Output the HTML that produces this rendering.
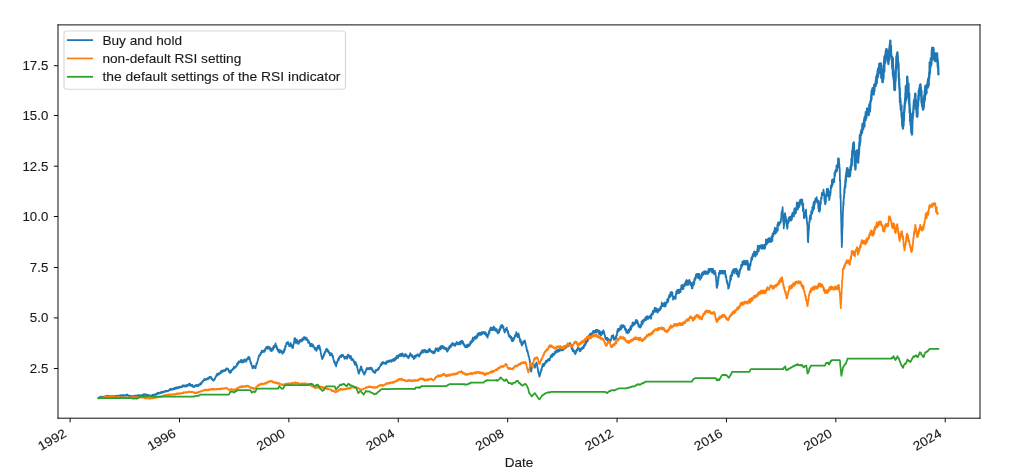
<!DOCTYPE html>
<html><head><meta charset="utf-8"><title>Chart</title>
<style>html,body{margin:0;padding:0;background:#fff;} body{width:1024px;height:471px;overflow:hidden;font-family:"Liberation Sans",sans-serif;}</style>
</head><body>
<svg width="1024" height="471" viewBox="0 0 1024 471" style="display:block;will-change:transform">
<path d="M98.4,397.7 L98.5,398.0 L98.7,398.2 L98.8,397.6 L98.9,397.5 L99.0,397.6 L99.2,397.8 L99.3,397.5 L99.4,397.4 L99.5,397.1 L99.7,397.5 L99.8,397.6 L99.9,397.2 L100.0,396.9 L100.2,397.0 L100.3,397.2 L100.4,396.7 L100.5,397.0 L100.7,397.0 L100.8,397.2 L100.9,397.1 L101.0,397.2 L101.2,397.5 L101.3,397.3 L101.4,397.5 L101.5,397.2 L101.7,397.1 L101.8,397.3 L101.9,396.7 L102.0,397.1 L102.2,397.2 L102.3,396.9 L102.4,397.3 L102.5,397.0 L102.7,396.7 L102.8,397.1 L102.9,397.0 L103.0,397.1 L103.2,397.0 L103.3,397.3 L103.4,397.0 L103.5,397.1 L103.7,397.1 L103.8,396.7 L103.9,397.3 L104.0,396.8 L104.2,397.0 L104.3,396.7 L104.4,396.7 L104.5,396.8 L104.7,397.2 L104.8,396.7 L104.9,396.8 L105.0,397.0 L105.2,396.7 L105.3,396.6 L105.4,396.6 L105.5,396.4 L105.7,396.5 L105.8,396.0 L105.9,396.4 L106.0,396.0 L106.2,396.0 L106.3,396.3 L106.4,396.4 L106.5,396.0 L106.7,396.7 L106.8,396.2 L106.9,396.4 L107.0,396.5 L107.2,396.1 L107.3,396.1 L107.4,396.6 L107.5,396.4 L107.7,396.2 L107.8,395.7 L107.9,395.9 L108.0,396.3 L108.2,396.0 L108.3,395.9 L108.4,396.0 L108.5,396.0 L108.7,396.2 L108.8,396.2 L108.9,396.4 L109.0,396.0 L109.2,396.5 L109.3,396.1 L109.4,396.0 L109.5,396.4 L109.7,396.1 L109.8,396.1 L109.9,396.1 L110.0,396.0 L110.2,396.5 L110.3,396.5 L110.4,396.5 L110.5,396.3 L110.7,396.5 L110.8,396.1 L110.9,396.1 L111.0,396.1 L111.2,396.0 L111.3,396.4 L111.4,396.5 L111.5,396.5 L111.7,395.8 L111.8,396.6 L111.9,396.2 L112.0,396.0 L112.2,396.3 L112.3,396.6 L112.4,396.5 L112.5,396.4 L112.7,396.3 L112.8,396.2 L112.9,396.4 L113.0,396.2 L113.2,396.1 L113.3,396.2 L113.4,396.3 L113.5,396.5 L113.7,396.9 L113.8,396.0 L113.9,396.6 L114.0,396.4 L114.2,396.6 L114.3,396.8 L114.4,396.7 L114.5,396.4 L114.7,396.3 L114.8,396.1 L114.9,396.3 L115.0,396.7 L115.2,396.2 L115.3,396.3 L115.4,396.3 L115.5,396.3 L115.7,396.3 L115.8,396.0 L115.9,395.7 L116.0,395.6 L116.2,396.1 L116.3,395.8 L116.4,395.9 L116.5,396.1 L116.7,395.8 L116.8,396.4 L116.9,396.2 L117.0,395.9 L117.2,395.9 L117.3,396.2 L117.4,395.9 L117.5,396.0 L117.7,396.1 L117.8,396.1 L117.9,396.2 L118.0,396.4 L118.2,396.2 L118.3,396.2 L118.4,396.5 L118.5,396.3 L118.7,395.9 L118.8,396.4 L118.9,395.5 L119.0,396.1 L119.2,396.1 L119.3,395.9 L119.4,395.7 L119.5,395.7 L119.7,395.5 L119.8,395.5 L119.9,395.6 L120.0,395.4 L120.2,395.5 L120.3,395.8 L120.4,395.3 L120.5,395.6 L120.7,395.4 L120.8,395.9 L120.9,396.1 L121.0,395.4 L121.2,395.6 L121.3,396.0 L121.4,395.8 L121.5,395.7 L121.7,395.3 L121.8,395.8 L121.9,395.9 L122.0,396.1 L122.2,395.8 L122.3,395.5 L122.4,395.4 L122.5,395.1 L122.7,395.3 L122.8,395.8 L122.9,395.4 L123.0,395.1 L123.2,395.8 L123.3,395.2 L123.4,395.9 L123.5,395.4 L123.7,395.5 L123.8,395.7 L123.9,395.5 L124.0,395.7 L124.2,395.4 L124.3,395.4 L124.4,395.3 L124.5,395.1 L124.7,395.2 L124.8,395.5 L124.9,395.5 L125.0,395.6 L125.2,395.9 L125.3,395.5 L125.4,395.5 L125.5,395.2 L125.7,395.3 L125.8,395.8 L125.9,395.5 L126.0,395.4 L126.2,395.5 L126.3,395.3 L126.4,395.4 L126.6,395.4 L126.7,395.3 L126.8,394.4 L126.9,394.8 L127.1,395.1 L127.2,394.5 L127.3,395.3 L127.4,395.3 L127.6,395.0 L127.7,395.2 L127.8,395.2 L127.9,395.6 L128.1,395.7 L128.2,395.7 L128.3,395.4 L128.4,395.7 L128.6,395.6 L128.7,396.0 L128.8,395.9 L128.9,395.6 L129.1,395.7 L129.2,396.1 L129.3,396.0 L129.5,396.2 L129.6,396.3 L129.7,396.0 L129.8,395.7 L130.0,395.8 L130.1,396.2 L130.2,396.0 L130.3,396.5 L130.5,396.3 L130.6,396.5 L130.7,396.3 L130.8,396.6 L131.0,395.8 L131.1,396.6 L131.2,396.8 L131.3,396.3 L131.5,396.4 L131.6,396.6 L131.7,396.5 L131.8,396.3 L132.0,396.7 L132.1,396.7 L132.2,396.5 L132.4,396.5 L132.5,396.7 L132.6,396.5 L132.7,396.6 L132.9,396.0 L133.0,396.4 L133.1,396.4 L133.2,396.2 L133.4,396.2 L133.5,396.0 L133.6,396.2 L133.7,396.2 L133.9,396.2 L134.0,396.1 L134.1,396.5 L134.2,396.4 L134.4,395.9 L134.5,396.1 L134.6,395.7 L134.7,396.0 L134.9,396.2 L135.0,396.3 L135.1,395.8 L135.2,395.5 L135.4,395.8 L135.5,396.2 L135.6,395.9 L135.7,396.1 L135.9,396.0 L136.0,395.7 L136.1,395.6 L136.3,396.2 L136.4,396.0 L136.5,396.1 L136.6,396.2 L136.8,396.1 L136.9,395.6 L137.0,396.0 L137.1,396.1 L137.3,396.1 L137.4,396.0 L137.5,395.5 L137.6,395.6 L137.8,395.7 L137.9,395.7 L138.0,395.5 L138.1,395.2 L138.3,395.4 L138.4,395.7 L138.5,395.8 L138.6,395.8 L138.8,395.2 L138.9,395.5 L139.0,395.7 L139.1,395.1 L139.3,395.3 L139.4,395.3 L139.5,395.8 L139.6,395.7 L139.8,395.5 L139.9,395.8 L140.0,395.7 L140.1,395.9 L140.3,396.0 L140.4,396.0 L140.5,395.8 L140.6,395.9 L140.8,395.9 L140.9,396.0 L141.0,395.1 L141.1,395.5 L141.3,395.5 L141.4,395.5 L141.5,395.3 L141.6,395.2 L141.8,395.4 L141.9,395.3 L142.0,395.0 L142.2,395.6 L142.3,395.3 L142.4,395.1 L142.5,395.0 L142.7,395.0 L142.8,395.0 L142.9,394.8 L143.0,395.0 L143.2,394.6 L143.3,394.5 L143.4,394.3 L143.5,395.0 L143.7,395.1 L143.8,394.9 L143.9,394.3 L144.0,394.6 L144.2,394.8 L144.3,394.6 L144.4,394.9 L144.5,394.4 L144.7,394.8 L144.8,394.8 L144.9,394.3 L145.1,394.7 L145.2,394.8 L145.3,394.7 L145.4,394.5 L145.6,395.0 L145.7,394.5 L145.8,394.7 L145.9,394.5 L146.1,394.4 L146.2,395.0 L146.3,395.3 L146.4,394.9 L146.6,395.2 L146.7,395.3 L146.8,395.1 L146.9,395.1 L147.1,394.8 L147.2,395.4 L147.3,395.7 L147.4,395.4 L147.6,395.2 L147.7,395.3 L147.8,395.0 L148.0,395.4 L148.1,395.6 L148.2,395.2 L148.3,395.5 L148.5,395.4 L148.6,395.2 L148.7,395.2 L148.8,395.7 L149.0,395.5 L149.1,395.3 L149.2,396.1 L149.3,396.1 L149.5,395.8 L149.6,395.7 L149.7,396.0 L149.8,396.1 L150.0,396.1 L150.1,395.7 L150.2,395.8 L150.3,396.0 L150.5,396.1 L150.6,396.3 L150.7,395.6 L150.8,396.0 L151.0,396.2 L151.1,395.9 L151.2,395.7 L151.3,395.8 L151.5,395.4 L151.6,395.7 L151.7,395.5 L151.9,395.3 L152.0,395.9 L152.1,395.7 L152.2,395.3 L152.4,395.8 L152.5,395.0 L152.6,395.3 L152.7,395.1 L152.9,394.8 L153.0,395.3 L153.1,394.7 L153.2,395.3 L153.4,394.8 L153.5,395.0 L153.6,395.0 L153.7,395.1 L153.9,394.8 L154.0,395.0 L154.1,394.9 L154.2,394.9 L154.4,394.7 L154.5,395.1 L154.6,394.5 L154.7,394.5 L154.9,394.7 L155.0,394.5 L155.1,394.2 L155.2,394.5 L155.4,394.4 L155.5,394.3 L155.6,394.6 L155.7,394.3 L155.9,394.4 L156.0,394.3 L156.1,394.9 L156.2,394.3 L156.4,394.4 L156.5,394.2 L156.6,394.3 L156.7,394.1 L156.9,394.1 L157.0,393.8 L157.1,393.2 L157.2,393.8 L157.4,393.5 L157.5,393.9 L157.6,393.7 L157.7,393.3 L157.9,392.6 L158.0,392.8 L158.1,393.1 L158.2,393.4 L158.4,393.1 L158.5,393.3 L158.6,393.0 L158.7,393.3 L158.9,393.7 L159.0,393.2 L159.1,393.4 L159.2,393.3 L159.4,393.3 L159.5,393.3 L159.6,393.3 L159.7,392.8 L159.9,392.6 L160.0,392.9 L160.1,392.6 L160.2,392.9 L160.4,393.0 L160.5,392.7 L160.6,392.4 L160.7,392.6 L160.9,392.6 L161.0,392.5 L161.1,392.9 L161.2,392.7 L161.4,392.6 L161.5,392.0 L161.6,391.7 L161.7,392.2 L161.9,392.8 L162.0,392.2 L162.1,392.3 L162.2,392.3 L162.4,392.5 L162.5,392.1 L162.6,392.5 L162.7,391.9 L162.9,391.9 L163.0,392.3 L163.1,392.0 L163.2,391.9 L163.3,391.8 L163.5,391.8 L163.6,391.8 L163.7,392.1 L163.8,391.8 L164.0,391.3 L164.1,392.2 L164.2,391.5 L164.3,391.5 L164.5,391.6 L164.6,391.4 L164.7,391.3 L164.8,391.6 L165.0,391.8 L165.1,391.5 L165.2,391.7 L165.3,391.3 L165.5,391.6 L165.6,391.0 L165.7,391.3 L165.8,390.9 L166.0,390.9 L166.1,390.8 L166.2,390.7 L166.3,391.1 L166.5,390.9 L166.6,391.1 L166.7,391.3 L166.8,390.9 L167.0,390.9 L167.1,391.1 L167.2,391.0 L167.3,391.3 L167.5,391.3 L167.6,391.3 L167.7,390.9 L167.8,391.0 L168.0,391.0 L168.1,391.2 L168.2,390.9 L168.3,390.6 L168.5,390.9 L168.6,390.9 L168.7,390.5 L168.8,390.5 L169.0,390.1 L169.1,390.1 L169.2,390.1 L169.3,389.7 L169.5,389.3 L169.6,390.0 L169.7,390.1 L169.8,389.4 L170.0,389.6 L170.1,389.4 L170.2,388.7 L170.3,390.1 L170.5,389.5 L170.6,389.0 L170.7,389.6 L170.8,389.3 L171.0,389.6 L171.1,389.4 L171.2,389.5 L171.3,389.6 L171.5,389.2 L171.6,389.4 L171.7,389.0 L171.8,388.9 L172.0,389.4 L172.1,389.4 L172.2,388.7 L172.3,389.5 L172.5,389.6 L172.6,389.0 L172.7,389.2 L172.8,389.6 L173.0,388.9 L173.1,389.4 L173.2,389.3 L173.4,389.1 L173.5,388.9 L173.6,388.7 L173.7,388.7 L173.9,388.5 L174.0,388.1 L174.1,388.6 L174.2,388.3 L174.4,389.0 L174.5,389.2 L174.6,388.9 L174.7,387.9 L174.9,388.8 L175.0,388.5 L175.1,388.0 L175.2,387.9 L175.4,388.5 L175.5,388.3 L175.6,388.5 L175.7,388.4 L175.9,388.6 L176.0,387.4 L176.1,388.4 L176.2,388.0 L176.4,388.1 L176.5,388.4 L176.6,388.3 L176.7,387.5 L176.9,388.3 L177.0,387.8 L177.1,387.4 L177.2,387.7 L177.4,387.3 L177.5,388.0 L177.6,388.3 L177.7,387.7 L177.9,387.8 L178.0,387.9 L178.1,387.8 L178.3,387.7 L178.4,387.2 L178.5,387.5 L178.6,387.3 L178.8,387.6 L178.9,387.8 L179.0,387.6 L179.1,387.7 L179.3,387.9 L179.4,387.0 L179.5,387.2 L179.6,386.6 L179.8,387.7 L179.9,387.0 L180.0,387.1 L180.1,387.2 L180.3,387.3 L180.4,387.1 L180.5,387.2 L180.6,387.3 L180.8,387.0 L180.9,387.2 L181.0,386.7 L181.1,386.9 L181.3,386.5 L181.4,387.2 L181.5,387.0 L181.6,387.0 L181.8,386.9 L181.9,386.8 L182.0,387.0 L182.1,386.4 L182.3,385.8 L182.4,386.1 L182.5,386.9 L182.6,386.3 L182.8,386.6 L182.9,386.0 L183.0,386.4 L183.1,385.2 L183.3,385.9 L183.4,386.2 L183.5,386.0 L183.6,386.1 L183.8,386.0 L183.9,385.9 L184.0,386.2 L184.1,386.3 L184.3,385.7 L184.4,385.8 L184.5,386.2 L184.6,385.6 L184.8,385.7 L184.9,385.4 L185.0,386.5 L185.1,386.4 L185.3,385.9 L185.4,386.7 L185.5,386.2 L185.6,385.3 L185.8,386.0 L185.9,386.0 L186.0,386.2 L186.1,386.4 L186.3,385.9 L186.4,386.2 L186.5,385.6 L186.6,386.3 L186.8,385.7 L186.9,385.0 L187.0,386.4 L187.1,385.9 L187.3,385.1 L187.4,385.5 L187.5,385.4 L187.6,385.8 L187.8,385.1 L187.9,385.6 L188.0,385.0 L188.1,385.6 L188.3,384.9 L188.4,384.4 L188.5,384.7 L188.6,384.4 L188.8,384.7 L188.9,383.9 L189.0,384.0 L189.1,384.2 L189.3,385.1 L189.4,384.7 L189.5,384.0 L189.6,383.6 L189.8,385.2 L189.9,384.6 L190.0,384.5 L190.1,385.3 L190.3,384.2 L190.4,384.7 L190.5,385.0 L190.6,385.1 L190.8,385.6 L190.9,386.1 L191.0,385.3 L191.1,385.5 L191.3,385.2 L191.4,385.8 L191.5,385.2 L191.6,385.3 L191.8,385.0 L191.9,385.5 L192.0,385.2 L192.2,385.0 L192.3,386.0 L192.4,384.9 L192.5,385.8 L192.7,385.9 L192.8,385.8 L192.9,386.9 L193.0,386.4 L193.2,386.3 L193.3,386.4 L193.4,386.5 L193.5,386.6 L193.7,386.5 L193.8,386.4 L193.9,387.2 L194.0,386.7 L194.2,386.5 L194.3,386.6 L194.4,386.6 L194.5,386.0 L194.7,385.7 L194.8,386.2 L194.9,386.5 L195.0,385.7 L195.2,385.7 L195.3,385.6 L195.4,385.3 L195.5,385.8 L195.7,385.1 L195.8,386.0 L195.9,386.3 L196.0,385.8 L196.2,385.5 L196.3,385.4 L196.4,386.0 L196.5,385.5 L196.7,384.9 L196.8,385.0 L196.9,385.4 L197.0,385.0 L197.2,385.3 L197.3,385.3 L197.4,385.8 L197.5,385.2 L197.7,385.7 L197.8,385.8 L197.9,385.9 L198.0,385.3 L198.2,385.5 L198.3,386.3 L198.4,385.1 L198.5,384.9 L198.7,385.0 L198.8,384.5 L198.9,384.6 L199.0,384.7 L199.2,384.7 L199.3,384.9 L199.4,384.3 L199.5,384.4 L199.6,384.5 L199.8,384.2 L199.9,384.5 L200.0,385.0 L200.1,383.6 L200.3,383.5 L200.4,383.7 L200.5,383.5 L200.6,383.4 L200.8,383.6 L200.9,384.1 L201.0,384.3 L201.1,383.3 L201.3,382.3 L201.4,383.7 L201.5,383.0 L201.6,382.6 L201.8,383.0 L201.9,382.3 L202.0,382.2 L202.1,381.9 L202.3,382.2 L202.4,382.2 L202.5,381.4 L202.6,381.2 L202.8,381.8 L202.9,381.0 L203.0,380.9 L203.1,380.5 L203.3,380.5 L203.4,380.7 L203.5,380.3 L203.6,380.4 L203.8,380.4 L203.9,379.5 L204.0,380.2 L204.1,380.0 L204.3,380.4 L204.4,379.4 L204.5,379.5 L204.6,379.8 L204.8,378.9 L204.9,379.7 L205.0,379.7 L205.1,379.6 L205.3,379.2 L205.4,380.0 L205.5,379.4 L205.6,379.4 L205.8,379.6 L205.9,379.2 L206.0,379.7 L206.1,379.3 L206.3,379.4 L206.4,379.2 L206.5,379.5 L206.6,378.9 L206.8,379.4 L206.9,379.4 L207.0,378.7 L207.1,378.4 L207.3,378.4 L207.4,378.7 L207.5,379.1 L207.6,378.7 L207.8,379.3 L207.9,379.2 L208.0,378.0 L208.1,378.3 L208.3,378.1 L208.4,378.7 L208.5,378.3 L208.6,378.4 L208.8,377.7 L208.9,378.7 L209.0,377.3 L209.1,377.5 L209.3,377.0 L209.4,377.0 L209.5,377.5 L209.6,376.9 L209.8,377.5 L209.9,377.1 L210.0,377.0 L210.1,377.3 L210.3,377.5 L210.4,377.0 L210.5,377.7 L210.6,377.1 L210.8,377.9 L210.9,377.0 L211.0,377.7 L211.1,377.1 L211.3,377.7 L211.4,377.8 L211.5,378.9 L211.6,379.2 L211.8,379.0 L211.9,379.1 L212.0,378.4 L212.1,378.7 L212.2,379.2 L212.4,379.4 L212.5,379.7 L212.6,379.1 L212.7,379.2 L212.9,379.7 L213.0,380.6 L213.1,380.2 L213.2,380.3 L213.4,380.3 L213.5,380.7 L213.6,380.7 L213.7,380.6 L213.9,379.6 L214.0,379.7 L214.1,380.0 L214.2,379.6 L214.4,379.3 L214.5,379.2 L214.6,379.1 L214.7,379.4 L214.9,379.2 L215.0,378.1 L215.1,378.2 L215.2,378.0 L215.4,377.4 L215.5,377.7 L215.6,377.1 L215.8,376.7 L215.9,376.1 L216.0,376.6 L216.1,376.2 L216.3,376.2 L216.4,375.6 L216.5,376.3 L216.6,374.4 L216.8,374.9 L216.9,375.4 L217.0,375.1 L217.2,375.5 L217.3,375.0 L217.4,374.5 L217.5,373.6 L217.7,373.9 L217.8,375.0 L217.9,373.9 L218.0,373.8 L218.2,373.9 L218.3,374.7 L218.4,374.2 L218.5,373.3 L218.7,373.9 L218.8,374.4 L218.9,374.6 L219.0,374.3 L219.2,373.8 L219.3,373.6 L219.4,373.2 L219.6,373.4 L219.7,373.0 L219.8,373.6 L219.9,373.7 L220.1,373.3 L220.2,373.0 L220.3,373.4 L220.4,373.3 L220.6,373.2 L220.7,371.5 L220.8,371.2 L220.9,371.9 L221.1,372.3 L221.2,372.6 L221.3,372.1 L221.4,371.5 L221.6,371.4 L221.7,371.2 L221.8,371.2 L221.9,370.6 L222.1,372.3 L222.2,371.1 L222.3,371.0 L222.4,370.7 L222.6,370.8 L222.7,371.0 L222.8,371.2 L222.9,370.6 L223.1,371.5 L223.2,371.1 L223.3,371.4 L223.4,370.7 L223.6,371.1 L223.7,370.1 L223.8,370.6 L223.9,370.4 L224.1,371.2 L224.2,371.0 L224.3,371.2 L224.4,370.4 L224.6,370.2 L224.7,370.4 L224.8,369.9 L224.9,370.3 L225.1,370.9 L225.2,369.6 L225.3,369.9 L225.4,370.1 L225.6,370.5 L225.7,370.4 L225.8,369.2 L225.9,368.9 L226.1,369.3 L226.2,369.0 L226.3,368.4 L226.4,369.7 L226.6,369.7 L226.7,369.4 L226.8,369.5 L226.9,369.0 L227.1,368.6 L227.2,369.3 L227.3,368.9 L227.4,369.2 L227.6,368.5 L227.7,368.7 L227.8,368.8 L227.9,369.1 L228.1,368.9 L228.2,369.1 L228.3,369.5 L228.4,369.7 L228.6,370.4 L228.7,370.2 L228.8,370.8 L228.9,371.0 L229.1,371.7 L229.2,371.3 L229.3,371.7 L229.4,372.6 L229.6,371.4 L229.7,372.5 L229.8,372.7 L229.9,372.8 L230.1,373.0 L230.2,372.2 L230.3,370.7 L230.4,372.1 L230.6,371.7 L230.7,371.1 L230.8,371.9 L230.9,370.8 L231.1,370.5 L231.2,372.2 L231.3,370.6 L231.4,370.9 L231.6,370.9 L231.7,370.7 L231.8,370.0 L231.9,370.5 L232.1,370.3 L232.2,370.0 L232.3,370.0 L232.4,370.0 L232.6,369.9 L232.7,369.8 L232.8,368.6 L232.9,369.0 L233.1,369.2 L233.2,368.6 L233.3,368.6 L233.4,368.4 L233.6,368.9 L233.7,368.4 L233.8,367.0 L234.0,368.3 L234.1,367.7 L234.2,367.2 L234.3,368.5 L234.5,367.1 L234.6,367.4 L234.7,367.4 L234.8,366.8 L235.0,367.6 L235.1,366.8 L235.2,367.4 L235.3,366.4 L235.5,367.6 L235.6,366.7 L235.7,367.2 L235.8,366.1 L236.0,366.4 L236.1,366.5 L236.2,366.1 L236.3,365.9 L236.5,366.4 L236.6,366.0 L236.7,365.4 L236.8,365.7 L237.0,363.7 L237.1,364.4 L237.2,365.2 L237.4,364.5 L237.5,363.9 L237.6,362.9 L237.7,363.3 L237.9,364.1 L238.0,362.9 L238.1,362.5 L238.2,362.9 L238.4,363.5 L238.5,362.3 L238.6,361.5 L238.7,362.6 L238.9,362.2 L239.0,362.5 L239.1,361.4 L239.2,361.7 L239.4,361.9 L239.5,362.0 L239.6,362.4 L239.7,362.0 L239.9,362.1 L240.0,362.0 L240.1,362.0 L240.2,361.7 L240.4,361.3 L240.5,361.0 L240.6,361.5 L240.8,360.1 L240.9,360.7 L241.0,360.9 L241.1,362.4 L241.3,362.1 L241.4,362.1 L241.5,360.9 L241.6,360.0 L241.8,361.0 L241.9,361.2 L242.0,360.1 L242.1,362.3 L242.3,362.1 L242.4,360.6 L242.5,361.1 L242.6,361.3 L242.8,361.3 L242.9,361.5 L243.0,361.6 L243.1,361.3 L243.3,362.5 L243.4,361.0 L243.5,360.3 L243.6,361.7 L243.8,361.6 L243.9,360.2 L244.0,360.1 L244.1,360.3 L244.3,359.5 L244.4,359.8 L244.5,360.7 L244.6,359.6 L244.8,360.3 L244.9,360.4 L245.0,360.7 L245.1,361.3 L245.3,361.2 L245.4,361.0 L245.5,360.6 L245.7,360.1 L245.8,361.5 L245.9,361.7 L246.0,360.5 L246.2,360.6 L246.3,361.6 L246.4,359.2 L246.5,360.4 L246.7,359.4 L246.8,359.5 L246.9,358.8 L247.0,359.7 L247.2,359.5 L247.3,358.5 L247.4,359.5 L247.5,359.1 L247.7,359.6 L247.8,358.3 L247.9,359.2 L248.0,358.4 L248.2,358.6 L248.3,357.0 L248.4,359.0 L248.5,357.7 L248.7,358.1 L248.8,357.1 L248.9,357.6 L249.0,357.7 L249.2,357.3 L249.3,357.1 L249.4,358.1 L249.5,357.7 L249.7,358.1 L249.8,358.9 L249.9,360.0 L250.0,359.9 L250.2,361.3 L250.3,361.3 L250.4,361.8 L250.5,362.3 L250.7,363.1 L250.8,363.0 L250.9,361.9 L251.0,363.6 L251.1,364.2 L251.3,363.7 L251.4,363.6 L251.5,365.0 L251.6,364.9 L251.8,365.7 L251.9,365.9 L252.0,366.7 L252.1,366.1 L252.3,367.3 L252.4,367.8 L252.5,368.2 L252.6,367.7 L252.7,367.6 L252.9,368.1 L253.0,367.4 L253.1,367.3 L253.2,366.9 L253.3,366.5 L253.5,367.3 L253.6,366.0 L253.7,365.8 L253.8,366.8 L254.0,366.4 L254.1,365.9 L254.2,366.5 L254.3,366.7 L254.5,367.0 L254.6,366.9 L254.7,367.8 L254.8,366.7 L255.0,367.6 L255.1,367.7 L255.2,368.0 L255.4,368.3 L255.5,368.0 L255.6,368.2 L255.7,367.1 L255.9,366.1 L256.0,365.8 L256.1,365.7 L256.2,365.4 L256.4,363.5 L256.5,363.7 L256.6,363.9 L256.7,364.1 L256.9,363.2 L257.0,363.3 L257.1,363.7 L257.2,362.2 L257.3,361.9 L257.5,361.6 L257.6,361.4 L257.7,360.7 L257.8,359.8 L258.0,359.9 L258.1,359.5 L258.2,358.6 L258.3,358.5 L258.5,358.8 L258.6,356.6 L258.7,356.8 L258.8,357.1 L258.9,356.7 L259.1,355.3 L259.2,355.2 L259.3,355.4 L259.4,355.7 L259.6,356.0 L259.7,354.5 L259.8,355.6 L259.9,354.8 L260.1,354.7 L260.2,355.0 L260.3,354.5 L260.4,354.3 L260.6,354.5 L260.7,354.3 L260.8,352.6 L260.9,352.3 L261.1,352.5 L261.2,352.9 L261.3,353.1 L261.5,351.8 L261.6,352.9 L261.7,350.7 L261.8,352.6 L262.0,351.5 L262.1,351.6 L262.2,351.2 L262.3,350.9 L262.5,352.1 L262.6,351.2 L262.7,351.5 L262.8,352.0 L263.0,350.8 L263.1,351.9 L263.2,351.0 L263.4,351.9 L263.5,350.9 L263.6,352.0 L263.7,351.1 L263.9,350.8 L264.0,352.0 L264.1,352.0 L264.2,351.7 L264.4,350.1 L264.5,349.7 L264.6,351.2 L264.7,350.8 L264.9,349.9 L265.0,350.0 L265.1,349.3 L265.3,350.7 L265.4,349.5 L265.5,348.4 L265.6,349.1 L265.8,348.3 L265.9,348.3 L266.0,347.3 L266.1,347.5 L266.3,347.9 L266.4,348.2 L266.5,347.6 L266.6,347.6 L266.8,347.5 L266.9,347.0 L267.0,348.3 L267.1,347.1 L267.3,347.1 L267.4,348.7 L267.5,347.2 L267.6,347.2 L267.8,349.0 L267.9,346.4 L268.0,348.2 L268.1,347.2 L268.3,347.4 L268.4,347.0 L268.5,347.5 L268.6,347.9 L268.8,347.3 L268.9,347.2 L269.0,348.4 L269.1,348.1 L269.3,348.0 L269.4,347.7 L269.5,347.0 L269.6,348.8 L269.8,347.7 L269.9,348.5 L270.0,348.6 L270.1,349.0 L270.3,350.6 L270.4,349.5 L270.5,349.8 L270.6,350.4 L270.8,349.5 L270.9,348.5 L271.0,349.2 L271.1,349.7 L271.3,349.2 L271.4,350.4 L271.5,351.1 L271.7,350.3 L271.8,351.2 L271.9,350.5 L272.0,349.1 L272.2,349.6 L272.3,348.1 L272.4,349.4 L272.5,348.5 L272.7,348.1 L272.8,348.6 L272.9,348.8 L273.0,349.9 L273.2,348.7 L273.3,348.1 L273.4,347.7 L273.5,346.2 L273.7,346.6 L273.8,345.9 L273.9,346.1 L274.0,347.3 L274.2,347.3 L274.3,346.3 L274.4,345.9 L274.5,346.6 L274.7,347.5 L274.8,345.6 L274.9,346.1 L275.0,345.8 L275.2,344.5 L275.3,344.6 L275.4,345.1 L275.6,343.3 L275.7,344.4 L275.8,344.9 L275.9,345.2 L276.1,345.6 L276.2,346.3 L276.3,345.9 L276.4,346.1 L276.6,345.9 L276.7,346.6 L276.8,347.6 L276.9,349.2 L277.1,347.7 L277.2,347.7 L277.3,348.8 L277.4,349.4 L277.6,349.2 L277.7,349.4 L277.8,349.7 L277.9,350.6 L278.0,350.9 L278.2,350.4 L278.3,350.2 L278.4,351.7 L278.5,351.1 L278.7,350.7 L278.8,350.3 L278.9,349.7 L279.0,352.3 L279.2,350.9 L279.3,351.2 L279.4,351.5 L279.5,351.9 L279.7,352.7 L279.8,351.5 L279.9,352.2 L280.0,350.9 L280.2,350.2 L280.3,351.6 L280.4,350.6 L280.5,350.6 L280.7,351.4 L280.8,352.2 L280.9,351.5 L281.0,350.6 L281.2,351.3 L281.3,351.1 L281.4,351.3 L281.5,351.7 L281.7,351.9 L281.8,352.2 L281.9,351.9 L282.0,351.6 L282.2,351.3 L282.3,351.5 L282.4,353.8 L282.5,353.8 L282.7,351.6 L282.8,352.7 L282.9,352.3 L283.0,353.0 L283.2,351.9 L283.3,351.8 L283.4,351.4 L283.5,351.4 L283.7,350.9 L283.8,350.9 L283.9,351.4 L284.0,352.1 L284.2,349.5 L284.3,350.4 L284.4,348.7 L284.5,350.8 L284.7,350.4 L284.8,349.1 L284.9,349.5 L285.1,347.9 L285.2,346.4 L285.3,348.3 L285.4,345.6 L285.6,345.8 L285.7,346.8 L285.8,345.8 L285.9,345.3 L286.1,344.2 L286.2,343.5 L286.3,343.3 L286.4,344.2 L286.6,343.4 L286.7,342.7 L286.8,343.7 L286.9,343.4 L287.1,343.4 L287.2,342.8 L287.3,343.7 L287.4,343.0 L287.5,343.0 L287.7,343.0 L287.8,342.5 L287.9,342.5 L288.0,341.8 L288.2,344.4 L288.3,342.9 L288.4,343.0 L288.5,344.2 L288.7,344.3 L288.8,344.0 L288.9,344.0 L289.0,344.4 L289.2,346.3 L289.3,344.7 L289.4,345.2 L289.5,345.8 L289.7,345.9 L289.8,345.1 L289.9,344.5 L290.0,344.0 L290.2,344.0 L290.3,344.9 L290.4,344.7 L290.5,344.9 L290.7,343.0 L290.8,343.7 L290.9,345.4 L291.0,346.5 L291.2,345.4 L291.3,344.4 L291.4,345.7 L291.5,345.4 L291.7,346.0 L291.8,346.2 L291.9,346.6 L292.0,346.8 L292.2,347.1 L292.3,346.4 L292.4,348.1 L292.5,347.0 L292.7,346.1 L292.8,347.3 L292.9,347.5 L293.1,346.3 L293.2,347.6 L293.3,344.6 L293.4,344.3 L293.6,343.9 L293.7,344.3 L293.8,343.6 L293.9,342.2 L294.1,342.7 L294.2,342.1 L294.3,340.0 L294.4,338.5 L294.6,340.1 L294.7,338.5 L294.8,338.6 L294.9,339.2 L295.1,338.2 L295.2,341.3 L295.3,339.8 L295.4,339.6 L295.6,340.1 L295.7,341.1 L295.8,343.0 L295.9,339.1 L296.1,340.3 L296.2,341.4 L296.3,339.9 L296.4,340.5 L296.6,340.3 L296.7,340.7 L296.8,341.3 L296.9,340.1 L297.1,340.4 L297.2,340.1 L297.3,341.4 L297.4,343.5 L297.6,342.6 L297.7,342.1 L297.8,343.7 L297.9,343.3 L298.1,342.1 L298.2,341.9 L298.3,342.4 L298.4,341.9 L298.6,342.3 L298.7,342.5 L298.8,343.9 L299.0,341.8 L299.1,343.2 L299.2,342.0 L299.3,340.6 L299.5,341.5 L299.6,341.2 L299.7,341.3 L299.8,340.2 L300.0,341.3 L300.1,341.7 L300.2,340.0 L300.3,341.2 L300.5,341.7 L300.6,340.9 L300.7,339.9 L300.8,340.3 L301.0,341.1 L301.1,341.2 L301.2,341.1 L301.3,340.8 L301.5,340.5 L301.6,340.4 L301.7,339.2 L301.8,340.1 L302.0,341.3 L302.1,339.8 L302.2,339.9 L302.3,339.9 L302.5,339.8 L302.6,339.5 L302.7,339.5 L302.9,339.3 L303.0,338.5 L303.1,339.5 L303.2,337.7 L303.4,339.9 L303.5,338.7 L303.6,338.2 L303.7,339.8 L303.9,338.0 L304.0,338.5 L304.1,337.1 L304.2,338.0 L304.4,338.5 L304.5,337.6 L304.6,338.0 L304.7,337.1 L304.9,338.7 L305.0,337.3 L305.1,338.3 L305.2,337.9 L305.4,338.5 L305.5,338.1 L305.6,337.9 L305.7,338.2 L305.9,338.7 L306.0,339.8 L306.1,337.6 L306.2,339.4 L306.4,338.6 L306.5,338.6 L306.6,337.8 L306.8,339.8 L306.9,339.5 L307.0,340.1 L307.1,339.0 L307.3,339.3 L307.4,339.7 L307.5,339.5 L307.6,340.5 L307.8,340.8 L307.9,341.0 L308.0,340.1 L308.1,342.6 L308.3,340.4 L308.4,341.1 L308.5,340.5 L308.6,341.5 L308.8,342.2 L308.9,341.6 L309.0,342.1 L309.1,342.0 L309.3,342.9 L309.4,342.9 L309.5,343.5 L309.6,342.3 L309.8,343.5 L309.9,343.9 L310.0,344.5 L310.1,346.2 L310.3,344.5 L310.4,345.4 L310.5,344.7 L310.7,345.4 L310.8,345.8 L310.9,346.5 L311.0,345.0 L311.2,343.9 L311.3,345.2 L311.4,345.6 L311.5,346.1 L311.7,345.4 L311.8,343.9 L311.9,345.5 L312.0,345.1 L312.2,344.5 L312.3,345.5 L312.4,344.9 L312.5,345.3 L312.7,346.4 L312.8,345.3 L312.9,344.5 L313.0,346.8 L313.2,346.5 L313.3,346.8 L313.4,345.7 L313.5,345.6 L313.7,346.7 L313.8,346.8 L313.9,347.1 L314.0,347.0 L314.2,347.5 L314.3,347.3 L314.4,347.3 L314.6,348.3 L314.7,349.5 L314.8,347.5 L314.9,349.3 L315.1,349.3 L315.2,347.8 L315.3,348.8 L315.4,347.8 L315.6,349.5 L315.7,348.9 L315.8,349.9 L315.9,349.5 L316.1,350.2 L316.2,350.8 L316.3,350.3 L316.4,350.5 L316.6,349.4 L316.7,350.8 L316.8,349.2 L316.9,348.8 L317.1,349.0 L317.2,347.1 L317.3,347.7 L317.4,348.2 L317.6,347.6 L317.7,346.0 L317.8,347.0 L317.9,347.6 L318.1,346.3 L318.2,348.7 L318.3,346.9 L318.4,346.7 L318.6,346.7 L318.7,346.4 L318.8,345.9 L318.9,345.6 L319.1,345.7 L319.2,345.4 L319.3,346.0 L319.5,346.5 L319.6,348.0 L319.7,346.7 L319.8,346.8 L320.0,349.6 L320.1,350.0 L320.2,349.5 L320.3,348.9 L320.5,350.1 L320.6,351.8 L320.7,352.2 L320.8,353.1 L321.0,353.7 L321.1,354.1 L321.2,354.2 L321.3,356.0 L321.5,356.5 L321.6,356.3 L321.7,356.5 L321.8,357.8 L322.0,358.0 L322.1,358.1 L322.2,359.1 L322.4,357.3 L322.5,357.4 L322.6,357.8 L322.7,358.0 L322.9,358.1 L323.0,357.0 L323.1,356.5 L323.2,356.7 L323.4,356.6 L323.5,355.1 L323.6,356.0 L323.7,356.4 L323.9,354.0 L324.0,354.0 L324.1,353.9 L324.2,353.4 L324.4,353.0 L324.5,354.7 L324.6,353.4 L324.7,353.3 L324.9,353.3 L325.0,351.7 L325.1,353.0 L325.2,351.6 L325.4,352.3 L325.5,351.2 L325.6,351.4 L325.7,350.6 L325.9,349.5 L326.0,349.3 L326.1,349.5 L326.3,349.2 L326.4,349.5 L326.5,350.0 L326.6,348.7 L326.8,350.0 L326.9,350.1 L327.0,350.2 L327.1,350.8 L327.3,351.2 L327.4,349.3 L327.5,350.8 L327.6,350.4 L327.8,350.1 L327.9,351.7 L328.0,351.6 L328.1,351.0 L328.3,351.3 L328.4,350.7 L328.5,352.4 L328.6,352.9 L328.8,353.0 L328.9,351.7 L329.0,353.0 L329.1,353.1 L329.3,353.4 L329.4,353.2 L329.5,352.9 L329.6,352.7 L329.8,352.7 L329.9,353.0 L330.0,355.4 L330.1,354.4 L330.3,354.0 L330.4,354.0 L330.5,354.8 L330.6,355.2 L330.8,355.1 L330.9,353.4 L331.0,353.6 L331.1,354.1 L331.3,354.7 L331.4,354.3 L331.5,354.2 L331.6,355.5 L331.8,353.3 L331.9,354.2 L332.0,355.3 L332.2,354.9 L332.3,355.0 L332.4,355.8 L332.5,355.6 L332.7,355.4 L332.8,357.5 L332.9,357.9 L333.0,356.1 L333.2,357.6 L333.3,358.2 L333.4,358.9 L333.5,359.7 L333.7,360.2 L333.8,360.2 L333.9,360.9 L334.0,362.1 L334.2,361.6 L334.3,362.2 L334.4,362.0 L334.5,361.2 L334.7,362.6 L334.8,362.3 L334.9,363.3 L335.0,363.8 L335.2,362.7 L335.3,364.2 L335.4,363.9 L335.5,364.7 L335.7,365.0 L335.8,365.9 L335.9,365.6 L336.1,366.4 L336.2,365.1 L336.3,364.0 L336.4,364.1 L336.6,363.8 L336.7,364.5 L336.8,363.8 L336.9,361.9 L337.1,362.6 L337.2,362.5 L337.3,362.4 L337.4,361.7 L337.6,361.1 L337.7,361.3 L337.8,360.2 L337.9,359.4 L338.1,359.9 L338.2,358.9 L338.3,359.0 L338.4,359.2 L338.6,358.6 L338.7,360.1 L338.8,357.8 L338.9,357.6 L339.1,358.9 L339.2,358.0 L339.3,357.5 L339.4,357.9 L339.6,357.2 L339.7,356.7 L339.8,357.6 L339.9,356.8 L340.1,356.6 L340.2,356.6 L340.3,356.2 L340.4,355.7 L340.6,355.5 L340.7,356.1 L340.8,356.0 L341.0,355.7 L341.1,355.5 L341.2,357.1 L341.3,355.6 L341.5,355.7 L341.6,355.4 L341.7,355.0 L341.8,355.3 L342.0,355.4 L342.1,354.6 L342.2,355.1 L342.3,355.1 L342.5,356.2 L342.6,356.2 L342.7,355.2 L342.8,355.4 L343.0,355.9 L343.1,355.6 L343.2,355.1 L343.4,356.7 L343.5,356.5 L343.6,356.5 L343.7,356.6 L343.9,356.7 L344.0,356.3 L344.1,357.0 L344.2,357.8 L344.4,358.3 L344.5,358.9 L344.6,357.5 L344.7,357.7 L344.9,357.1 L345.0,357.2 L345.1,356.8 L345.2,357.7 L345.4,357.5 L345.5,358.1 L345.6,357.6 L345.8,358.0 L345.9,357.2 L346.0,357.5 L346.1,357.1 L346.2,357.6 L346.4,357.3 L346.5,357.5 L346.6,357.1 L346.8,357.5 L346.9,356.6 L347.0,358.9 L347.1,357.4 L347.2,355.6 L347.4,356.8 L347.5,356.3 L347.6,356.3 L347.8,357.2 L347.9,354.6 L348.0,355.2 L348.1,355.9 L348.2,354.7 L348.4,355.8 L348.5,355.2 L348.6,355.2 L348.8,356.1 L348.9,356.6 L349.0,355.4 L349.1,355.7 L349.3,356.4 L349.4,356.0 L349.5,355.7 L349.6,356.3 L349.8,358.0 L349.9,358.1 L350.0,358.1 L350.1,358.3 L350.3,357.5 L350.4,357.6 L350.5,358.1 L350.6,357.9 L350.8,356.5 L350.9,358.1 L351.0,356.1 L351.1,357.5 L351.3,359.2 L351.4,359.4 L351.5,360.2 L351.6,358.5 L351.8,358.7 L351.9,359.1 L352.0,359.3 L352.1,359.0 L352.3,359.4 L352.4,359.1 L352.5,358.6 L352.7,359.0 L352.8,359.4 L352.9,360.1 L353.0,360.3 L353.2,359.9 L353.3,360.8 L353.4,359.9 L353.5,360.7 L353.7,360.2 L353.8,362.1 L353.9,361.0 L354.0,361.3 L354.2,362.9 L354.3,362.4 L354.4,361.6 L354.5,363.1 L354.7,364.3 L354.8,362.8 L354.9,362.2 L355.0,362.5 L355.2,364.2 L355.3,362.7 L355.4,362.7 L355.5,364.8 L355.7,362.3 L355.8,363.1 L355.9,362.4 L356.0,363.2 L356.2,363.7 L356.3,363.9 L356.4,365.6 L356.6,365.4 L356.7,364.6 L356.8,365.6 L356.9,366.9 L357.1,366.7 L357.2,367.4 L357.3,367.1 L357.4,367.5 L357.6,369.7 L357.7,369.7 L357.8,369.8 L357.9,370.6 L358.1,370.5 L358.2,371.5 L358.3,372.0 L358.4,373.0 L358.6,372.9 L358.7,373.4 L358.8,373.7 L358.9,373.3 L359.1,373.1 L359.2,372.8 L359.3,371.9 L359.4,371.6 L359.6,371.7 L359.7,370.5 L359.8,370.7 L359.9,370.5 L360.1,369.4 L360.2,370.4 L360.3,368.4 L360.4,369.0 L360.6,368.4 L360.7,368.2 L360.8,367.3 L360.9,366.5 L361.1,367.0 L361.2,366.9 L361.3,366.5 L361.5,367.3 L361.6,368.3 L361.7,368.6 L361.8,368.8 L362.0,369.7 L362.1,370.2 L362.2,371.0 L362.3,369.5 L362.5,369.9 L362.6,370.4 L362.7,370.9 L362.8,372.1 L363.0,371.8 L363.1,371.9 L363.2,372.4 L363.3,372.1 L363.5,373.3 L363.6,373.2 L363.7,373.4 L363.8,373.3 L364.0,374.0 L364.1,374.7 L364.2,374.7 L364.4,373.1 L364.5,373.8 L364.6,374.1 L364.7,372.9 L364.9,372.2 L365.0,373.0 L365.1,372.5 L365.2,371.7 L365.4,372.2 L365.5,371.8 L365.6,372.1 L365.7,371.3 L365.9,370.1 L366.0,370.7 L366.1,370.2 L366.2,369.6 L366.4,369.0 L366.5,369.4 L366.6,369.0 L366.7,368.3 L366.9,368.2 L367.0,367.9 L367.1,368.6 L367.3,368.3 L367.4,369.1 L367.5,369.3 L367.6,369.1 L367.8,368.7 L367.9,368.8 L368.0,368.6 L368.1,368.4 L368.3,368.8 L368.4,368.1 L368.5,368.2 L368.6,368.8 L368.8,369.1 L368.9,368.6 L369.0,368.3 L369.1,368.8 L369.3,369.4 L369.4,368.7 L369.5,369.0 L369.6,367.9 L369.8,368.6 L369.9,368.5 L370.0,368.2 L370.1,368.1 L370.3,368.2 L370.4,368.8 L370.5,368.4 L370.6,367.5 L370.8,368.5 L370.9,367.9 L371.0,369.1 L371.2,369.2 L371.3,368.0 L371.4,368.8 L371.5,368.4 L371.7,368.1 L371.8,369.0 L371.9,369.7 L372.0,368.7 L372.2,368.9 L372.3,370.4 L372.4,370.6 L372.5,370.9 L372.7,371.0 L372.8,370.3 L372.9,370.2 L373.0,370.7 L373.2,371.6 L373.3,372.0 L373.4,371.1 L373.5,371.2 L373.7,372.2 L373.8,371.7 L373.9,372.3 L374.0,371.7 L374.2,371.9 L374.3,371.9 L374.4,372.5 L374.5,372.6 L374.7,372.3 L374.8,372.7 L374.9,371.8 L375.0,373.0 L375.2,372.7 L375.3,371.4 L375.4,371.8 L375.5,370.1 L375.7,371.7 L375.8,371.4 L375.9,370.5 L376.0,371.1 L376.2,370.3 L376.3,370.0 L376.4,370.4 L376.5,370.5 L376.7,370.5 L376.8,370.1 L376.9,369.6 L377.0,370.0 L377.2,369.7 L377.3,369.7 L377.4,369.6 L377.5,369.7 L377.7,369.1 L377.8,369.5 L377.9,368.9 L378.0,368.8 L378.2,368.3 L378.3,368.2 L378.4,370.0 L378.5,367.8 L378.6,368.6 L378.8,368.5 L378.9,368.3 L379.0,368.1 L379.1,368.5 L379.3,367.4 L379.4,367.7 L379.5,367.2 L379.6,366.8 L379.8,367.0 L379.9,366.8 L380.0,366.8 L380.1,366.6 L380.3,366.1 L380.4,366.0 L380.5,364.5 L380.6,365.3 L380.8,364.3 L380.9,364.7 L381.0,364.1 L381.1,365.3 L381.3,363.9 L381.4,365.1 L381.5,363.0 L381.6,363.5 L381.8,364.1 L381.9,364.2 L382.0,363.0 L382.1,362.8 L382.3,362.3 L382.4,364.1 L382.5,362.3 L382.6,362.7 L382.8,362.4 L382.9,362.5 L383.0,363.0 L383.1,361.9 L383.3,362.7 L383.4,363.4 L383.5,362.4 L383.6,363.3 L383.8,363.3 L383.9,363.2 L384.0,362.9 L384.1,363.0 L384.3,362.9 L384.4,362.9 L384.5,363.5 L384.6,363.1 L384.8,363.5 L384.9,363.8 L385.0,363.5 L385.1,363.5 L385.3,363.1 L385.4,363.5 L385.5,362.4 L385.6,362.9 L385.8,363.4 L385.9,363.5 L386.0,363.6 L386.2,363.6 L386.3,363.9 L386.4,361.4 L386.5,361.8 L386.7,362.5 L386.8,362.5 L386.9,362.5 L387.0,362.5 L387.2,361.7 L387.3,361.4 L387.4,361.6 L387.5,361.5 L387.7,362.1 L387.8,362.3 L387.9,362.1 L388.0,362.2 L388.2,361.9 L388.3,361.4 L388.4,360.5 L388.5,361.0 L388.7,361.0 L388.8,361.6 L388.9,361.4 L389.0,361.4 L389.2,361.8 L389.3,360.8 L389.4,361.0 L389.5,361.1 L389.7,360.9 L389.8,361.0 L389.9,360.7 L390.1,361.4 L390.2,360.4 L390.3,360.4 L390.4,360.4 L390.6,360.2 L390.7,360.9 L390.8,360.3 L390.9,360.0 L391.1,360.7 L391.2,360.6 L391.3,360.9 L391.4,360.8 L391.6,361.8 L391.7,360.1 L391.8,360.2 L391.9,360.2 L392.1,361.2 L392.2,359.8 L392.3,360.2 L392.5,359.7 L392.6,360.6 L392.7,360.0 L392.8,359.4 L393.0,360.6 L393.1,360.1 L393.2,359.8 L393.3,360.4 L393.5,360.1 L393.6,359.9 L393.7,360.1 L393.8,359.0 L394.0,361.0 L394.1,361.0 L394.2,359.8 L394.3,358.4 L394.5,360.1 L394.6,359.6 L394.7,358.8 L394.9,358.8 L395.0,360.3 L395.1,359.9 L395.2,359.1 L395.4,357.9 L395.5,358.3 L395.6,357.6 L395.7,357.6 L395.9,359.2 L396.0,358.1 L396.1,357.6 L396.2,358.3 L396.4,358.9 L396.5,357.8 L396.6,357.3 L396.7,355.8 L396.9,357.4 L397.0,357.5 L397.1,356.9 L397.2,356.3 L397.4,357.0 L397.5,357.9 L397.6,356.5 L397.7,355.7 L397.9,356.4 L398.0,357.3 L398.1,358.0 L398.2,356.0 L398.4,356.5 L398.5,355.6 L398.6,355.8 L398.7,355.4 L398.9,355.1 L399.0,355.5 L399.1,356.4 L399.2,355.2 L399.4,355.2 L399.5,354.7 L399.6,354.3 L399.8,354.5 L399.9,354.9 L400.0,355.2 L400.1,354.8 L400.2,355.9 L400.4,356.0 L400.5,353.8 L400.6,354.5 L400.8,354.6 L400.9,354.8 L401.0,354.1 L401.1,356.2 L401.2,354.9 L401.4,354.9 L401.5,355.8 L401.6,354.7 L401.8,355.0 L401.9,355.8 L402.0,353.7 L402.1,353.4 L402.2,354.3 L402.4,353.5 L402.5,354.2 L402.6,354.4 L402.8,354.5 L402.9,353.9 L403.0,354.3 L403.1,355.5 L403.3,355.4 L403.4,355.9 L403.5,356.1 L403.6,356.5 L403.8,356.0 L403.9,356.6 L404.0,356.2 L404.1,356.5 L404.3,356.3 L404.4,355.6 L404.5,356.3 L404.6,355.2 L404.8,355.9 L404.9,355.2 L405.0,354.5 L405.1,355.5 L405.3,354.7 L405.4,354.7 L405.5,354.7 L405.7,354.0 L405.8,356.0 L405.9,355.3 L406.0,355.9 L406.2,355.2 L406.3,355.0 L406.4,356.4 L406.5,355.0 L406.7,355.0 L406.8,355.7 L406.9,356.5 L407.0,356.7 L407.2,356.2 L407.3,356.1 L407.4,356.9 L407.5,357.0 L407.7,356.5 L407.8,357.1 L407.9,356.4 L408.1,358.1 L408.2,356.5 L408.3,356.6 L408.4,358.4 L408.6,356.8 L408.7,358.0 L408.8,356.0 L408.9,356.5 L409.1,356.6 L409.2,356.8 L409.3,355.6 L409.4,355.8 L409.6,355.7 L409.7,356.3 L409.8,354.6 L409.9,355.0 L410.1,354.6 L410.2,353.1 L410.3,353.9 L410.4,354.4 L410.6,354.6 L410.7,354.7 L410.8,354.2 L410.9,354.2 L411.1,355.1 L411.2,354.9 L411.3,354.7 L411.4,355.8 L411.6,355.4 L411.7,356.1 L411.8,355.6 L411.9,356.1 L412.1,355.0 L412.2,357.1 L412.3,357.0 L412.4,356.0 L412.6,356.2 L412.7,356.1 L412.8,356.2 L412.9,357.0 L413.1,356.8 L413.2,356.4 L413.3,357.1 L413.4,357.9 L413.6,357.1 L413.7,358.7 L413.8,359.2 L413.9,358.5 L414.1,358.4 L414.2,358.1 L414.3,357.9 L414.5,356.0 L414.6,357.2 L414.7,356.2 L414.8,357.9 L415.0,356.1 L415.1,356.2 L415.2,356.5 L415.3,357.5 L415.5,356.7 L415.6,357.6 L415.7,355.4 L415.8,356.9 L416.0,355.8 L416.1,356.1 L416.2,355.4 L416.3,356.1 L416.5,355.1 L416.6,355.3 L416.7,355.3 L416.8,355.3 L417.0,355.6 L417.1,355.2 L417.2,355.0 L417.4,355.3 L417.5,355.2 L417.6,354.6 L417.7,354.2 L417.9,355.0 L418.0,354.3 L418.1,354.9 L418.2,354.5 L418.4,355.1 L418.5,355.5 L418.6,356.4 L418.7,355.7 L418.9,356.3 L419.0,354.9 L419.1,355.9 L419.2,356.6 L419.4,355.4 L419.5,356.1 L419.6,355.6 L419.7,354.9 L419.9,355.0 L420.0,353.9 L420.1,354.0 L420.2,354.5 L420.4,352.9 L420.5,354.2 L420.6,352.5 L420.7,353.1 L420.9,353.1 L421.0,352.3 L421.1,353.3 L421.2,353.5 L421.4,352.6 L421.5,351.7 L421.6,352.0 L421.8,351.8 L421.9,352.6 L422.0,350.5 L422.1,350.6 L422.3,352.0 L422.4,351.4 L422.5,350.0 L422.6,351.3 L422.8,351.3 L422.9,350.9 L423.0,352.6 L423.1,350.8 L423.3,351.4 L423.4,351.0 L423.5,350.6 L423.6,351.1 L423.8,350.6 L423.9,350.1 L424.0,350.5 L424.1,350.9 L424.3,351.7 L424.4,350.2 L424.5,351.8 L424.6,351.1 L424.8,350.7 L424.9,350.3 L425.0,349.9 L425.1,350.1 L425.3,350.4 L425.4,351.4 L425.5,350.9 L425.6,350.9 L425.8,352.5 L425.9,351.8 L426.0,350.6 L426.1,351.6 L426.3,351.1 L426.4,350.8 L426.5,351.9 L426.6,351.5 L426.8,351.8 L426.9,351.7 L427.0,352.2 L427.2,351.5 L427.3,352.5 L427.4,352.0 L427.5,352.1 L427.7,350.6 L427.8,350.5 L427.9,350.8 L428.0,350.6 L428.2,350.6 L428.3,350.7 L428.4,350.3 L428.5,349.9 L428.7,351.9 L428.8,350.5 L428.9,351.1 L429.0,350.7 L429.2,350.5 L429.3,348.9 L429.4,350.6 L429.5,350.9 L429.7,350.2 L429.8,349.3 L429.9,349.0 L430.1,350.5 L430.2,350.6 L430.3,350.0 L430.4,350.4 L430.6,351.1 L430.7,350.7 L430.8,350.6 L430.9,350.7 L431.1,350.9 L431.2,351.9 L431.3,352.0 L431.4,351.0 L431.6,351.6 L431.7,351.9 L431.8,351.7 L431.9,352.0 L432.1,351.4 L432.2,351.9 L432.3,352.1 L432.4,351.6 L432.6,352.8 L432.7,351.8 L432.8,352.2 L432.9,351.5 L433.1,351.6 L433.2,352.3 L433.3,352.3 L433.4,352.9 L433.6,353.4 L433.7,353.2 L433.8,351.6 L434.0,352.0 L434.1,352.1 L434.2,352.8 L434.3,353.2 L434.5,351.1 L434.6,352.4 L434.7,352.3 L434.8,351.7 L435.0,352.3 L435.1,350.9 L435.2,351.4 L435.3,350.7 L435.5,349.1 L435.6,348.3 L435.7,349.9 L435.8,348.4 L436.0,349.7 L436.1,349.0 L436.2,349.9 L436.3,349.4 L436.5,349.7 L436.6,349.8 L436.7,348.9 L436.9,350.2 L437.0,349.9 L437.1,348.7 L437.2,349.5 L437.4,351.0 L437.5,350.1 L437.6,349.2 L437.7,348.8 L437.9,348.5 L438.0,349.5 L438.1,349.6 L438.2,349.8 L438.4,349.6 L438.5,349.9 L438.6,349.8 L438.7,351.1 L438.9,349.0 L439.0,348.5 L439.1,348.0 L439.2,348.6 L439.4,348.3 L439.5,348.7 L439.6,348.8 L439.7,347.5 L439.9,348.7 L440.0,347.7 L440.1,347.7 L440.2,348.1 L440.4,348.4 L440.5,349.5 L440.6,348.9 L440.7,346.1 L440.9,349.0 L441.0,347.3 L441.1,348.1 L441.2,348.2 L441.4,347.6 L441.5,348.3 L441.6,347.4 L441.8,346.8 L441.9,347.6 L442.0,346.9 L442.1,345.8 L442.2,346.1 L442.4,345.8 L442.5,347.3 L442.6,345.8 L442.8,347.7 L442.9,347.0 L443.0,347.6 L443.1,347.6 L443.2,346.7 L443.4,348.3 L443.5,346.9 L443.6,348.5 L443.8,347.3 L443.9,346.7 L444.0,348.3 L444.1,348.7 L444.3,348.9 L444.4,348.8 L444.5,348.8 L444.6,348.0 L444.8,347.8 L444.9,348.3 L445.0,349.1 L445.1,348.5 L445.3,348.5 L445.4,348.3 L445.5,347.9 L445.6,349.3 L445.8,348.4 L445.9,349.2 L446.0,348.8 L446.1,350.0 L446.3,349.4 L446.4,348.1 L446.5,349.4 L446.6,349.8 L446.8,349.9 L446.9,350.3 L447.0,350.3 L447.1,351.6 L447.3,351.0 L447.4,350.8 L447.5,351.4 L447.7,350.0 L447.8,349.7 L447.9,350.8 L448.0,350.6 L448.2,349.7 L448.3,349.2 L448.4,347.9 L448.5,347.6 L448.7,348.8 L448.8,348.0 L448.9,348.4 L449.0,347.4 L449.2,347.9 L449.3,348.8 L449.4,346.2 L449.5,346.1 L449.7,346.5 L449.8,345.9 L449.9,346.6 L450.1,346.5 L450.2,347.4 L450.3,347.4 L450.4,347.0 L450.6,346.3 L450.7,347.3 L450.8,346.7 L450.9,346.8 L451.1,344.5 L451.2,345.4 L451.3,344.8 L451.4,345.7 L451.6,345.2 L451.7,344.9 L451.8,345.2 L451.9,344.0 L452.1,343.7 L452.2,343.8 L452.3,344.5 L452.4,342.9 L452.6,344.8 L452.7,343.2 L452.8,344.2 L452.9,345.3 L453.1,344.7 L453.2,344.4 L453.3,344.4 L453.4,344.8 L453.6,344.1 L453.7,344.8 L453.8,344.3 L453.9,343.7 L454.1,345.4 L454.2,344.3 L454.3,344.0 L454.4,345.0 L454.6,344.3 L454.7,345.8 L454.8,344.7 L454.9,345.1 L455.1,345.8 L455.2,344.9 L455.3,345.3 L455.5,345.4 L455.6,343.7 L455.7,343.9 L455.8,344.2 L456.0,344.2 L456.1,343.9 L456.2,343.8 L456.3,343.8 L456.5,342.4 L456.6,343.6 L456.7,342.0 L456.8,343.1 L457.0,342.7 L457.1,342.4 L457.2,343.2 L457.3,343.9 L457.5,343.8 L457.6,344.0 L457.7,344.4 L457.8,343.0 L458.0,344.2 L458.1,343.0 L458.2,343.6 L458.4,343.7 L458.5,343.4 L458.6,344.5 L458.7,343.0 L458.9,344.3 L459.0,343.0 L459.1,343.2 L459.2,343.6 L459.4,343.3 L459.5,341.8 L459.6,344.0 L459.7,343.3 L459.9,342.2 L460.0,343.2 L460.1,343.5 L460.2,344.0 L460.4,344.4 L460.5,342.7 L460.6,342.5 L460.7,342.2 L460.9,342.3 L461.0,342.7 L461.1,341.0 L461.2,342.5 L461.4,341.0 L461.5,341.7 L461.6,342.4 L461.7,341.1 L461.9,341.5 L462.0,342.0 L462.1,340.7 L462.2,341.1 L462.4,343.3 L462.5,342.5 L462.6,341.8 L462.8,341.5 L462.9,342.7 L463.0,341.6 L463.1,342.8 L463.2,344.2 L463.4,343.7 L463.5,343.1 L463.6,343.2 L463.8,344.5 L463.9,344.7 L464.0,345.2 L464.1,345.5 L464.2,345.2 L464.4,344.8 L464.5,344.5 L464.6,345.5 L464.8,346.4 L464.9,346.9 L465.0,346.4 L465.1,346.1 L465.3,346.2 L465.4,345.5 L465.5,347.3 L465.6,347.1 L465.8,346.6 L465.9,346.5 L466.0,346.1 L466.1,347.4 L466.3,346.8 L466.4,346.1 L466.5,346.1 L466.6,346.5 L466.8,345.2 L466.9,346.2 L467.0,346.8 L467.1,345.4 L467.3,345.1 L467.4,346.6 L467.5,347.2 L467.6,346.0 L467.8,345.1 L467.9,345.4 L468.0,344.3 L468.2,345.7 L468.3,344.9 L468.4,344.5 L468.5,345.4 L468.7,345.6 L468.8,346.0 L468.9,346.2 L469.0,344.7 L469.2,345.8 L469.3,345.6 L469.4,344.4 L469.5,344.7 L469.7,344.0 L469.8,344.2 L469.9,344.5 L470.0,345.0 L470.2,343.8 L470.3,341.7 L470.4,342.3 L470.5,341.8 L470.7,341.9 L470.8,343.6 L470.9,342.6 L471.0,342.1 L471.2,343.1 L471.3,341.6 L471.4,341.2 L471.5,340.9 L471.7,341.4 L471.8,341.5 L471.9,342.0 L472.1,342.1 L472.2,340.4 L472.3,340.2 L472.4,339.3 L472.6,339.0 L472.7,338.1 L472.8,337.7 L472.9,337.9 L473.1,337.9 L473.2,338.1 L473.3,338.5 L473.4,339.0 L473.6,340.8 L473.7,338.6 L473.8,338.8 L473.9,338.0 L474.1,338.7 L474.2,338.9 L474.3,337.2 L474.4,337.5 L474.6,338.5 L474.7,338.1 L474.8,337.0 L475.0,338.2 L475.1,336.8 L475.2,338.0 L475.3,337.7 L475.5,336.5 L475.6,338.2 L475.7,337.9 L475.8,339.0 L476.0,338.3 L476.1,337.0 L476.2,336.3 L476.3,336.2 L476.5,337.2 L476.6,337.6 L476.7,336.2 L476.8,336.5 L477.0,337.3 L477.1,337.7 L477.2,334.8 L477.3,334.9 L477.5,335.0 L477.6,334.2 L477.7,333.7 L477.8,335.8 L478.0,335.6 L478.1,335.4 L478.2,334.7 L478.3,335.3 L478.5,334.3 L478.6,335.1 L478.7,335.6 L478.9,335.0 L479.0,332.8 L479.1,334.8 L479.2,333.3 L479.4,334.0 L479.5,334.1 L479.6,334.2 L479.7,332.8 L479.9,332.8 L480.0,334.4 L480.1,334.0 L480.2,333.2 L480.4,333.8 L480.5,332.8 L480.6,334.8 L480.7,334.2 L480.9,335.0 L481.0,334.3 L481.1,334.4 L481.3,334.7 L481.4,334.6 L481.5,333.3 L481.6,333.8 L481.8,332.1 L481.9,333.1 L482.0,332.1 L482.1,332.7 L482.3,334.2 L482.4,333.6 L482.5,333.4 L482.6,332.7 L482.8,332.4 L482.9,333.0 L483.0,332.9 L483.2,332.3 L483.3,332.1 L483.4,333.0 L483.5,332.1 L483.7,332.8 L483.8,332.1 L483.9,333.2 L484.0,333.2 L484.2,333.5 L484.3,332.1 L484.4,332.1 L484.5,332.5 L484.7,334.1 L484.8,333.6 L484.9,333.2 L485.1,334.1 L485.2,334.1 L485.3,332.1 L485.4,332.7 L485.6,334.1 L485.7,334.8 L485.8,334.6 L485.9,332.9 L486.1,335.0 L486.2,334.2 L486.3,335.3 L486.4,334.4 L486.6,336.5 L486.7,336.5 L486.8,335.8 L487.0,335.3 L487.1,335.0 L487.2,335.8 L487.3,336.7 L487.5,335.5 L487.6,336.3 L487.7,337.6 L487.8,334.4 L488.0,335.4 L488.1,335.0 L488.2,334.6 L488.3,334.3 L488.5,333.1 L488.6,334.8 L488.7,334.3 L488.8,334.3 L489.0,331.5 L489.1,332.9 L489.2,330.6 L489.3,330.6 L489.5,333.0 L489.6,330.7 L489.7,330.7 L489.8,330.1 L490.0,330.0 L490.1,329.2 L490.2,328.4 L490.3,328.9 L490.5,328.5 L490.6,328.7 L490.7,327.3 L490.9,329.9 L491.0,329.1 L491.1,330.2 L491.2,328.4 L491.4,328.4 L491.5,328.5 L491.6,328.4 L491.7,329.5 L491.9,330.2 L492.0,329.9 L492.1,329.5 L492.2,329.9 L492.4,329.2 L492.5,327.9 L492.6,329.4 L492.7,330.2 L492.9,329.9 L493.0,328.2 L493.1,330.2 L493.2,329.4 L493.4,329.5 L493.5,327.4 L493.6,326.5 L493.7,328.0 L493.9,326.8 L494.0,328.9 L494.1,327.4 L494.2,327.3 L494.4,327.7 L494.5,327.7 L494.6,327.7 L494.8,327.9 L494.9,330.1 L495.0,329.2 L495.1,329.9 L495.2,329.2 L495.4,329.4 L495.5,329.4 L495.6,331.0 L495.8,330.0 L495.9,329.8 L496.0,330.1 L496.1,329.2 L496.2,330.4 L496.4,329.5 L496.5,329.8 L496.6,329.0 L496.8,329.3 L496.9,330.3 L497.0,330.3 L497.1,332.0 L497.2,330.5 L497.4,332.8 L497.5,332.6 L497.6,331.0 L497.8,332.8 L497.9,333.5 L498.0,332.8 L498.1,332.3 L498.3,331.1 L498.4,331.7 L498.5,330.8 L498.6,331.5 L498.8,332.0 L498.9,332.4 L499.0,331.1 L499.1,332.6 L499.3,329.2 L499.4,331.2 L499.5,330.1 L499.6,330.4 L499.8,329.9 L499.9,330.6 L500.0,327.9 L500.1,330.0 L500.3,327.2 L500.4,327.5 L500.5,329.1 L500.6,325.9 L500.8,326.7 L500.9,328.2 L501.0,327.4 L501.1,325.6 L501.3,326.5 L501.4,325.7 L501.5,325.1 L501.7,325.6 L501.8,326.1 L501.9,325.7 L502.0,326.2 L502.2,324.8 L502.3,327.4 L502.4,325.4 L502.5,326.7 L502.7,326.5 L502.8,327.1 L502.9,326.9 L503.0,326.2 L503.2,328.1 L503.3,326.6 L503.4,326.4 L503.5,327.8 L503.7,329.5 L503.8,329.5 L503.9,329.7 L504.0,330.2 L504.2,331.6 L504.3,331.6 L504.4,331.1 L504.6,331.6 L504.7,331.6 L504.8,332.6 L504.9,330.2 L505.1,330.2 L505.2,330.0 L505.3,329.7 L505.4,331.1 L505.6,330.7 L505.7,330.3 L505.8,328.7 L505.9,329.3 L506.1,329.5 L506.2,328.7 L506.3,328.7 L506.4,328.4 L506.6,329.4 L506.7,328.7 L506.8,327.6 L506.9,328.7 L507.1,330.0 L507.2,330.3 L507.3,329.9 L507.4,331.0 L507.6,330.8 L507.7,332.4 L507.8,331.7 L507.9,332.0 L508.1,331.0 L508.2,334.2 L508.3,333.6 L508.4,334.9 L508.6,333.2 L508.7,334.8 L508.8,336.2 L508.9,335.2 L509.1,335.2 L509.2,336.5 L509.3,336.2 L509.5,336.2 L509.6,336.3 L509.7,336.6 L509.8,337.0 L510.0,337.3 L510.1,335.7 L510.2,335.9 L510.3,336.9 L510.5,338.0 L510.6,337.5 L510.7,338.1 L510.8,337.0 L511.0,338.4 L511.1,337.1 L511.2,337.3 L511.3,336.9 L511.5,338.9 L511.6,339.6 L511.7,341.0 L511.8,339.5 L512.0,339.3 L512.1,340.4 L512.2,340.8 L512.4,341.3 L512.5,339.8 L512.6,340.2 L512.7,339.6 L512.9,338.2 L513.0,339.2 L513.1,339.8 L513.2,340.9 L513.4,338.7 L513.5,339.6 L513.6,338.5 L513.7,338.6 L513.9,339.8 L514.0,337.9 L514.1,337.8 L514.2,337.5 L514.4,337.1 L514.5,338.1 L514.6,337.3 L514.7,337.7 L514.9,335.8 L515.0,335.2 L515.1,336.6 L515.2,336.5 L515.4,336.2 L515.5,335.3 L515.6,334.9 L515.7,334.1 L515.9,333.7 L516.0,333.6 L516.1,333.2 L516.3,332.1 L516.4,333.6 L516.5,335.3 L516.6,334.1 L516.8,335.9 L516.9,334.4 L517.0,335.5 L517.1,333.5 L517.3,335.1 L517.4,335.6 L517.5,336.6 L517.6,337.0 L517.8,336.1 L517.9,337.0 L518.0,336.1 L518.1,335.7 L518.3,337.0 L518.4,335.5 L518.5,333.4 L518.6,337.0 L518.8,334.2 L518.9,335.5 L519.0,335.4 L519.1,336.8 L519.3,336.8 L519.4,337.6 L519.5,338.3 L519.6,338.4 L519.8,338.2 L519.9,340.6 L520.0,340.6 L520.1,340.1 L520.3,342.1 L520.4,341.0 L520.5,340.2 L520.6,339.8 L520.8,340.1 L520.9,340.5 L521.0,342.2 L521.1,342.2 L521.3,344.2 L521.4,342.8 L521.5,344.1 L521.6,343.8 L521.8,345.7 L521.9,344.3 L522.0,344.2 L522.2,343.6 L522.3,344.8 L522.4,343.7 L522.5,343.8 L522.7,343.5 L522.8,342.4 L522.9,343.3 L523.0,342.9 L523.2,341.7 L523.3,341.3 L523.4,343.5 L523.5,343.6 L523.7,342.3 L523.8,341.8 L523.9,341.6 L524.0,341.1 L524.2,341.4 L524.3,341.6 L524.4,341.4 L524.5,342.0 L524.7,342.1 L524.8,340.4 L524.9,340.8 L525.1,341.2 L525.2,341.8 L525.3,342.5 L525.4,342.4 L525.6,343.6 L525.7,344.1 L525.8,345.2 L525.9,345.5 L526.1,346.6 L526.2,346.6 L526.3,347.9 L526.4,347.5 L526.6,347.3 L526.7,349.9 L526.8,349.7 L526.9,349.9 L527.1,351.3 L527.2,350.7 L527.3,352.0 L527.4,350.2 L527.6,351.8 L527.7,352.1 L527.8,352.4 L527.9,353.0 L528.1,353.4 L528.2,353.9 L528.3,355.0 L528.4,355.5 L528.6,356.2 L528.7,355.9 L528.8,355.9 L528.9,356.6 L529.1,357.5 L529.2,357.9 L529.3,358.3 L529.5,360.0 L529.6,359.5 L529.7,359.7 L529.8,362.2 L530.0,361.3 L530.1,363.2 L530.2,364.7 L530.3,366.1 L530.5,366.1 L530.6,367.3 L530.7,367.7 L530.8,368.7 L531.0,371.2 L531.1,370.5 L531.2,371.7 L531.3,371.0 L531.5,370.0 L531.6,368.9 L531.7,368.1 L531.8,368.6 L532.0,367.7 L532.1,366.6 L532.2,365.6 L532.3,365.6 L532.5,363.8 L532.6,363.5 L532.7,363.8 L532.8,364.0 L533.0,364.3 L533.1,363.7 L533.2,364.6 L533.3,364.7 L533.5,365.2 L533.6,365.1 L533.7,364.9 L533.8,364.8 L534.0,365.9 L534.1,365.4 L534.2,365.4 L534.3,366.6 L534.5,367.3 L534.6,367.4 L534.7,367.6 L534.8,367.0 L535.0,367.7 L535.1,366.4 L535.2,366.1 L535.3,365.1 L535.5,365.2 L535.6,363.8 L535.7,364.6 L535.8,365.0 L536.0,364.0 L536.1,364.1 L536.2,363.4 L536.3,363.5 L536.5,363.9 L536.6,362.5 L536.7,362.8 L536.8,363.5 L537.0,363.8 L537.1,365.5 L537.2,366.2 L537.3,367.2 L537.5,367.7 L537.6,367.2 L537.7,368.8 L537.8,369.3 L538.0,369.8 L538.1,371.9 L538.2,372.0 L538.4,371.7 L538.5,373.5 L538.6,372.5 L538.7,373.9 L538.9,372.9 L539.0,373.6 L539.1,375.3 L539.2,375.8 L539.4,376.6 L539.5,376.6 L539.6,375.9 L539.8,375.4 L539.9,374.5 L540.0,374.8 L540.1,374.7 L540.3,373.8 L540.4,373.1 L540.5,373.4 L540.6,371.1 L540.8,371.7 L540.9,371.1 L541.0,371.3 L541.2,371.0 L541.3,368.9 L541.4,369.6 L541.5,370.4 L541.7,369.7 L541.8,368.7 L541.9,367.7 L542.0,366.9 L542.2,367.3 L542.3,366.9 L542.4,366.4 L542.5,364.7 L542.7,365.4 L542.8,365.0 L542.9,365.1 L543.0,366.5 L543.2,363.6 L543.3,365.2 L543.4,365.8 L543.5,365.9 L543.7,365.2 L543.8,366.2 L543.9,365.0 L544.0,363.9 L544.2,364.9 L544.3,365.2 L544.4,364.3 L544.5,365.2 L544.7,364.2 L544.8,364.5 L544.9,363.1 L545.0,363.2 L545.2,362.5 L545.3,363.0 L545.4,362.5 L545.5,362.8 L545.7,361.9 L545.8,360.9 L545.9,362.6 L546.0,361.9 L546.2,362.7 L546.3,361.3 L546.4,362.1 L546.5,362.1 L546.6,362.1 L546.8,362.2 L546.9,360.6 L547.0,361.1 L547.1,360.6 L547.3,360.1 L547.4,360.7 L547.5,360.7 L547.6,360.9 L547.8,359.6 L547.9,360.2 L548.0,359.7 L548.1,359.5 L548.3,360.4 L548.4,359.9 L548.5,359.0 L548.6,360.1 L548.8,359.7 L548.9,359.7 L549.0,360.3 L549.1,360.6 L549.3,360.0 L549.4,359.9 L549.5,360.2 L549.6,358.9 L549.8,360.1 L549.9,358.7 L550.0,358.4 L550.1,358.5 L550.3,356.9 L550.4,357.3 L550.5,357.3 L550.6,357.4 L550.7,356.0 L550.9,356.9 L551.0,357.2 L551.1,356.9 L551.2,357.1 L551.4,356.6 L551.5,357.0 L551.6,354.9 L551.7,356.2 L551.9,355.4 L552.0,356.3 L552.1,356.9 L552.2,355.4 L552.4,356.5 L552.5,355.2 L552.6,353.6 L552.7,354.7 L552.8,355.1 L553.0,354.3 L553.1,354.3 L553.2,354.0 L553.3,355.3 L553.5,353.9 L553.6,354.2 L553.7,353.7 L553.8,354.7 L554.0,354.2 L554.1,354.8 L554.2,354.1 L554.3,353.5 L554.5,353.4 L554.6,352.8 L554.7,353.1 L554.8,352.6 L555.0,351.7 L555.1,352.6 L555.2,352.6 L555.3,351.4 L555.5,353.5 L555.6,352.5 L555.7,351.1 L555.8,351.3 L556.0,351.2 L556.1,352.3 L556.2,351.4 L556.3,350.3 L556.5,351.0 L556.6,351.9 L556.7,352.2 L556.8,352.1 L557.0,351.7 L557.1,350.1 L557.2,351.3 L557.3,351.4 L557.5,351.5 L557.6,350.0 L557.7,351.1 L557.8,351.2 L558.0,349.4 L558.1,350.4 L558.2,350.7 L558.3,350.8 L558.5,350.8 L558.6,351.5 L558.7,351.7 L558.8,350.8 L559.0,350.0 L559.1,350.4 L559.2,350.6 L559.3,350.9 L559.5,350.4 L559.6,350.4 L559.7,350.8 L559.8,349.7 L560.0,350.3 L560.1,348.5 L560.2,349.7 L560.3,350.2 L560.5,348.8 L560.6,349.8 L560.7,349.8 L560.8,349.5 L561.0,349.0 L561.1,349.1 L561.2,349.0 L561.3,349.2 L561.5,349.7 L561.6,348.3 L561.7,349.5 L561.8,350.6 L562.0,349.8 L562.1,349.5 L562.2,349.8 L562.3,349.7 L562.5,349.8 L562.6,348.8 L562.7,349.8 L562.8,349.5 L563.0,347.9 L563.1,350.0 L563.2,348.5 L563.3,350.0 L563.5,349.2 L563.6,348.7 L563.7,348.4 L563.8,349.2 L564.0,349.1 L564.1,349.2 L564.2,348.6 L564.3,348.9 L564.5,347.6 L564.6,348.1 L564.7,348.3 L564.8,348.6 L565.0,346.2 L565.1,346.9 L565.2,347.8 L565.3,347.4 L565.5,346.9 L565.6,347.3 L565.7,346.9 L565.8,346.6 L565.9,347.3 L566.1,346.6 L566.2,347.8 L566.3,345.3 L566.4,346.5 L566.6,347.0 L566.7,347.0 L566.8,345.9 L566.9,346.4 L567.1,345.5 L567.2,346.2 L567.3,346.2 L567.4,346.0 L567.6,346.4 L567.7,344.5 L567.8,343.4 L567.9,343.6 L568.0,344.5 L568.2,346.3 L568.3,344.5 L568.4,344.1 L568.5,345.5 L568.7,345.0 L568.8,345.2 L568.9,344.2 L569.0,345.4 L569.2,344.5 L569.3,344.2 L569.4,344.6 L569.5,344.0 L569.7,343.6 L569.8,343.5 L569.9,343.5 L570.0,342.9 L570.1,344.2 L570.3,343.8 L570.4,345.3 L570.5,344.3 L570.6,346.0 L570.8,344.5 L570.9,345.1 L571.0,345.2 L571.1,346.1 L571.2,344.8 L571.4,346.6 L571.5,347.1 L571.6,346.2 L571.7,349.0 L571.9,348.7 L572.0,347.8 L572.1,348.5 L572.2,349.4 L572.4,348.2 L572.5,348.7 L572.6,349.7 L572.7,351.2 L572.9,350.4 L573.0,350.8 L573.1,350.4 L573.2,349.4 L573.4,351.3 L573.5,350.6 L573.6,350.5 L573.7,351.0 L573.9,350.9 L574.0,351.6 L574.1,350.6 L574.3,352.7 L574.4,352.0 L574.5,352.9 L574.6,351.9 L574.8,352.4 L574.9,352.1 L575.0,353.5 L575.1,353.6 L575.3,354.1 L575.4,353.1 L575.5,352.9 L575.7,353.0 L575.8,351.1 L575.9,352.3 L576.0,351.9 L576.2,350.3 L576.3,351.3 L576.4,351.4 L576.5,351.8 L576.7,349.6 L576.8,350.7 L576.9,350.0 L577.1,350.5 L577.2,350.2 L577.3,349.7 L577.4,349.8 L577.6,349.5 L577.7,347.6 L577.8,349.2 L577.9,348.1 L578.1,348.3 L578.2,348.3 L578.3,348.2 L578.5,348.2 L578.6,349.3 L578.7,348.8 L578.8,349.3 L579.0,348.3 L579.1,349.3 L579.2,348.8 L579.3,349.6 L579.5,350.0 L579.6,350.6 L579.7,351.3 L579.8,350.2 L580.0,350.7 L580.1,350.6 L580.2,351.0 L580.3,350.8 L580.4,350.4 L580.6,348.7 L580.7,350.9 L580.8,350.1 L580.9,349.7 L581.1,349.9 L581.2,349.6 L581.3,348.3 L581.4,348.1 L581.6,348.4 L581.7,349.3 L581.8,348.7 L581.9,348.9 L582.1,347.7 L582.2,347.5 L582.3,348.5 L582.4,347.2 L582.5,348.1 L582.7,348.1 L582.8,347.5 L582.9,348.5 L583.0,346.9 L583.2,347.3 L583.3,347.8 L583.4,348.3 L583.5,346.5 L583.7,346.7 L583.8,347.9 L583.9,345.1 L584.0,346.4 L584.2,345.5 L584.3,345.0 L584.4,345.5 L584.5,346.0 L584.7,344.1 L584.8,344.6 L584.9,345.3 L585.0,345.5 L585.2,343.6 L585.3,345.3 L585.4,345.1 L585.5,341.4 L585.7,343.9 L585.8,343.5 L585.9,343.4 L586.0,342.9 L586.2,343.1 L586.3,341.5 L586.4,342.1 L586.5,341.2 L586.7,341.0 L586.8,340.5 L586.9,340.4 L587.0,341.3 L587.2,340.0 L587.3,341.6 L587.4,340.3 L587.5,340.5 L587.7,341.4 L587.8,340.0 L587.9,339.3 L588.0,337.2 L588.2,339.5 L588.3,337.7 L588.4,339.4 L588.5,338.5 L588.7,338.9 L588.8,335.8 L588.9,338.1 L589.0,336.2 L589.1,335.4 L589.3,335.3 L589.4,335.9 L589.5,336.4 L589.6,335.8 L589.8,335.0 L589.9,333.9 L590.0,334.3 L590.1,334.2 L590.2,335.8 L590.4,335.0 L590.5,334.2 L590.6,333.7 L590.8,335.8 L590.9,333.5 L591.0,335.8 L591.1,333.8 L591.2,335.2 L591.4,335.1 L591.5,335.3 L591.6,334.6 L591.8,334.7 L591.9,333.9 L592.0,333.0 L592.1,333.4 L592.2,334.1 L592.4,334.1 L592.5,333.5 L592.6,333.8 L592.8,333.4 L592.9,332.7 L593.0,332.1 L593.1,330.8 L593.2,332.7 L593.4,331.4 L593.5,331.6 L593.6,331.6 L593.8,332.0 L593.9,331.1 L594.0,332.3 L594.1,332.6 L594.2,332.1 L594.4,331.4 L594.5,330.8 L594.6,331.0 L594.7,332.8 L594.9,332.0 L595.0,331.7 L595.1,330.9 L595.2,331.8 L595.4,331.3 L595.5,332.0 L595.6,332.2 L595.7,331.3 L595.9,329.8 L596.0,331.4 L596.1,331.7 L596.2,332.5 L596.4,329.8 L596.5,331.4 L596.6,330.9 L596.7,330.8 L596.9,330.9 L597.0,330.5 L597.1,329.8 L597.2,331.5 L597.4,331.6 L597.5,330.1 L597.6,329.8 L597.7,331.3 L597.9,331.3 L598.0,330.8 L598.1,331.3 L598.2,332.0 L598.4,331.2 L598.5,332.1 L598.6,333.7 L598.7,332.3 L598.9,332.5 L599.0,332.5 L599.1,332.4 L599.2,330.7 L599.4,332.6 L599.5,334.4 L599.6,332.8 L599.7,332.8 L599.9,334.5 L600.0,332.7 L600.1,333.6 L600.2,332.3 L600.4,332.4 L600.5,331.6 L600.6,334.0 L600.7,333.1 L600.9,335.6 L601.0,333.5 L601.1,334.3 L601.2,333.3 L601.3,335.1 L601.5,333.7 L601.6,333.7 L601.7,333.8 L601.8,333.6 L602.0,331.8 L602.1,334.1 L602.2,332.9 L602.3,333.1 L602.5,333.5 L602.6,332.7 L602.7,332.8 L602.8,331.7 L603.0,331.0 L603.1,333.1 L603.2,330.5 L603.3,332.0 L603.5,330.3 L603.6,331.3 L603.7,331.3 L603.8,332.4 L604.0,332.6 L604.1,332.6 L604.2,331.9 L604.3,332.4 L604.5,335.1 L604.6,334.5 L604.7,335.1 L604.8,335.0 L605.0,335.6 L605.1,337.3 L605.2,337.7 L605.3,336.9 L605.5,338.5 L605.6,338.6 L605.7,337.7 L605.8,338.6 L606.0,338.5 L606.1,339.3 L606.2,339.4 L606.3,338.7 L606.5,338.8 L606.6,338.8 L606.7,337.9 L606.8,339.4 L607.0,339.4 L607.1,338.0 L607.2,339.2 L607.3,340.9 L607.5,337.8 L607.6,338.5 L607.7,339.2 L607.8,339.7 L608.0,338.6 L608.1,338.6 L608.2,339.4 L608.3,339.0 L608.5,339.5 L608.6,340.5 L608.7,339.6 L608.8,339.6 L609.0,340.8 L609.1,340.1 L609.2,339.6 L609.3,341.6 L609.5,340.6 L609.6,340.6 L609.7,341.7 L609.8,341.9 L610.0,341.9 L610.1,340.7 L610.2,341.4 L610.3,340.7 L610.5,340.9 L610.6,341.0 L610.7,339.6 L610.8,340.2 L611.0,339.9 L611.1,339.0 L611.2,338.9 L611.3,338.3 L611.5,338.4 L611.6,335.9 L611.7,337.3 L611.8,336.4 L612.0,337.2 L612.1,336.5 L612.2,336.3 L612.3,337.5 L612.5,336.3 L612.6,336.1 L612.7,336.4 L612.8,335.4 L613.0,335.5 L613.1,337.2 L613.2,337.9 L613.3,335.1 L613.5,337.7 L613.6,338.9 L613.7,338.1 L613.8,339.8 L614.0,339.7 L614.1,337.5 L614.2,338.3 L614.3,338.0 L614.5,338.1 L614.6,339.3 L614.7,338.5 L614.8,339.7 L615.0,338.2 L615.1,338.9 L615.2,338.3 L615.3,338.6 L615.4,337.3 L615.6,337.9 L615.7,337.7 L615.8,336.4 L615.9,337.2 L616.1,338.8 L616.2,337.0 L616.3,337.0 L616.4,335.1 L616.6,335.5 L616.7,334.9 L616.8,334.5 L616.9,335.8 L617.1,332.0 L617.2,333.4 L617.3,331.4 L617.4,330.2 L617.6,329.9 L617.7,332.0 L617.8,330.6 L617.9,328.9 L618.1,331.4 L618.2,329.8 L618.3,330.3 L618.4,331.5 L618.5,331.1 L618.7,329.2 L618.8,329.8 L618.9,328.6 L619.0,329.5 L619.2,330.5 L619.3,328.6 L619.4,330.1 L619.5,330.2 L619.7,328.4 L619.8,330.4 L619.9,329.6 L620.0,328.2 L620.2,327.9 L620.3,328.2 L620.4,325.9 L620.5,326.0 L620.7,329.2 L620.8,327.1 L620.9,328.5 L621.0,327.6 L621.2,329.1 L621.3,326.6 L621.4,326.2 L621.5,326.8 L621.7,328.2 L621.8,325.0 L621.9,326.5 L622.0,326.5 L622.2,326.9 L622.3,325.7 L622.4,326.0 L622.5,326.2 L622.7,326.5 L622.8,325.6 L622.9,327.0 L623.0,326.3 L623.2,325.2 L623.3,325.2 L623.4,326.0 L623.5,325.9 L623.7,327.2 L623.8,326.9 L623.9,326.2 L624.0,325.8 L624.2,325.8 L624.3,326.8 L624.4,326.1 L624.5,326.3 L624.7,326.1 L624.8,328.9 L624.9,329.1 L625.0,327.6 L625.2,330.1 L625.3,329.9 L625.4,328.9 L625.5,328.8 L625.7,330.0 L625.8,330.0 L625.9,330.4 L626.0,330.0 L626.2,329.2 L626.3,332.8 L626.4,330.5 L626.5,330.6 L626.7,331.7 L626.8,330.9 L626.9,330.7 L627.0,330.9 L627.2,331.6 L627.3,332.3 L627.4,333.0 L627.5,333.0 L627.7,332.8 L627.8,333.1 L627.9,333.3 L628.0,332.8 L628.2,331.7 L628.3,331.0 L628.4,331.9 L628.5,329.9 L628.7,330.4 L628.8,331.6 L628.9,329.4 L629.0,331.5 L629.2,330.5 L629.3,332.1 L629.4,330.3 L629.5,330.0 L629.7,328.7 L629.8,328.1 L629.9,329.1 L630.0,328.2 L630.2,330.3 L630.3,328.7 L630.4,328.3 L630.5,328.2 L630.6,326.1 L630.8,328.0 L630.9,329.7 L631.0,329.3 L631.1,329.0 L631.3,327.7 L631.4,327.1 L631.5,327.5 L631.6,326.9 L631.8,327.0 L631.9,325.2 L632.0,326.8 L632.1,325.7 L632.3,325.8 L632.4,323.2 L632.5,322.6 L632.6,325.3 L632.8,323.6 L632.9,324.4 L633.0,324.4 L633.1,322.4 L633.3,325.7 L633.4,323.6 L633.5,323.1 L633.6,323.2 L633.8,324.2 L633.9,322.8 L634.0,323.9 L634.1,324.9 L634.3,324.3 L634.4,322.8 L634.5,323.8 L634.6,324.0 L634.8,323.4 L634.9,324.2 L635.0,324.2 L635.1,323.7 L635.3,322.4 L635.4,323.0 L635.5,321.0 L635.6,322.7 L635.8,321.6 L635.9,323.3 L636.0,319.8 L636.1,321.3 L636.3,321.3 L636.4,321.2 L636.5,320.8 L636.6,320.6 L636.8,321.8 L636.9,320.2 L637.0,320.4 L637.1,321.3 L637.3,322.8 L637.4,321.2 L637.5,322.1 L637.6,321.2 L637.8,322.8 L637.9,322.5 L638.0,324.1 L638.1,324.4 L638.3,324.0 L638.4,323.8 L638.5,326.7 L638.6,325.4 L638.8,325.7 L638.9,325.6 L639.0,326.4 L639.1,326.3 L639.3,326.7 L639.4,325.5 L639.5,325.4 L639.6,326.5 L639.8,327.4 L639.9,325.5 L640.0,327.7 L640.1,325.7 L640.3,327.2 L640.4,327.4 L640.5,327.2 L640.6,327.0 L640.8,326.2 L640.9,325.3 L641.0,326.9 L641.1,324.3 L641.2,324.3 L641.4,324.0 L641.5,321.6 L641.6,324.9 L641.8,323.4 L641.9,322.6 L642.0,324.3 L642.1,323.8 L642.2,324.7 L642.4,322.8 L642.5,322.8 L642.6,320.4 L642.8,323.8 L642.9,320.3 L643.0,321.4 L643.1,321.2 L643.2,320.5 L643.4,321.2 L643.5,321.6 L643.6,320.9 L643.8,321.2 L643.9,321.6 L644.0,320.6 L644.1,319.4 L644.2,319.5 L644.4,320.6 L644.5,320.2 L644.6,319.1 L644.8,319.8 L644.9,320.1 L645.0,319.4 L645.1,318.7 L645.2,318.6 L645.4,317.4 L645.5,317.8 L645.6,317.4 L645.8,318.4 L645.9,318.9 L646.0,318.7 L646.1,320.2 L646.2,318.7 L646.4,318.5 L646.5,316.7 L646.6,318.7 L646.8,317.2 L646.9,317.1 L647.0,319.1 L647.1,317.1 L647.2,318.4 L647.4,316.1 L647.5,318.0 L647.6,318.5 L647.8,318.3 L647.9,317.3 L648.0,316.7 L648.1,317.0 L648.2,316.7 L648.4,318.9 L648.5,317.2 L648.6,318.3 L648.7,317.9 L648.9,318.2 L649.0,317.2 L649.1,318.0 L649.2,316.8 L649.4,317.7 L649.5,317.5 L649.6,316.8 L649.7,316.6 L649.9,315.9 L650.0,317.1 L650.1,316.9 L650.2,316.2 L650.4,315.3 L650.5,316.5 L650.6,316.9 L650.7,317.8 L650.9,318.7 L651.0,316.3 L651.1,316.5 L651.2,318.6 L651.4,314.0 L651.5,313.9 L651.6,315.1 L651.7,314.2 L651.9,314.8 L652.0,314.0 L652.1,314.8 L652.2,314.1 L652.4,313.5 L652.5,313.5 L652.6,312.3 L652.7,314.7 L652.9,311.0 L653.0,312.9 L653.1,313.5 L653.2,311.7 L653.4,311.5 L653.5,312.3 L653.6,310.8 L653.7,312.3 L653.9,310.5 L654.0,310.4 L654.1,311.6 L654.2,310.3 L654.4,309.9 L654.5,308.3 L654.6,309.1 L654.7,309.5 L654.9,310.6 L655.0,307.6 L655.1,311.9 L655.2,310.8 L655.4,309.7 L655.5,311.0 L655.6,311.2 L655.7,310.2 L655.9,310.3 L656.0,308.8 L656.1,309.3 L656.2,308.5 L656.4,308.3 L656.5,310.5 L656.6,308.3 L656.7,308.8 L656.9,312.0 L657.0,310.5 L657.1,312.1 L657.2,312.0 L657.4,309.8 L657.5,312.6 L657.6,311.6 L657.7,312.6 L657.9,312.3 L658.0,310.3 L658.1,310.1 L658.2,310.3 L658.4,309.2 L658.5,310.2 L658.6,311.1 L658.7,309.7 L658.8,309.5 L659.0,309.0 L659.1,310.8 L659.2,308.9 L659.3,309.8 L659.5,309.2 L659.6,308.5 L659.7,309.7 L659.8,308.2 L660.0,308.3 L660.1,310.0 L660.2,310.0 L660.3,308.4 L660.5,308.7 L660.6,308.5 L660.7,306.8 L660.8,306.4 L661.0,308.7 L661.1,306.7 L661.2,307.1 L661.3,306.3 L661.5,305.3 L661.6,307.0 L661.7,305.3 L661.8,302.5 L662.0,304.9 L662.1,303.5 L662.2,305.7 L662.3,304.4 L662.5,304.4 L662.6,303.8 L662.7,304.0 L662.8,303.9 L663.0,304.7 L663.1,304.1 L663.2,306.2 L663.3,304.2 L663.5,304.9 L663.6,305.1 L663.7,306.2 L663.8,303.3 L664.0,303.9 L664.1,304.8 L664.2,304.4 L664.3,305.7 L664.5,304.7 L664.6,306.5 L664.7,302.7 L664.8,302.5 L665.0,305.1 L665.1,305.6 L665.2,304.7 L665.3,303.4 L665.5,305.3 L665.6,306.5 L665.7,305.0 L665.8,304.0 L666.0,304.1 L666.1,302.6 L666.2,302.8 L666.3,304.1 L666.5,302.1 L666.6,302.6 L666.7,302.8 L666.8,303.0 L667.0,302.5 L667.1,301.3 L667.2,299.2 L667.3,301.1 L667.5,300.3 L667.6,299.9 L667.7,299.1 L667.8,302.2 L668.0,300.8 L668.1,301.1 L668.2,300.8 L668.3,301.4 L668.5,297.9 L668.6,299.1 L668.7,298.3 L668.8,296.5 L669.0,296.1 L669.1,295.5 L669.2,295.2 L669.4,296.2 L669.5,296.7 L669.6,296.1 L669.7,296.9 L669.9,294.4 L670.0,294.7 L670.1,294.3 L670.2,297.0 L670.4,294.3 L670.5,292.3 L670.6,295.1 L670.7,295.5 L670.9,294.6 L671.0,295.8 L671.1,292.3 L671.2,295.2 L671.4,292.2 L671.5,293.7 L671.6,292.7 L671.7,293.7 L671.9,292.5 L672.0,292.0 L672.1,293.5 L672.2,294.4 L672.4,292.7 L672.5,294.9 L672.6,296.7 L672.7,295.7 L672.9,296.4 L673.0,296.9 L673.1,299.7 L673.2,298.3 L673.4,296.8 L673.5,297.5 L673.6,298.6 L673.7,297.4 L673.9,298.5 L674.0,298.1 L674.1,298.5 L674.2,298.0 L674.3,297.4 L674.5,296.5 L674.6,298.7 L674.7,297.8 L674.8,296.7 L675.0,298.4 L675.1,297.5 L675.2,298.1 L675.3,296.5 L675.5,296.9 L675.6,297.4 L675.7,298.9 L675.8,295.0 L676.0,294.0 L676.1,294.3 L676.2,294.7 L676.3,291.3 L676.5,292.7 L676.6,293.7 L676.7,294.1 L676.8,291.6 L677.0,291.7 L677.1,292.8 L677.2,291.5 L677.3,289.9 L677.5,293.0 L677.6,292.3 L677.7,293.0 L677.8,291.8 L678.0,291.8 L678.1,290.4 L678.2,291.3 L678.3,290.9 L678.5,293.0 L678.6,289.6 L678.7,292.6 L678.8,291.4 L679.0,290.1 L679.1,293.0 L679.2,293.0 L679.3,292.6 L679.5,291.8 L679.6,289.6 L679.7,290.6 L679.8,291.1 L680.0,290.0 L680.1,289.6 L680.2,290.5 L680.3,290.4 L680.5,289.6 L680.6,289.4 L680.7,292.0 L680.8,288.3 L681.0,288.5 L681.1,288.5 L681.2,289.0 L681.3,285.3 L681.5,287.4 L681.6,288.1 L681.7,285.3 L681.8,287.2 L682.0,288.8 L682.1,286.9 L682.2,288.3 L682.3,289.1 L682.5,288.6 L682.6,288.9 L682.7,285.0 L682.8,287.0 L683.0,287.7 L683.1,285.8 L683.2,287.3 L683.3,288.4 L683.5,289.0 L683.6,285.1 L683.7,286.0 L683.8,286.0 L684.0,286.1 L684.1,285.0 L684.2,285.5 L684.3,284.0 L684.5,284.2 L684.6,285.3 L684.7,286.2 L684.8,284.6 L685.0,285.3 L685.1,283.5 L685.2,283.4 L685.3,284.1 L685.4,284.9 L685.6,281.3 L685.7,283.3 L685.8,282.0 L685.9,282.7 L686.1,282.2 L686.2,282.7 L686.3,284.9 L686.4,284.4 L686.6,279.9 L686.7,280.6 L686.8,282.5 L686.9,282.5 L687.1,284.9 L687.2,284.9 L687.3,283.2 L687.4,280.7 L687.6,284.7 L687.7,284.4 L687.8,283.3 L687.9,284.6 L688.1,284.8 L688.2,284.9 L688.3,283.8 L688.4,283.0 L688.6,283.1 L688.7,280.5 L688.8,281.1 L688.9,282.7 L689.1,280.5 L689.2,280.6 L689.3,281.4 L689.4,279.9 L689.5,282.6 L689.7,283.3 L689.8,281.1 L689.9,282.9 L690.0,283.7 L690.2,281.6 L690.3,282.7 L690.4,283.3 L690.5,285.3 L690.7,285.2 L690.8,283.4 L690.9,282.6 L691.0,284.4 L691.2,283.8 L691.3,282.9 L691.4,285.0 L691.5,286.1 L691.7,286.4 L691.8,288.1 L691.9,288.4 L692.0,286.6 L692.2,284.9 L692.3,288.4 L692.4,286.8 L692.5,288.3 L692.7,286.7 L692.8,286.2 L692.9,284.1 L693.0,285.3 L693.2,282.0 L693.3,284.6 L693.4,282.3 L693.5,284.6 L693.7,284.8 L693.8,284.3 L693.9,281.8 L694.0,284.6 L694.2,279.9 L694.3,280.6 L694.4,283.0 L694.5,278.7 L694.7,280.1 L694.8,280.6 L694.9,279.5 L695.0,278.2 L695.2,277.9 L695.3,277.3 L695.4,277.0 L695.5,277.5 L695.7,278.8 L695.8,278.0 L695.9,274.6 L696.0,275.3 L696.2,276.6 L696.3,275.5 L696.4,274.9 L696.5,274.2 L696.7,276.3 L696.8,276.7 L696.9,275.7 L697.0,276.3 L697.2,273.8 L697.3,273.8 L697.4,273.8 L697.5,275.9 L697.7,273.8 L697.8,273.8 L697.9,277.2 L698.0,277.6 L698.2,278.2 L698.3,276.2 L698.4,273.9 L698.5,273.8 L698.7,276.5 L698.8,278.3 L698.9,275.6 L699.0,275.2 L699.2,274.0 L699.3,276.8 L699.4,275.3 L699.5,274.2 L699.6,274.4 L699.8,276.2 L699.9,277.8 L700.0,277.1 L700.1,279.9 L700.3,277.8 L700.4,279.4 L700.5,278.9 L700.6,277.7 L700.8,278.2 L700.9,278.0 L701.0,278.1 L701.1,277.6 L701.3,277.1 L701.4,278.0 L701.5,276.4 L701.6,277.6 L701.8,273.5 L701.9,276.3 L702.0,275.0 L702.1,272.9 L702.3,273.3 L702.4,274.6 L702.5,273.5 L702.6,275.2 L702.8,272.7 L702.9,272.1 L703.0,275.2 L703.1,272.3 L703.3,272.8 L703.4,272.3 L703.5,273.8 L703.6,273.1 L703.8,273.0 L703.9,271.9 L704.0,272.3 L704.1,271.3 L704.3,271.4 L704.4,271.2 L704.5,273.1 L704.6,273.8 L704.8,273.8 L704.9,272.1 L705.0,273.2 L705.1,273.8 L705.3,273.8 L705.4,272.0 L705.5,271.6 L705.6,271.1 L705.8,273.8 L705.9,273.8 L706.0,273.8 L706.1,273.8 L706.3,273.5 L706.4,273.8 L706.5,273.4 L706.6,272.4 L706.8,273.8 L706.9,273.8 L707.0,273.8 L707.1,273.8 L707.3,271.6 L707.4,273.8 L707.5,273.8 L707.6,273.8 L707.8,272.2 L707.9,273.8 L708.0,273.8 L708.1,271.5 L708.3,271.1 L708.4,271.3 L708.5,269.0 L708.6,269.8 L708.8,271.2 L708.9,269.3 L709.0,271.0 L709.1,270.2 L709.3,269.8 L709.4,269.0 L709.5,272.3 L709.6,269.4 L709.8,270.1 L709.9,269.7 L710.0,270.6 L710.1,270.5 L710.3,268.8 L710.4,269.5 L710.5,270.5 L710.6,268.8 L710.8,268.8 L710.9,268.8 L711.0,269.1 L711.1,270.9 L711.3,270.7 L711.4,270.9 L711.5,268.8 L711.6,269.2 L711.8,269.7 L711.9,268.8 L712.0,270.6 L712.1,272.8 L712.3,269.6 L712.4,268.8 L712.5,268.8 L712.6,271.1 L712.8,272.2 L712.9,268.8 L713.0,268.8 L713.1,272.8 L713.3,270.5 L713.4,271.1 L713.5,270.3 L713.6,271.4 L713.8,273.9 L713.9,272.8 L714.0,272.7 L714.1,271.7 L714.2,272.3 L714.4,272.0 L714.5,271.5 L714.6,272.3 L714.8,274.2 L714.9,270.8 L715.0,274.4 L715.1,272.5 L715.2,274.0 L715.4,272.4 L715.5,274.3 L715.6,275.7 L715.8,275.5 L715.9,275.4 L716.0,277.2 L716.1,280.5 L716.3,280.7 L716.4,282.2 L716.5,286.0 L716.6,287.0 L716.8,284.6 L716.9,287.4 L717.0,286.2 L717.1,288.0 L717.3,284.0 L717.4,284.8 L717.5,283.3 L717.6,281.3 L717.8,285.2 L717.9,280.5 L718.0,280.9 L718.1,277.0 L718.3,281.1 L718.4,279.5 L718.5,277.9 L718.6,277.3 L718.8,277.0 L718.9,274.0 L719.0,272.6 L719.1,273.8 L719.3,274.0 L719.4,274.2 L719.5,272.3 L719.6,271.9 L719.7,270.8 L719.9,273.3 L720.0,270.8 L720.1,270.8 L720.2,273.5 L720.4,273.8 L720.5,271.4 L720.6,270.8 L720.7,270.8 L720.9,270.8 L721.0,270.8 L721.1,270.8 L721.2,270.8 L721.4,270.8 L721.5,271.3 L721.6,271.9 L721.7,270.8 L721.9,273.1 L722.0,271.6 L722.1,270.8 L722.2,270.8 L722.4,270.8 L722.5,273.5 L722.6,272.9 L722.7,273.5 L722.9,271.1 L723.0,271.7 L723.1,270.8 L723.2,270.8 L723.4,272.1 L723.5,270.8 L723.6,270.8 L723.7,270.8 L723.9,273.8 L724.0,270.8 L724.1,270.8 L724.2,270.8 L724.4,270.8 L724.5,272.0 L724.6,272.3 L724.7,273.5 L724.9,271.8 L725.0,273.0 L725.1,270.9 L725.2,273.1 L725.4,274.2 L725.5,274.2 L725.6,277.2 L725.7,275.5 L725.9,276.4 L726.0,275.3 L726.1,277.1 L726.2,277.2 L726.4,278.7 L726.5,280.2 L726.6,279.4 L726.7,281.6 L726.9,282.1 L727.0,280.5 L727.1,281.0 L727.2,282.8 L727.4,284.2 L727.5,283.6 L727.6,284.4 L727.7,284.1 L727.9,285.4 L728.0,284.7 L728.1,286.1 L728.2,288.7 L728.4,288.4 L728.5,287.6 L728.6,288.4 L728.7,286.8 L728.9,287.5 L729.0,286.8 L729.1,285.0 L729.2,286.1 L729.4,285.6 L729.5,281.7 L729.6,284.1 L729.7,283.3 L729.9,282.2 L730.0,281.9 L730.1,279.9 L730.2,279.6 L730.4,275.7 L730.5,277.9 L730.6,279.8 L730.7,278.5 L730.9,278.7 L731.0,279.9 L731.1,277.2 L731.2,274.7 L731.4,275.9 L731.5,274.9 L731.6,274.3 L731.7,273.6 L731.8,275.1 L732.0,271.9 L732.1,273.9 L732.2,274.7 L732.3,275.8 L732.5,271.7 L732.6,273.6 L732.7,270.8 L732.8,272.8 L733.0,272.1 L733.1,269.7 L733.2,270.1 L733.3,272.2 L733.5,272.1 L733.6,270.3 L733.7,271.3 L733.8,269.2 L734.0,269.9 L734.1,270.2 L734.2,270.9 L734.3,271.8 L734.5,272.2 L734.6,272.3 L734.7,273.5 L734.8,271.2 L735.0,268.8 L735.1,269.9 L735.2,269.0 L735.3,269.2 L735.5,269.6 L735.6,270.2 L735.7,270.3 L735.8,268.8 L736.0,268.8 L736.1,269.7 L736.2,271.5 L736.3,270.4 L736.5,271.3 L736.6,268.8 L736.7,269.3 L736.8,274.2 L737.0,270.4 L737.1,272.7 L737.2,274.2 L737.3,271.3 L737.5,273.5 L737.6,274.1 L737.7,272.8 L737.8,275.2 L738.0,274.9 L738.1,276.8 L738.2,275.8 L738.3,276.8 L738.5,275.8 L738.6,274.4 L738.7,275.3 L738.8,276.8 L739.0,274.2 L739.1,273.7 L739.2,270.3 L739.3,272.8 L739.5,273.9 L739.6,273.7 L739.7,271.0 L739.8,270.4 L740.0,270.7 L740.1,270.8 L740.2,268.6 L740.3,268.9 L740.5,268.7 L740.6,268.8 L740.7,267.9 L740.8,268.3 L741.0,269.0 L741.1,265.0 L741.2,265.8 L741.3,266.9 L741.5,264.7 L741.6,267.3 L741.7,265.2 L741.8,266.8 L742.0,265.5 L742.1,266.0 L742.2,266.2 L742.3,261.7 L742.5,264.5 L742.6,262.7 L742.7,263.2 L742.8,264.7 L742.9,263.8 L743.1,263.0 L743.2,261.9 L743.3,264.0 L743.4,264.7 L743.6,261.5 L743.7,260.8 L743.8,264.0 L743.9,260.7 L744.1,260.8 L744.2,261.8 L744.3,262.9 L744.4,260.7 L744.6,263.9 L744.7,263.1 L744.8,262.8 L744.9,261.4 L745.1,264.7 L745.2,264.7 L745.3,262.4 L745.4,264.7 L745.6,261.1 L745.7,262.4 L745.8,264.7 L745.9,263.9 L746.1,261.1 L746.2,263.9 L746.3,262.3 L746.4,264.7 L746.6,264.7 L746.7,264.7 L746.8,262.2 L746.9,260.7 L747.0,260.7 L747.2,260.7 L747.3,261.0 L747.4,263.7 L747.5,263.3 L747.7,261.2 L747.8,263.9 L747.9,264.8 L748.0,269.8 L748.2,263.6 L748.3,267.1 L748.4,264.4 L748.5,269.4 L748.7,268.4 L748.8,268.3 L748.9,268.3 L749.0,269.8 L749.2,269.8 L749.3,269.8 L749.4,269.8 L749.5,269.8 L749.7,268.1 L749.8,266.0 L749.9,264.3 L750.0,265.6 L750.2,263.4 L750.3,264.5 L750.4,264.1 L750.5,265.8 L750.7,262.1 L750.8,263.3 L750.9,262.0 L751.0,261.7 L751.2,259.2 L751.3,258.9 L751.4,257.7 L751.5,260.4 L751.7,258.9 L751.8,258.4 L751.9,256.9 L752.0,258.1 L752.2,259.7 L752.3,257.6 L752.4,257.4 L752.5,255.4 L752.7,254.6 L752.8,255.1 L752.9,253.9 L753.0,255.9 L753.2,255.2 L753.3,256.6 L753.4,256.0 L753.5,255.9 L753.7,255.4 L753.8,254.1 L753.9,255.9 L754.0,251.6 L754.2,254.1 L754.3,251.6 L754.4,252.5 L754.5,255.5 L754.7,251.6 L754.8,255.0 L754.9,255.1 L755.0,254.7 L755.2,252.2 L755.3,255.1 L755.4,254.8 L755.5,256.6 L755.7,255.1 L755.8,253.3 L755.9,254.4 L756.0,253.0 L756.2,253.4 L756.3,253.8 L756.4,251.6 L756.5,251.6 L756.7,252.5 L756.8,252.4 L756.9,253.1 L757.0,254.6 L757.1,253.5 L757.3,251.0 L757.4,249.3 L757.5,248.5 L757.6,252.7 L757.8,245.6 L757.9,250.1 L758.0,249.1 L758.1,249.3 L758.3,249.0 L758.4,248.6 L758.5,249.1 L758.6,247.5 L758.8,251.2 L758.9,249.4 L759.0,247.6 L759.1,246.5 L759.3,246.7 L759.4,248.7 L759.5,246.0 L759.6,247.2 L759.8,245.6 L759.9,245.6 L760.0,247.0 L760.1,245.6 L760.3,245.6 L760.4,245.6 L760.5,245.8 L760.6,245.7 L760.8,246.3 L760.9,247.1 L761.0,245.7 L761.1,247.2 L761.3,248.6 L761.4,247.7 L761.5,248.6 L761.6,247.2 L761.8,248.6 L761.9,248.6 L762.0,247.3 L762.1,244.8 L762.3,248.6 L762.4,248.3 L762.5,248.5 L762.6,248.6 L762.8,246.3 L762.9,248.6 L763.0,247.3 L763.1,245.1 L763.3,246.3 L763.4,246.9 L763.5,247.5 L763.6,246.6 L763.8,247.7 L763.9,248.6 L764.0,245.1 L764.1,244.8 L764.3,246.7 L764.4,246.2 L764.5,248.4 L764.6,246.2 L764.8,244.6 L764.9,248.6 L765.0,246.1 L765.1,247.6 L765.2,246.5 L765.4,244.7 L765.5,245.9 L765.6,243.5 L765.8,243.7 L765.9,239.5 L766.0,245.1 L766.1,243.8 L766.2,240.1 L766.4,244.4 L766.5,239.8 L766.6,242.3 L766.8,240.2 L766.9,243.9 L767.0,239.6 L767.1,239.5 L767.2,242.7 L767.4,243.3 L767.5,241.4 L767.6,242.8 L767.8,240.9 L767.9,241.8 L768.0,241.0 L768.1,238.8 L768.3,239.8 L768.4,241.1 L768.5,242.5 L768.6,239.0 L768.8,240.1 L768.9,240.6 L769.0,240.0 L769.2,237.8 L769.3,239.2 L769.4,238.6 L769.5,240.7 L769.7,241.8 L769.8,241.8 L769.9,241.0 L770.0,240.1 L770.1,241.8 L770.3,240.5 L770.4,241.7 L770.5,241.8 L770.6,240.6 L770.8,240.7 L770.9,238.4 L771.0,240.3 L771.1,241.2 L771.3,241.8 L771.4,236.7 L771.5,238.4 L771.6,236.5 L771.8,239.4 L771.9,241.1 L772.0,237.5 L772.1,239.5 L772.3,239.9 L772.4,240.9 L772.5,235.4 L772.6,233.4 L772.8,236.7 L772.9,236.5 L773.0,235.7 L773.1,235.1 L773.3,234.6 L773.4,234.4 L773.5,235.8 L773.6,233.4 L773.8,232.1 L773.9,231.2 L774.0,232.7 L774.1,231.1 L774.3,233.4 L774.4,232.6 L774.5,232.8 L774.6,230.5 L774.8,227.7 L774.9,232.1 L775.0,228.5 L775.1,231.2 L775.3,233.6 L775.4,233.7 L775.5,229.6 L775.6,229.0 L775.8,229.5 L775.9,229.9 L776.0,231.2 L776.1,229.4 L776.3,228.5 L776.4,230.1 L776.5,232.5 L776.6,229.8 L776.8,228.9 L776.9,229.6 L777.0,229.2 L777.1,230.0 L777.2,228.8 L777.4,224.7 L777.5,229.9 L777.6,226.6 L777.8,230.7 L777.9,222.7 L778.0,226.4 L778.1,222.7 L778.2,222.7 L778.4,225.7 L778.5,225.2 L778.6,225.4 L778.8,224.1 L778.9,222.7 L779.0,225.3 L779.1,224.9 L779.2,223.9 L779.4,224.9 L779.5,224.2 L779.6,224.5 L779.7,222.2 L779.9,222.3 L780.0,222.6 L780.1,222.7 L780.2,222.7 L780.4,222.8 L780.5,221.5 L780.6,222.3 L780.7,219.6 L780.8,222.1 L781.0,219.0 L781.1,219.3 L781.2,218.2 L781.3,218.0 L781.5,212.5 L781.6,216.4 L781.7,214.5 L781.8,216.9 L782.0,210.8 L782.1,210.6 L782.2,209.8 L782.3,210.0 L782.5,210.4 L782.6,207.2 L782.7,208.9 L782.8,212.0 L783.0,214.7 L783.1,221.6 L783.2,219.5 L783.3,219.5 L783.4,221.9 L783.6,225.0 L783.7,224.4 L783.8,228.4 L783.9,226.3 L784.1,225.3 L784.2,224.0 L784.3,224.0 L784.5,223.5 L784.6,218.1 L784.7,219.8 L784.8,213.5 L785.0,214.3 L785.1,213.1 L785.2,216.8 L785.3,216.2 L785.5,220.4 L785.6,218.6 L785.7,215.9 L785.8,218.1 L786.0,220.4 L786.1,218.4 L786.2,222.1 L786.3,222.1 L786.5,220.9 L786.6,219.8 L786.7,226.4 L786.8,223.4 L787.0,226.6 L787.1,220.7 L787.2,227.5 L787.3,229.0 L787.4,227.6 L787.6,227.8 L787.7,222.9 L787.8,223.8 L787.9,223.8 L788.0,222.3 L788.2,221.6 L788.3,221.9 L788.4,223.2 L788.5,221.1 L788.7,217.6 L788.8,221.4 L788.9,219.1 L789.0,220.6 L789.1,217.8 L789.3,218.6 L789.4,220.6 L789.5,217.8 L789.6,219.8 L789.8,218.1 L789.9,216.7 L790.0,216.7 L790.1,216.7 L790.3,216.7 L790.4,217.6 L790.5,220.0 L790.6,219.4 L790.8,216.7 L790.9,217.4 L791.0,220.6 L791.1,218.3 L791.3,216.7 L791.4,218.2 L791.5,216.4 L791.6,219.7 L791.8,219.7 L791.9,214.7 L792.0,218.8 L792.1,216.9 L792.3,216.5 L792.4,213.3 L792.5,212.6 L792.6,214.5 L792.8,214.3 L792.9,214.3 L793.0,213.4 L793.1,216.2 L793.3,212.8 L793.4,213.4 L793.5,213.7 L793.6,212.7 L793.8,212.9 L793.9,216.4 L794.0,212.3 L794.1,213.8 L794.2,209.5 L794.4,213.8 L794.5,208.4 L794.6,211.4 L794.8,213.3 L794.9,213.8 L795.0,210.8 L795.1,213.8 L795.2,208.7 L795.4,211.9 L795.5,210.3 L795.6,211.2 L795.8,208.4 L795.9,213.0 L796.0,207.8 L796.1,212.0 L796.2,208.9 L796.4,208.9 L796.5,208.0 L796.6,207.1 L796.8,202.3 L796.9,207.4 L797.0,207.4 L797.1,204.5 L797.3,205.2 L797.4,208.4 L797.5,208.4 L797.6,205.8 L797.8,206.6 L797.9,209.5 L798.0,204.7 L798.1,208.1 L798.3,206.0 L798.4,206.9 L798.5,205.8 L798.6,202.5 L798.8,207.3 L798.9,206.4 L799.0,207.2 L799.1,207.1 L799.3,204.0 L799.4,206.6 L799.5,206.1 L799.6,205.4 L799.8,201.2 L799.9,202.1 L800.0,203.3 L800.1,199.9 L800.3,203.6 L800.4,203.6 L800.5,203.6 L800.6,203.6 L800.8,199.7 L800.9,202.7 L801.0,201.8 L801.1,203.6 L801.2,199.8 L801.4,200.5 L801.5,199.7 L801.6,201.2 L801.7,199.7 L801.8,199.7 L802.0,203.0 L802.1,202.9 L802.2,205.2 L802.3,199.7 L802.5,204.3 L802.6,206.2 L802.7,203.7 L802.8,204.8 L802.9,211.0 L803.1,209.8 L803.2,203.5 L803.3,209.7 L803.4,210.1 L803.6,208.4 L803.7,210.8 L803.8,215.7 L803.9,218.0 L804.1,215.9 L804.2,218.2 L804.3,218.1 L804.4,214.1 L804.6,216.6 L804.7,216.5 L804.8,216.8 L804.9,213.4 L805.1,212.3 L805.2,215.6 L805.3,214.3 L805.4,215.4 L805.6,216.5 L805.7,211.7 L805.8,210.6 L805.9,214.8 L806.1,209.6 L806.2,215.3 L806.3,215.6 L806.4,215.3 L806.6,219.8 L806.7,217.2 L806.8,220.7 L806.9,221.8 L807.1,223.5 L807.2,222.5 L807.3,225.5 L807.5,225.6 L807.6,233.1 L807.7,234.1 L807.8,241.2 L808.0,241.0 L808.1,242.0 L808.2,242.2 L808.3,235.6 L808.5,235.7 L808.6,231.7 L808.7,231.4 L808.8,228.5 L809.0,229.8 L809.1,224.3 L809.2,222.5 L809.3,221.5 L809.4,223.0 L809.6,221.2 L809.7,217.7 L809.8,220.7 L809.9,217.2 L810.1,215.5 L810.2,217.6 L810.3,216.8 L810.4,218.2 L810.6,214.6 L810.7,219.6 L810.8,215.9 L810.9,219.2 L811.1,212.8 L811.2,211.3 L811.3,211.9 L811.4,210.8 L811.6,210.8 L811.7,210.8 L811.8,212.3 L811.9,213.8 L812.0,213.8 L812.2,212.8 L812.3,207.1 L812.4,211.4 L812.5,212.1 L812.7,208.6 L812.8,208.4 L812.9,206.6 L813.0,206.3 L813.2,210.2 L813.3,207.3 L813.4,203.4 L813.5,207.1 L813.7,205.4 L813.8,202.0 L813.9,204.9 L814.0,201.8 L814.1,208.8 L814.3,201.4 L814.4,205.4 L814.5,204.3 L814.6,201.6 L814.8,204.3 L814.9,202.5 L815.0,203.0 L815.1,200.4 L815.3,200.9 L815.4,198.5 L815.5,200.0 L815.6,200.5 L815.8,200.5 L815.9,201.5 L816.0,198.7 L816.1,198.6 L816.2,199.0 L816.4,199.6 L816.5,198.5 L816.6,199.2 L816.7,197.2 L816.9,201.7 L817.0,201.2 L817.1,201.0 L817.2,199.3 L817.3,202.5 L817.5,202.2 L817.6,200.2 L817.7,201.2 L817.8,201.0 L817.9,203.8 L818.1,200.5 L818.2,200.9 L818.3,208.0 L818.4,208.6 L818.5,207.6 L818.7,202.9 L818.8,211.3 L818.9,205.8 L819.0,207.4 L819.2,210.7 L819.3,209.1 L819.4,210.6 L819.5,209.9 L819.6,211.8 L819.8,206.9 L819.9,204.3 L820.0,207.1 L820.1,210.0 L820.3,201.0 L820.4,205.2 L820.5,204.4 L820.6,200.7 L820.8,204.0 L820.9,200.0 L821.0,198.9 L821.1,197.6 L821.3,197.9 L821.4,198.3 L821.5,196.9 L821.6,198.6 L821.8,194.6 L821.9,193.0 L822.0,193.6 L822.1,195.1 L822.2,195.1 L822.4,195.1 L822.5,194.9 L822.6,193.0 L822.7,194.5 L822.9,193.5 L823.0,195.1 L823.1,194.5 L823.2,191.3 L823.3,194.0 L823.5,189.7 L823.6,190.7 L823.7,191.0 L823.8,192.5 L823.9,192.4 L824.1,193.8 L824.2,194.7 L824.3,195.9 L824.4,200.4 L824.5,201.1 L824.7,199.6 L824.8,201.8 L824.9,199.1 L825.0,203.5 L825.2,204.4 L825.3,204.1 L825.4,202.9 L825.5,202.5 L825.6,203.3 L825.8,202.1 L825.9,201.9 L826.0,196.9 L826.1,194.6 L826.3,193.9 L826.4,196.1 L826.5,193.9 L826.6,192.1 L826.8,189.0 L826.9,194.1 L827.0,191.1 L827.1,195.8 L827.3,192.2 L827.4,190.7 L827.5,189.6 L827.6,190.0 L827.8,190.7 L827.9,190.2 L828.0,188.7 L828.1,189.3 L828.3,192.0 L828.4,195.8 L828.5,196.8 L828.6,196.7 L828.8,196.3 L828.9,197.3 L829.0,195.4 L829.1,196.5 L829.2,200.2 L829.4,196.8 L829.5,193.1 L829.6,198.7 L829.7,195.7 L829.8,195.8 L830.0,195.9 L830.1,194.5 L830.2,190.3 L830.3,195.4 L830.5,191.4 L830.6,193.2 L830.7,191.9 L830.8,185.3 L830.9,186.6 L831.1,188.8 L831.2,186.4 L831.3,186.8 L831.4,185.2 L831.5,185.6 L831.7,185.4 L831.8,187.2 L831.9,180.1 L832.0,183.5 L832.2,185.6 L832.3,183.5 L832.4,184.1 L832.5,179.3 L832.7,179.3 L832.8,184.3 L832.9,179.5 L833.0,179.5 L833.2,179.3 L833.3,179.3 L833.4,179.7 L833.5,180.5 L833.7,179.6 L833.8,182.0 L833.9,180.8 L834.0,179.2 L834.2,182.3 L834.3,179.0 L834.4,178.8 L834.5,172.6 L834.7,174.8 L834.8,174.3 L834.9,173.8 L835.0,176.1 L835.2,172.8 L835.3,170.4 L835.4,173.1 L835.5,170.2 L835.7,171.7 L835.8,170.0 L835.9,171.5 L836.0,171.0 L836.2,171.5 L836.3,171.5 L836.4,169.4 L836.5,165.4 L836.7,168.0 L836.8,171.5 L836.9,171.5 L837.0,170.2 L837.2,167.7 L837.3,167.0 L837.4,169.7 L837.5,164.7 L837.7,165.1 L837.8,167.7 L837.9,164.7 L838.0,158.5 L838.2,160.2 L838.3,160.4 L838.4,161.2 L838.5,158.3 L838.7,158.3 L838.8,161.0 L838.9,159.8 L839.0,159.0 L839.2,167.2 L839.3,167.4 L839.4,164.1 L839.5,168.1 L839.7,168.0 L839.8,172.5 L839.9,181.1 L840.1,180.1 L840.2,180.9 L840.3,190.7 L840.4,198.3 L840.6,194.3 L840.7,200.4 L840.8,205.6 L840.9,212.1 L841.1,215.0 L841.2,220.8 L841.3,223.5 L841.4,231.8 L841.6,237.0 L841.7,242.4 L841.8,247.1 L841.9,245.7 L842.1,239.1 L842.2,233.5 L842.3,233.3 L842.4,228.9 L842.6,226.5 L842.7,217.8 L842.8,217.6 L842.9,212.4 L843.1,209.7 L843.2,205.5 L843.3,205.4 L843.4,201.1 L843.6,205.2 L843.7,198.8 L843.8,196.9 L843.9,198.8 L844.1,195.5 L844.2,191.0 L844.3,189.2 L844.4,191.7 L844.6,193.7 L844.7,186.4 L844.8,187.8 L844.9,188.6" fill="none" stroke="#1f77b4" stroke-width="1.75" stroke-linejoin="round" stroke-linecap="butt"/>
<path d="M844.9,188.6 L845.1,186.9 L845.2,184.5 L845.3,186.0 L845.4,182.0 L845.5,180.2 L845.7,182.3 L845.8,178.8 L845.9,177.4 L846.0,175.2 L846.1,177.2 L846.3,175.6 L846.4,174.2 L846.5,172.3 L846.6,174.1 L846.8,171.1 L846.9,169.2 L847.0,169.7 L847.1,171.8 L847.2,168.2 L847.4,168.2 L847.5,168.9 L847.6,172.2 L847.7,169.6 L847.9,174.7 L848.0,172.0 L848.1,176.3 L848.2,176.3 L848.4,173.6 L848.5,170.2 L848.6,173.5 L848.7,176.3 L848.9,176.3 L849.0,175.9 L849.1,171.5 L849.2,172.0 L849.4,174.4 L849.5,173.2 L849.6,174.8 L849.7,172.6 L849.8,176.3 L850.0,175.1 L850.1,173.9 L850.2,173.8 L850.3,171.2 L850.5,166.9 L850.6,168.0 L850.7,166.9 L850.8,170.2 L850.9,169.1 L851.1,164.6 L851.2,167.4 L851.3,164.6 L851.4,166.1 L851.5,158.9 L851.7,158.5 L851.8,165.0 L851.9,161.3 L852.0,161.0 L852.2,155.2 L852.3,151.1 L852.4,154.7 L852.5,154.3 L852.7,149.5 L852.8,151.1 L852.9,151.1 L853.0,146.8 L853.2,144.3 L853.3,143.5 L853.4,146.8 L853.5,145.0 L853.7,144.6 L853.8,142.5 L853.9,147.1 L854.0,149.1 L854.2,153.5 L854.3,153.7 L854.4,151.4 L854.5,151.1 L854.6,151.7 L854.8,156.5 L854.9,163.5 L855.0,166.6 L855.1,161.7 L855.3,160.0 L855.4,169.5 L855.5,168.0 L855.6,165.9 L855.7,162.2 L855.9,161.0 L856.0,160.3 L856.1,160.0 L856.2,158.6 L856.4,154.6 L856.5,155.6 L856.6,154.1 L856.7,157.8 L856.8,152.0 L857.0,150.3 L857.1,152.5 L857.2,151.0 L857.3,152.5 L857.5,152.5 L857.6,159.5 L857.7,157.1 L857.8,157.1 L858.0,161.5 L858.1,161.2 L858.2,162.7 L858.3,155.4 L858.5,151.7 L858.6,157.3 L858.7,151.8 L858.8,154.4 L859.0,151.8 L859.1,148.7 L859.2,146.8 L859.3,146.6 L859.4,142.5 L859.6,143.4 L859.7,145.5 L859.8,140.8 L859.9,135.1 L860.0,137.8 L860.2,142.3 L860.3,139.3 L860.4,136.6 L860.5,135.1 L860.6,135.6 L860.8,133.4 L860.9,135.2 L861.0,131.6 L861.1,133.3 L861.3,131.1 L861.4,130.8 L861.5,132.3 L861.6,129.6 L861.8,131.6 L861.9,133.1 L862.0,132.5 L862.1,131.6 L862.2,130.8 L862.4,126.4 L862.5,124.0 L862.6,127.4 L862.8,124.0 L862.9,126.7 L863.0,126.4 L863.1,127.2 L863.2,129.1 L863.4,125.8 L863.5,126.9 L863.6,124.0 L863.8,126.1 L863.9,124.7 L864.0,125.5 L864.1,120.1 L864.3,119.9 L864.4,126.6 L864.5,117.9 L864.6,121.5 L864.8,117.2 L864.9,118.7 L865.0,117.3 L865.1,119.7 L865.3,120.2 L865.4,115.8 L865.5,118.1 L865.6,120.2 L865.8,112.1 L865.9,112.1 L866.0,112.9 L866.1,112.1 L866.2,116.0 L866.4,117.7 L866.5,112.1 L866.6,113.6 L866.7,115.1 L866.9,115.1 L867.0,108.7 L867.1,109.4 L867.2,111.2 L867.4,108.7 L867.5,111.9 L867.6,111.0 L867.7,109.9 L867.9,110.8 L868.0,110.3 L868.1,108.7 L868.2,108.7 L868.4,109.8 L868.5,110.1 L868.6,108.9 L868.7,115.1 L868.9,110.2 L869.0,111.7 L869.1,110.2 L869.2,111.7 L869.3,104.5 L869.5,110.4 L869.6,110.9 L869.7,111.7 L869.8,111.7 L870.0,106.8 L870.1,109.0 L870.2,106.3 L870.3,102.5 L870.4,102.1 L870.6,100.8 L870.7,100.8 L870.8,101.7 L870.9,100.4 L871.1,99.8 L871.2,96.5 L871.3,95.0 L871.4,99.6 L871.6,92.2 L871.7,92.9 L871.8,90.5 L871.9,90.2 L872.1,92.0 L872.2,91.0 L872.3,90.7 L872.4,90.7 L872.6,88.1 L872.7,94.4 L872.8,90.4 L872.9,94.4 L873.0,94.4 L873.2,94.4 L873.3,94.4 L873.4,90.5 L873.5,93.0 L873.7,94.4 L873.8,91.1 L873.9,89.6 L874.0,88.9 L874.2,85.0 L874.3,91.1 L874.4,89.3 L874.5,85.8 L874.7,84.6 L874.8,86.3 L874.9,85.6 L875.0,84.0 L875.2,86.0 L875.3,84.1 L875.4,84.2 L875.5,84.4 L875.7,82.1 L875.8,85.9 L875.9,81.3 L876.0,79.7 L876.2,81.0 L876.3,76.6 L876.4,80.3 L876.5,80.4 L876.7,83.3 L876.8,78.5 L876.9,76.7 L877.0,74.7 L877.2,76.9 L877.3,76.2 L877.4,77.3 L877.6,73.7 L877.7,70.9 L877.8,72.4 L877.9,77.3 L878.1,68.9 L878.2,75.3 L878.3,75.1 L878.4,70.3 L878.6,69.1 L878.7,71.6 L878.8,67.6 L879.0,69.2 L879.1,73.0 L879.2,67.8 L879.3,64.0 L879.5,71.0 L879.6,63.6 L879.7,69.4 L879.8,68.9 L880.0,67.4 L880.1,63.6 L880.2,64.3 L880.3,67.4 L880.5,65.9 L880.6,65.1 L880.7,63.6 L880.8,67.2 L881.0,63.6 L881.1,69.2 L881.2,73.1 L881.3,78.1 L881.5,71.9 L881.6,70.4 L881.7,73.3 L881.8,69.7 L881.9,73.6 L882.1,75.4 L882.2,75.4 L882.3,74.4 L882.4,82.2 L882.6,81.2 L882.7,82.2 L882.8,80.7 L882.9,72.6 L883.1,77.4 L883.2,77.9 L883.3,74.5 L883.4,78.7 L883.6,71.0 L883.7,65.7 L883.8,65.4 L883.9,71.4 L884.1,66.1 L884.2,59.7 L884.3,71.7 L884.4,57.0 L884.6,62.6 L884.7,57.3 L884.8,59.5 L884.9,55.7 L885.1,63.4 L885.2,57.6 L885.3,62.0 L885.4,57.5 L885.6,53.5 L885.7,55.5 L885.8,51.2 L885.9,51.7 L886.1,51.8 L886.2,50.6 L886.3,49.1 L886.4,54.2 L886.6,49.1 L886.7,52.9 L886.8,55.6 L886.9,50.3 L887.1,57.7 L887.2,55.8 L887.3,55.4 L887.4,54.5 L887.5,54.5 L887.7,54.1 L887.8,60.1 L887.9,58.1 L888.0,61.7 L888.2,59.6 L888.3,61.1 L888.4,64.0 L888.5,59.9 L888.7,60.9 L888.8,54.6 L888.9,60.8 L889.0,54.6 L889.2,49.8 L889.3,54.4 L889.4,49.4 L889.6,47.2 L889.7,49.9 L889.8,44.6 L889.9,45.1 L890.1,45.3 L890.2,42.1 L890.3,40.6 L890.4,45.7 L890.6,45.4 L890.7,48.9 L890.8,53.7 L890.9,45.9 L891.1,55.8 L891.2,57.0 L891.3,54.9 L891.4,56.3 L891.6,58.2 L891.7,59.8 L891.8,58.4 L891.9,56.9 L892.1,56.9 L892.2,65.0 L892.3,68.3 L892.4,60.1 L892.6,57.9 L892.7,65.8 L892.8,58.3 L892.9,73.5 L893.1,75.8 L893.2,69.9 L893.3,73.5 L893.4,71.7 L893.6,79.0 L893.7,78.7 L893.8,79.7 L893.9,78.8 L894.1,83.5 L894.2,86.4 L894.3,87.2 L894.4,90.0 L894.6,90.0 L894.7,88.5 L894.8,88.6 L894.9,90.0 L895.1,84.9 L895.2,81.5 L895.3,79.6 L895.4,79.4 L895.6,80.8 L895.7,71.8 L895.8,70.7 L895.9,66.2 L896.1,65.9 L896.2,64.3 L896.3,63.7 L896.4,56.8 L896.6,65.4 L896.7,65.6 L896.8,60.0 L896.9,54.2 L897.1,57.5 L897.2,55.2 L897.3,53.9 L897.4,52.4 L897.6,56.9 L897.7,55.6 L897.8,65.5 L897.9,62.3 L898.1,61.4 L898.2,68.6 L898.3,63.3 L898.5,64.2 L898.6,71.0 L898.7,72.5 L898.8,77.9 L899.0,78.5 L899.1,78.2 L899.2,82.5 L899.3,85.1 L899.5,89.0 L899.6,88.5 L899.7,88.0 L899.9,96.8 L900.0,102.2 L900.1,100.3 L900.2,97.8 L900.4,104.1 L900.5,101.3 L900.6,106.5 L900.7,106.2 L900.9,110.0 L901.0,105.6 L901.1,109.0 L901.2,110.4 L901.4,105.5 L901.5,112.4 L901.6,116.3 L901.8,112.6 L901.9,118.1 L902.0,117.0 L902.1,116.2 L902.3,126.1 L902.4,124.5 L902.5,124.7 L902.6,124.0 L902.8,119.5 L902.9,128.6 L903.0,125.5 L903.1,122.5 L903.3,122.2 L903.4,124.7 L903.5,125.6 L903.6,120.1 L903.8,114.7 L903.9,120.7 L904.0,113.8 L904.1,112.7 L904.2,112.4 L904.4,109.0 L904.5,106.6 L904.6,108.5 L904.7,104.7 L904.9,102.2 L905.0,103.7 L905.1,101.8 L905.2,98.1 L905.3,102.6 L905.5,93.1 L905.6,95.8 L905.7,96.6 L905.8,86.2 L906.0,100.0 L906.1,97.1 L906.2,95.7 L906.3,90.2 L906.4,90.5 L906.6,92.0 L906.7,89.8 L906.8,88.0 L906.9,84.5 L907.1,85.9 L907.2,76.7 L907.3,77.3 L907.4,80.1 L907.6,80.8 L907.7,85.5 L907.8,85.5 L907.9,88.2 L908.1,96.2 L908.2,97.8 L908.3,93.3 L908.5,84.0 L908.6,95.7 L908.7,96.7 L908.8,93.1 L909.0,102.7 L909.1,102.1 L909.2,93.4 L909.3,105.2 L909.5,103.5 L909.6,108.5 L909.7,112.8 L909.8,108.7 L910.0,113.3 L910.1,112.5 L910.2,121.6 L910.3,120.5 L910.5,119.5 L910.6,113.8 L910.7,125.1 L910.8,116.4 L910.9,122.8 L911.1,116.8 L911.2,128.1 L911.3,132.4 L911.4,131.6 L911.6,132.3 L911.7,130.7 L911.8,133.0 L911.9,134.5 L912.1,132.0 L912.2,126.2 L912.3,125.2 L912.4,119.6 L912.6,118.3 L912.7,118.3 L912.8,113.5 L912.9,115.2 L913.1,114.1 L913.2,113.2 L913.3,110.7 L913.5,109.2 L913.6,106.0 L913.7,109.3 L913.8,103.8 L914.0,100.9 L914.1,104.9 L914.2,100.5 L914.3,102.3 L914.5,99.1 L914.6,100.3 L914.7,99.2 L914.8,100.5 L915.0,96.9 L915.1,95.1 L915.2,93.6 L915.4,93.7 L915.5,100.9 L915.6,99.2 L915.7,105.7 L915.9,99.9 L916.0,104.2 L916.1,105.2 L916.2,109.4 L916.4,103.6 L916.5,106.5 L916.6,112.4 L916.8,109.2 L916.9,116.7 L917.0,116.7 L917.1,114.5 L917.3,116.7 L917.4,115.2 L917.5,114.5 L917.6,107.3 L917.8,104.4 L917.9,104.6 L918.0,106.5 L918.1,101.7 L918.3,100.7 L918.4,97.0 L918.5,95.3 L918.6,100.0 L918.8,90.7 L918.9,92.9 L919.0,92.1 L919.1,91.1 L919.3,88.9 L919.4,90.0 L919.5,95.6 L919.6,87.5 L919.8,87.3 L919.9,88.2 L920.0,85.1 L920.1,84.9 L920.3,87.6 L920.4,86.1 L920.5,84.5 L920.6,89.1 L920.8,87.4 L920.9,94.2 L921.0,95.4 L921.1,92.6 L921.3,90.3 L921.4,93.9 L921.5,102.8 L921.6,95.6 L921.8,101.1 L921.9,97.9 L922.0,99.0 L922.1,105.9 L922.3,104.3 L922.4,107.0 L922.5,106.0 L922.6,105.9 L922.8,107.2 L922.9,108.5 L923.0,109.6 L923.1,105.6 L923.3,105.1 L923.4,108.8 L923.5,108.5 L923.6,105.6 L923.8,107.0 L923.9,100.9 L924.0,99.0 L924.1,100.1 L924.3,95.4 L924.4,101.7 L924.5,97.3 L924.6,98.0 L924.8,91.4 L924.9,99.6 L925.0,95.3 L925.1,87.6 L925.3,86.2 L925.4,88.7 L925.5,92.1 L925.6,92.7 L925.8,94.5 L925.9,90.9 L926.0,92.7 L926.1,93.8 L926.3,92.6 L926.4,92.2 L926.5,93.2 L926.6,86.2 L926.8,84.7 L926.9,88.2 L927.0,84.7 L927.1,87.9 L927.3,86.8 L927.4,86.2 L927.5,87.7 L927.7,81.9 L927.8,87.7 L927.9,85.9 L928.0,80.6 L928.2,79.0 L928.3,82.2 L928.4,84.0 L928.5,85.7 L928.7,84.6 L928.8,78.8 L928.9,78.0 L929.0,76.0 L929.2,78.3 L929.3,72.5 L929.4,75.3 L929.6,70.6 L929.7,62.5 L929.8,72.0 L929.9,73.5 L930.1,62.5 L930.2,65.2 L930.3,64.5 L930.4,67.0 L930.6,66.5 L930.7,64.0 L930.8,58.3 L931.0,63.2 L931.1,64.8 L931.2,60.1 L931.3,64.8 L931.5,60.5 L931.6,59.5 L931.7,57.5 L931.9,50.7 L932.0,55.7 L932.1,48.0 L932.2,59.3 L932.4,49.9 L932.5,50.1 L932.6,49.6 L932.7,48.0 L932.9,51.6 L933.0,49.5 L933.1,56.0 L933.3,53.4 L933.4,48.0 L933.5,54.8 L933.6,49.9 L933.8,53.7 L933.9,54.2 L934.0,54.2 L934.2,56.5 L934.3,57.5 L934.4,60.3 L934.5,53.3 L934.7,56.4 L934.8,59.5 L934.9,58.5 L935.0,61.0 L935.2,61.0 L935.3,60.2 L935.4,61.0 L935.5,54.5 L935.7,53.5 L935.8,61.0 L935.9,61.0 L936.0,61.0 L936.1,61.0 L936.3,61.0 L936.4,59.6 L936.5,57.3 L936.6,60.9 L936.8,59.8 L936.9,58.3 L937.0,55.0 L937.1,53.5 L937.2,56.2 L937.4,59.5 L937.5,58.7 L937.6,61.1 L937.8,66.7 L937.9,61.9 L938.0,62.7 L938.1,69.0 L938.2,66.2 L938.4,74.4 L938.5,72.9" fill="none" stroke="#1f77b4" stroke-width="2.3" stroke-linejoin="round" stroke-linecap="butt"/>
<path d="M98.4,398.2 L98.5,398.5 L98.7,398.2 L98.8,398.3 L99.0,398.4 L99.1,398.3 L99.3,398.4 L99.4,398.3 L99.5,398.0 L99.7,398.0 L99.8,398.2 L100.0,398.2 L100.1,398.2 L100.3,398.1 L100.4,398.1 L100.5,397.8 L100.7,398.1 L100.8,397.8 L101.0,398.0 L101.1,397.7 L101.2,397.7 L101.4,397.9 L101.5,397.8 L101.7,397.7 L101.8,398.0 L102.0,397.8 L102.1,397.9 L102.2,397.7 L102.4,397.6 L102.5,397.7 L102.7,397.7 L102.8,397.7 L103.0,397.9 L103.1,397.5 L103.2,397.4 L103.4,397.4 L103.5,397.7 L103.7,397.6 L103.8,397.6 L104.0,397.5 L104.1,397.5 L104.2,397.4 L104.4,397.5 L104.5,397.3 L104.7,396.9 L104.8,397.3 L105.0,397.8 L105.1,397.2 L105.2,397.3 L105.4,397.4 L105.5,397.2 L105.7,397.3 L105.8,396.9 L106.0,396.8 L106.1,397.0 L106.2,396.8 L106.4,396.9 L106.5,397.2 L106.7,397.1 L106.8,396.9 L106.9,396.8 L107.1,396.9 L107.2,396.8 L107.4,396.7 L107.5,396.9 L107.7,396.9 L107.8,396.8 L107.9,397.0 L108.1,396.7 L108.2,396.8 L108.4,396.8 L108.5,397.1 L108.7,397.0 L108.8,397.1 L108.9,397.1 L109.1,396.7 L109.2,396.6 L109.4,396.8 L109.5,396.7 L109.7,396.6 L109.8,396.4 L109.9,396.7 L110.1,396.6 L110.2,396.7 L110.4,396.6 L110.5,396.4 L110.7,396.2 L110.8,396.5 L110.9,396.4 L111.1,396.4 L111.2,396.6 L111.4,396.5 L111.5,396.8 L111.7,396.6 L111.8,396.8 L111.9,396.8 L112.1,396.8 L112.2,396.5 L112.4,396.9 L112.5,396.7 L112.6,396.6 L112.8,396.9 L112.9,396.8 L113.1,397.0 L113.2,397.0 L113.4,397.1 L113.5,396.8 L113.6,397.4 L113.8,397.4 L113.9,397.3 L114.1,397.3 L114.2,397.4 L114.4,397.0 L114.5,397.2 L114.6,397.5 L114.8,397.4 L114.9,397.2 L115.1,397.1 L115.2,397.3 L115.4,397.2 L115.5,397.5 L115.6,397.6 L115.8,397.4 L115.9,397.4 L116.1,397.2 L116.2,397.3 L116.4,397.0 L116.5,397.1 L116.6,397.2 L116.8,397.5 L116.9,397.2 L117.1,397.2 L117.2,396.8 L117.4,397.1 L117.5,396.9 L117.6,397.0 L117.8,396.9 L117.9,397.3 L118.1,397.2 L118.2,397.3 L118.4,397.2 L118.5,397.3 L118.6,397.5 L118.8,397.3 L118.9,397.4 L119.1,397.6 L119.2,397.3 L119.4,397.2 L119.5,397.2 L119.6,397.0 L119.8,397.4 L119.9,397.3 L120.1,397.5 L120.2,397.6 L120.4,397.4 L120.5,397.7 L120.6,397.7 L120.8,397.6 L120.9,397.7 L121.1,397.5 L121.2,397.4 L121.4,397.5 L121.5,397.2 L121.6,397.5 L121.8,397.4 L121.9,397.7 L122.1,397.4 L122.2,397.7 L122.3,397.7 L122.5,397.7 L122.6,397.8 L122.8,397.6 L122.9,397.6 L123.1,397.6 L123.2,397.7 L123.3,397.6 L123.5,397.8 L123.6,397.8 L123.8,397.7 L123.9,397.7 L124.1,397.5 L124.2,397.8 L124.3,397.9 L124.5,397.5 L124.6,397.7 L124.8,397.8 L124.9,397.7 L125.1,397.8 L125.2,397.7 L125.3,398.1 L125.5,397.9 L125.6,397.8 L125.8,397.5 L125.9,397.7 L126.1,397.6 L126.2,397.7 L126.3,397.5 L126.5,397.6 L126.6,397.4 L126.8,397.6 L126.9,397.9 L127.1,397.3 L127.2,397.4 L127.3,397.8 L127.5,397.8 L127.6,397.7 L127.8,397.9 L127.9,397.8 L128.1,397.8 L128.2,397.8 L128.3,397.5 L128.5,397.8 L128.6,397.7 L128.8,397.6 L128.9,397.7 L129.1,397.5 L129.2,397.7 L129.3,397.6 L129.5,397.5 L129.6,397.6 L129.8,397.6 L129.9,398.0 L130.1,397.5 L130.2,397.5 L130.3,397.1 L130.5,397.4 L130.6,397.7 L130.8,397.5 L130.9,397.3 L131.0,397.5 L131.2,397.2 L131.3,397.2 L131.5,397.7 L131.6,397.6 L131.8,397.5 L131.9,397.5 L132.0,397.1 L132.2,396.9 L132.3,397.4 L132.5,397.2 L132.6,397.1 L132.8,397.2 L132.9,397.4 L133.0,397.4 L133.2,397.4 L133.3,397.4 L133.5,397.3 L133.6,397.3 L133.7,397.6 L133.9,397.3 L134.0,397.6 L134.2,397.3 L134.3,397.2 L134.5,397.4 L134.6,397.1 L134.7,397.1 L134.9,397.2 L135.0,397.3 L135.2,397.4 L135.3,397.6 L135.4,397.4 L135.6,397.1 L135.7,397.2 L135.9,397.0 L136.0,397.5 L136.2,397.5 L136.3,397.5 L136.4,397.5 L136.6,397.5 L136.7,397.5 L136.9,397.5 L137.0,397.3 L137.2,397.2 L137.3,397.5 L137.4,397.6 L137.6,397.2 L137.7,397.3 L137.9,397.2 L138.0,397.4 L138.1,397.2 L138.3,397.4 L138.4,397.3 L138.6,397.2 L138.7,397.1 L138.9,397.1 L139.0,397.2 L139.1,397.1 L139.3,397.2 L139.4,397.4 L139.6,397.4 L139.7,397.4 L139.9,397.3 L140.0,397.1 L140.1,397.1 L140.3,397.5 L140.4,397.2 L140.6,397.2 L140.7,397.4 L140.9,397.4 L141.0,397.3 L141.1,397.6 L141.3,397.4 L141.4,397.5 L141.6,397.6 L141.7,397.5 L141.9,397.6 L142.0,397.5 L142.1,397.3 L142.3,397.3 L142.4,397.5 L142.6,397.4 L142.7,397.5 L142.9,397.5 L143.0,397.6 L143.1,397.7 L143.3,397.7 L143.4,397.5 L143.6,397.6 L143.7,397.4 L143.9,397.5 L144.0,397.5 L144.1,397.5 L144.3,397.9 L144.4,397.6 L144.6,398.0 L144.7,398.0 L144.8,398.3 L145.0,397.9 L145.1,398.2 L145.3,398.4 L145.4,398.3 L145.6,398.1 L145.7,398.1 L145.8,398.0 L146.0,398.2 L146.1,398.3 L146.3,398.4 L146.4,398.3 L146.6,398.4 L146.7,398.4 L146.8,398.1 L147.0,398.4 L147.1,398.4 L147.3,398.2 L147.4,398.2 L147.6,398.3 L147.7,398.4 L147.8,398.5 L148.0,398.2 L148.1,398.4 L148.3,398.7 L148.4,398.7 L148.6,398.4 L148.7,398.4 L148.8,398.4 L149.0,398.3 L149.1,398.4 L149.3,398.5 L149.4,398.4 L149.6,398.6 L149.7,398.7 L149.8,398.7 L150.0,398.8 L150.1,398.6 L150.3,398.5 L150.4,398.4 L150.5,398.2 L150.7,398.3 L150.8,398.2 L151.0,398.4 L151.1,398.4 L151.3,398.2 L151.4,398.4 L151.5,398.2 L151.7,398.3 L151.8,398.0 L152.0,398.0 L152.1,398.0 L152.2,398.2 L152.4,398.1 L152.5,398.1 L152.7,398.3 L152.8,398.2 L153.0,397.8 L153.1,398.0 L153.2,397.8 L153.4,397.8 L153.5,397.9 L153.7,397.9 L153.8,398.0 L153.9,398.1 L154.1,397.8 L154.2,397.8 L154.4,397.8 L154.5,397.7 L154.7,397.7 L154.8,397.5 L154.9,397.7 L155.1,397.4 L155.2,397.8 L155.4,397.8 L155.5,397.7 L155.6,397.5 L155.8,397.5 L155.9,397.2 L156.1,397.8 L156.2,397.7 L156.4,397.5 L156.5,397.3 L156.6,397.1 L156.8,397.3 L156.9,397.2 L157.1,397.2 L157.2,397.1 L157.4,397.4 L157.5,397.4 L157.7,397.1 L157.8,397.1 L157.9,396.8 L158.1,397.3 L158.2,397.3 L158.4,397.0 L158.5,397.3 L158.7,396.9 L158.8,396.8 L158.9,397.1 L159.1,397.0 L159.2,396.6 L159.4,396.9 L159.5,396.8 L159.7,396.9 L159.8,397.0 L160.0,396.8 L160.1,396.8 L160.2,397.0 L160.4,396.9 L160.5,396.7 L160.7,396.6 L160.8,396.8 L161.0,396.9 L161.1,396.7 L161.2,396.7 L161.4,396.5 L161.5,396.4 L161.7,396.7 L161.8,396.3 L162.0,396.4 L162.1,396.2 L162.3,396.4 L162.4,396.2 L162.5,396.1 L162.7,395.9 L162.8,395.8 L163.0,396.0 L163.1,396.1 L163.3,395.5 L163.4,395.7 L163.5,395.5 L163.7,395.4 L163.8,395.4 L164.0,395.3 L164.1,395.7 L164.3,395.8 L164.4,395.5 L164.5,395.5 L164.7,395.6 L164.8,395.5 L165.0,394.9 L165.1,395.2 L165.3,395.6 L165.4,395.0 L165.5,395.0 L165.7,395.1 L165.8,395.5 L166.0,395.1 L166.1,395.2 L166.3,395.4 L166.4,395.2 L166.5,395.2 L166.7,394.9 L166.8,394.8 L167.0,395.3 L167.1,394.8 L167.3,395.1 L167.4,395.1 L167.5,395.1 L167.7,394.8 L167.8,394.7 L168.0,394.8 L168.1,395.0 L168.3,395.0 L168.4,395.0 L168.5,394.9 L168.7,394.9 L168.8,394.4 L169.0,394.5 L169.1,395.0 L169.2,394.8 L169.4,394.8 L169.5,394.4 L169.7,394.6 L169.8,394.7 L170.0,394.7 L170.1,394.8 L170.2,394.6 L170.4,394.8 L170.5,394.6 L170.7,394.7 L170.8,394.8 L171.0,394.8 L171.1,394.9 L171.2,394.5 L171.4,394.8 L171.5,394.8 L171.7,394.4 L171.8,394.6 L172.0,394.3 L172.1,394.4 L172.2,394.5 L172.4,394.6 L172.5,394.3 L172.7,394.6 L172.8,394.3 L173.0,394.1 L173.1,394.3 L173.2,394.3 L173.4,394.2 L173.5,394.3 L173.7,394.5 L173.8,394.4 L174.0,394.3 L174.1,394.5 L174.2,394.1 L174.4,394.4 L174.5,394.6 L174.7,394.1 L174.8,394.1 L175.0,394.1 L175.1,394.3 L175.2,394.6 L175.4,394.0 L175.5,394.1 L175.7,394.1 L175.8,394.1 L176.0,393.9 L176.1,393.8 L176.2,394.0 L176.4,394.0 L176.5,394.0 L176.7,393.9 L176.8,393.5 L176.9,394.0 L177.1,393.7 L177.2,394.1 L177.4,393.7 L177.5,393.5 L177.7,393.9 L177.8,393.9 L177.9,393.9 L178.1,393.9 L178.2,393.8 L178.4,393.6 L178.5,393.8 L178.6,393.7 L178.8,393.6 L178.9,393.7 L179.1,393.6 L179.2,393.2 L179.4,393.5 L179.5,393.5 L179.6,393.5 L179.8,393.9 L179.9,393.6 L180.1,393.7 L180.2,393.2 L180.3,393.8 L180.5,393.4 L180.6,393.7 L180.8,393.4 L180.9,393.5 L181.1,393.5 L181.2,393.4 L181.3,393.5 L181.5,393.2 L181.6,393.2 L181.8,393.3 L181.9,393.2 L182.0,393.2 L182.2,392.9 L182.3,392.9 L182.5,393.0 L182.6,393.1 L182.8,392.8 L182.9,392.8 L183.0,392.6 L183.2,392.5 L183.3,392.6 L183.5,392.8 L183.6,393.1 L183.8,392.4 L183.9,392.6 L184.0,392.2 L184.2,392.6 L184.3,392.5 L184.5,392.4 L184.6,392.5 L184.7,392.3 L184.9,392.6 L185.0,392.3 L185.2,392.3 L185.3,392.3 L185.5,392.4 L185.6,392.6 L185.7,392.4 L185.9,392.2 L186.0,392.2 L186.2,392.3 L186.3,392.0 L186.4,392.4 L186.6,392.5 L186.7,392.5 L186.9,392.2 L187.0,392.5 L187.2,392.4 L187.3,392.4 L187.4,392.4 L187.6,392.1 L187.7,392.1 L187.9,392.1 L188.0,391.8 L188.2,391.9 L188.3,391.9 L188.4,392.2 L188.6,391.5 L188.7,392.0 L188.9,391.9 L189.0,391.9 L189.1,392.0 L189.3,391.7 L189.4,392.0 L189.6,391.9 L189.7,391.8 L189.9,392.2 L190.0,392.0 L190.1,392.1 L190.3,391.8 L190.4,391.9 L190.6,392.4 L190.7,392.0 L190.9,392.0 L191.0,391.9 L191.1,392.4 L191.3,391.9 L191.4,392.2 L191.6,392.1 L191.7,392.1 L191.8,391.9 L192.0,392.0 L192.1,392.2 L192.3,392.2 L192.4,391.9 L192.6,392.2 L192.7,392.1 L192.8,392.2 L193.0,392.2 L193.1,392.3 L193.3,392.4 L193.4,392.5 L193.6,392.4 L193.7,392.2 L193.8,392.1 L194.0,392.3 L194.1,392.7 L194.3,392.3 L194.4,392.5 L194.5,393.2 L194.7,392.7 L194.8,392.8 L195.0,393.0 L195.1,393.1 L195.3,392.9 L195.4,393.1 L195.5,392.7 L195.7,393.2 L195.8,392.9 L196.0,393.2 L196.1,392.5 L196.3,393.0 L196.4,393.2 L196.5,392.9 L196.7,392.5 L196.8,392.7 L197.0,393.1 L197.1,392.5 L197.3,392.8 L197.4,392.5 L197.5,392.3 L197.7,392.7 L197.8,392.6 L198.0,392.5 L198.1,392.3 L198.3,392.6 L198.4,391.9 L198.6,392.3 L198.7,392.6 L198.8,392.2 L199.0,392.3 L199.1,391.8 L199.3,392.0 L199.4,391.6 L199.6,391.8 L199.7,391.6 L199.8,391.6 L200.0,391.6 L200.1,391.6 L200.3,391.5 L200.4,391.7 L200.6,391.7 L200.7,391.5 L200.8,391.4 L201.0,391.3 L201.1,391.6 L201.3,391.2 L201.4,391.2 L201.6,391.2 L201.7,390.9 L201.8,390.9 L202.0,390.9 L202.1,390.8 L202.3,390.8 L202.4,390.6 L202.5,390.9 L202.7,390.7 L202.8,390.8 L203.0,390.7 L203.1,390.4 L203.3,390.5 L203.4,390.2 L203.5,390.2 L203.7,390.6 L203.8,390.5 L204.0,390.5 L204.1,390.6 L204.3,390.2 L204.4,390.3 L204.5,389.8 L204.7,390.0 L204.8,390.2 L205.0,389.8 L205.1,389.7 L205.2,389.9 L205.4,390.2 L205.5,390.0 L205.7,389.8 L205.8,390.0 L206.0,389.8 L206.1,389.9 L206.2,389.8 L206.4,390.4 L206.5,390.1 L206.7,389.7 L206.8,389.7 L207.0,389.9 L207.1,390.1 L207.2,389.9 L207.4,390.1 L207.5,390.2 L207.7,390.0 L207.8,389.9 L207.9,390.0 L208.1,389.6 L208.2,390.1 L208.4,389.8 L208.5,389.9 L208.7,390.3 L208.8,389.6 L208.9,389.7 L209.1,389.5 L209.2,389.2 L209.4,389.7 L209.5,389.5 L209.7,389.3 L209.8,389.6 L209.9,389.4 L210.1,389.6 L210.2,389.6 L210.4,389.2 L210.5,389.4 L210.6,389.4 L210.8,389.5 L210.9,389.8 L211.1,389.1 L211.2,389.6 L211.4,389.4 L211.5,389.4 L211.6,389.4 L211.8,389.3 L211.9,389.0 L212.1,389.2 L212.2,389.1 L212.4,389.5 L212.5,389.3 L212.6,389.1 L212.8,389.1 L212.9,389.4 L213.1,389.0 L213.2,389.3 L213.3,389.4 L213.5,389.2 L213.6,389.6 L213.8,389.2 L213.9,389.5 L214.1,389.4 L214.2,389.2 L214.3,389.3 L214.5,389.5 L214.6,389.1 L214.8,389.1 L214.9,389.4 L215.1,389.5 L215.2,389.5 L215.3,389.3 L215.5,389.3 L215.6,389.4 L215.8,389.3 L215.9,389.4 L216.0,388.9 L216.2,389.1 L216.3,388.9 L216.5,389.5 L216.6,388.8 L216.8,389.1 L216.9,389.3 L217.0,389.3 L217.2,389.2 L217.3,389.1 L217.5,389.2 L217.6,388.9 L217.8,388.8 L217.9,388.9 L218.0,389.2 L218.2,389.1 L218.3,388.9 L218.5,389.2 L218.6,389.2 L218.8,389.3 L218.9,389.2 L219.0,388.8 L219.2,389.3 L219.3,389.1 L219.5,389.3 L219.6,388.9 L219.8,389.0 L219.9,389.1 L220.1,389.3 L220.2,388.6 L220.3,388.8 L220.5,388.9 L220.6,388.8 L220.8,388.6 L220.9,388.7 L221.1,388.7 L221.2,389.1 L221.3,388.7 L221.5,388.9 L221.6,388.6 L221.8,388.8 L221.9,388.8 L222.1,388.8 L222.2,388.8 L222.3,388.6 L222.5,388.4 L222.6,388.9 L222.8,388.6 L222.9,388.6 L223.1,388.3 L223.2,388.7 L223.3,388.8 L223.5,388.8 L223.6,388.6 L223.8,388.6 L223.9,388.6 L224.1,388.3 L224.2,388.6 L224.3,388.4 L224.5,388.3 L224.6,388.2 L224.8,388.6 L224.9,388.5 L225.1,388.3 L225.2,388.5 L225.4,388.4 L225.5,388.2 L225.6,388.3 L225.8,388.2 L225.9,388.2 L226.1,388.0 L226.2,387.8 L226.4,387.9 L226.5,387.7 L226.6,387.6 L226.8,388.3 L226.9,388.3 L227.1,388.5 L227.2,388.6 L227.4,388.6 L227.5,388.7 L227.7,389.2 L227.8,388.8 L228.0,388.9 L228.1,389.4 L228.3,389.5 L228.4,389.5 L228.6,389.5 L228.7,389.9 L228.8,389.7 L229.0,389.9 L229.1,390.1 L229.3,390.3 L229.4,389.9 L229.5,389.7 L229.7,389.7 L229.8,389.9 L230.0,389.6 L230.1,389.7 L230.2,389.9 L230.4,389.2 L230.5,389.5 L230.7,389.1 L230.8,389.3 L230.9,389.8 L231.1,389.5 L231.2,389.6 L231.4,389.3 L231.5,389.5 L231.7,389.2 L231.8,389.0 L231.9,389.2 L232.1,389.7 L232.2,389.3 L232.4,389.5 L232.5,389.4 L232.7,389.5 L232.8,389.6 L232.9,389.7 L233.1,389.7 L233.2,389.9 L233.4,389.8 L233.5,389.7 L233.7,389.6 L233.8,389.9 L234.0,389.8 L234.1,389.6 L234.2,389.3 L234.4,389.6 L234.5,389.3 L234.7,390.0 L234.8,389.8 L235.0,390.2 L235.1,389.9 L235.2,389.4 L235.4,389.7 L235.5,389.9 L235.7,389.6 L235.8,389.7 L236.0,389.4 L236.1,388.9 L236.2,389.2 L236.4,389.2 L236.5,389.4 L236.7,388.5 L236.8,388.8 L237.0,388.6 L237.1,388.5 L237.2,388.4 L237.4,388.5 L237.5,388.4 L237.7,387.9 L237.8,387.8 L238.0,387.9 L238.1,387.5 L238.3,387.8 L238.4,388.0 L238.5,387.6 L238.7,387.5 L238.8,387.3 L239.0,387.5 L239.1,387.5 L239.3,387.1 L239.4,387.2 L239.5,387.0 L239.7,387.4 L239.8,387.1 L240.0,387.4 L240.1,387.0 L240.3,386.9 L240.4,386.7 L240.5,386.9 L240.7,386.7 L240.8,386.9 L241.0,386.6 L241.1,387.0 L241.3,386.7 L241.4,386.8 L241.6,386.7 L241.7,387.2 L241.8,386.2 L242.0,386.8 L242.1,386.9 L242.3,387.0 L242.4,387.1 L242.6,387.0 L242.7,386.2 L242.8,386.6 L243.0,386.3 L243.1,386.5 L243.3,386.6 L243.4,386.9 L243.6,386.7 L243.7,386.4 L243.8,386.3 L244.0,386.7 L244.1,386.6 L244.3,386.6 L244.4,386.9 L244.6,386.9 L244.7,386.4 L244.8,386.8 L245.0,386.2 L245.1,386.3 L245.3,385.9 L245.4,386.3 L245.6,386.6 L245.7,386.0 L245.8,386.1 L246.0,386.1 L246.1,386.3 L246.3,386.6 L246.4,385.9 L246.6,386.4 L246.7,386.5 L246.9,386.1 L247.0,386.2 L247.1,386.4 L247.3,385.7 L247.4,386.0 L247.6,386.3 L247.7,386.1 L247.9,386.3 L248.0,386.1 L248.1,386.4 L248.3,386.3 L248.4,386.0 L248.6,386.5 L248.7,386.2 L248.9,386.9 L249.0,386.7 L249.2,387.0 L249.3,386.7 L249.5,387.3 L249.6,386.7 L249.7,387.4 L249.9,387.0 L250.0,387.3 L250.2,387.5 L250.3,387.6 L250.5,387.5 L250.6,387.3 L250.8,388.0 L250.9,387.6 L251.1,387.2 L251.2,387.7 L251.3,388.1 L251.5,388.2 L251.6,387.7 L251.8,388.2 L251.9,388.2 L252.1,388.2 L252.2,388.6 L252.4,387.9 L252.5,388.7 L252.7,388.7 L252.8,388.2 L252.9,388.1 L253.1,388.0 L253.2,388.4 L253.4,388.3 L253.5,388.2 L253.7,388.1 L253.8,388.8 L254.0,389.0 L254.1,388.6 L254.3,389.1 L254.4,388.8 L254.5,388.7 L254.7,388.8 L254.8,388.3 L255.0,388.2 L255.1,388.0 L255.3,387.9 L255.4,387.9 L255.6,387.7 L255.7,387.6 L255.8,388.1 L256.0,387.2 L256.1,387.2 L256.3,387.2 L256.4,386.9 L256.6,386.8 L256.7,386.3 L256.9,386.6 L257.0,386.6 L257.1,386.2 L257.3,386.4 L257.4,386.3 L257.6,386.0 L257.7,385.8 L257.9,385.3 L258.0,385.8 L258.2,386.0 L258.3,385.8 L258.4,385.8 L258.6,384.6 L258.7,385.1 L258.9,385.1 L259.0,385.1 L259.2,384.9 L259.3,384.6 L259.5,384.8 L259.6,384.4 L259.7,384.5 L259.9,384.7 L260.0,384.9 L260.2,384.5 L260.3,384.4 L260.5,383.8 L260.6,383.9 L260.8,384.3 L260.9,384.0 L261.0,384.0 L261.2,384.2 L261.3,384.1 L261.5,383.9 L261.6,383.6 L261.8,384.3 L261.9,384.1 L262.0,383.4 L262.2,384.1 L262.3,384.2 L262.5,384.1 L262.6,383.9 L262.8,384.0 L262.9,383.8 L263.0,383.8 L263.2,384.3 L263.3,384.1 L263.5,383.7 L263.6,384.1 L263.8,384.2 L263.9,384.1 L264.0,383.8 L264.2,383.6 L264.3,383.5 L264.5,383.5 L264.6,383.3 L264.8,383.1 L264.9,383.6 L265.0,383.4 L265.2,383.1 L265.3,383.6 L265.5,382.9 L265.6,383.2 L265.8,383.5 L265.9,383.0 L266.0,383.6 L266.2,383.1 L266.3,383.5 L266.5,383.2 L266.6,382.7 L266.7,382.5 L266.9,382.3 L267.0,382.5 L267.2,382.5 L267.3,382.5 L267.5,381.8 L267.6,381.9 L267.7,382.2 L267.9,382.2 L268.0,382.4 L268.2,381.9 L268.3,381.7 L268.5,382.2 L268.6,381.5 L268.7,382.0 L268.9,382.2 L269.0,382.1 L269.2,381.4 L269.3,382.0 L269.5,381.7 L269.6,381.6 L269.7,381.6 L269.9,381.6 L270.0,381.0 L270.2,381.2 L270.3,381.3 L270.5,381.3 L270.6,381.2 L270.7,381.3 L270.9,381.1 L271.0,381.3 L271.2,381.4 L271.3,381.3 L271.5,380.9 L271.6,381.3 L271.7,381.3 L271.9,380.8 L272.0,381.4 L272.2,381.7 L272.3,381.2 L272.5,381.8 L272.6,382.0 L272.7,382.0 L272.9,382.4 L273.0,381.8 L273.2,382.1 L273.3,382.3 L273.5,382.5 L273.6,382.4 L273.8,382.5 L273.9,382.3 L274.0,382.5 L274.2,382.2 L274.3,382.4 L274.5,382.2 L274.6,382.4 L274.8,382.1 L274.9,382.4 L275.0,382.7 L275.2,382.6 L275.3,382.7 L275.5,383.1 L275.6,382.7 L275.8,382.6 L275.9,382.9 L276.0,382.8 L276.2,382.4 L276.3,382.8 L276.5,383.0 L276.6,382.9 L276.8,382.9 L276.9,382.9 L277.0,383.3 L277.2,383.2 L277.3,383.0 L277.5,383.1 L277.6,383.5 L277.8,382.9 L277.9,383.6 L278.1,383.2 L278.2,383.2 L278.3,383.5 L278.5,383.8 L278.6,383.2 L278.8,383.7 L278.9,383.9 L279.1,383.2 L279.2,383.4 L279.3,383.3 L279.5,383.8 L279.6,384.0 L279.8,384.1 L279.9,383.6 L280.1,384.4 L280.2,383.9 L280.4,383.9 L280.5,383.9 L280.7,384.6 L280.8,384.3 L280.9,384.0 L281.1,384.4 L281.2,384.5 L281.4,384.4 L281.5,384.5 L281.7,384.7 L281.8,384.5 L282.0,385.0 L282.1,384.9 L282.3,384.7 L282.4,385.0 L282.5,385.0 L282.7,385.1 L282.8,384.8 L283.0,384.7 L283.1,385.1 L283.3,384.3 L283.4,385.2 L283.5,385.0 L283.7,384.6 L283.8,384.7 L284.0,384.5 L284.1,384.8 L284.3,384.3 L284.4,384.7 L284.5,384.3 L284.7,384.1 L284.8,384.6 L285.0,384.5 L285.1,384.4 L285.3,384.5 L285.4,384.0 L285.6,383.8 L285.7,384.0 L285.8,384.1 L286.0,384.0 L286.1,383.7 L286.3,384.0 L286.4,383.6 L286.6,384.0 L286.7,384.0 L286.8,384.1 L287.0,384.1 L287.1,384.2 L287.3,383.6 L287.4,384.2 L287.6,383.5 L287.7,384.0 L287.8,383.9 L288.0,384.0 L288.1,383.5 L288.3,384.0 L288.4,383.3 L288.6,384.0 L288.7,383.8 L288.8,383.8 L289.0,383.8 L289.1,383.2 L289.3,384.1 L289.4,383.8 L289.6,384.0 L289.7,383.3 L289.8,384.2 L290.0,383.8 L290.1,383.6 L290.3,383.9 L290.4,383.8 L290.6,384.2 L290.7,384.1 L290.9,383.4 L291.0,383.7 L291.1,383.5 L291.3,383.6 L291.4,383.3 L291.6,383.4 L291.7,383.0 L291.9,383.2 L292.0,383.5 L292.1,383.8 L292.3,382.7 L292.4,382.8 L292.6,383.1 L292.7,383.4 L292.9,383.4 L293.0,383.8 L293.1,383.6 L293.3,383.2 L293.4,383.8 L293.6,383.0 L293.7,383.2 L293.9,383.4 L294.0,383.4 L294.1,383.1 L294.3,383.4 L294.4,383.0 L294.6,382.8 L294.7,383.1 L294.9,383.3 L295.0,382.9 L295.1,383.2 L295.3,383.2 L295.4,382.2 L295.6,383.2 L295.7,383.0 L295.9,382.8 L296.0,382.8 L296.1,383.4 L296.3,382.9 L296.4,383.6 L296.6,383.1 L296.7,383.1 L296.9,383.3 L297.0,383.1 L297.1,382.9 L297.3,383.0 L297.4,383.2 L297.6,382.8 L297.7,383.5 L297.9,383.2 L298.0,383.3 L298.2,382.9 L298.3,383.3 L298.4,383.6 L298.6,383.4 L298.7,383.5 L298.9,383.6 L299.0,383.6 L299.2,383.8 L299.3,384.0 L299.4,383.9 L299.6,384.4 L299.7,384.1 L299.9,384.2 L300.0,383.8 L300.2,383.6 L300.3,384.0 L300.4,383.8 L300.6,383.9 L300.7,383.5 L300.9,383.5 L301.0,384.1 L301.2,384.2 L301.3,383.9 L301.4,383.9 L301.6,383.5 L301.7,383.9 L301.9,383.5 L302.0,383.8 L302.2,384.1 L302.3,383.5 L302.5,383.5 L302.6,383.4 L302.7,383.5 L302.9,383.4 L303.0,383.8 L303.2,383.5 L303.3,383.8 L303.5,383.8 L303.6,383.6 L303.7,383.7 L303.9,383.7 L304.0,383.7 L304.2,384.2 L304.3,383.4 L304.5,383.8 L304.6,384.1 L304.7,383.4 L304.9,384.1 L305.0,383.5 L305.2,383.9 L305.3,384.1 L305.5,384.1 L305.6,383.8 L305.8,384.0 L305.9,383.5 L306.0,384.0 L306.2,383.5 L306.3,383.7 L306.5,383.7 L306.6,383.9 L306.8,384.0 L306.9,384.3 L307.0,384.3 L307.2,384.4 L307.3,384.2 L307.5,384.0 L307.6,384.5 L307.8,384.1 L307.9,384.0 L308.0,384.0 L308.2,383.8 L308.3,384.6 L308.5,383.9 L308.6,384.4 L308.8,384.0 L308.9,384.3 L309.1,384.0 L309.2,384.6 L309.3,384.5 L309.5,384.2 L309.6,384.8 L309.8,384.8 L309.9,384.5 L310.1,384.5 L310.2,384.8 L310.4,385.2 L310.5,385.0 L310.6,385.2 L310.8,385.6 L310.9,384.9 L311.1,385.9 L311.2,385.6 L311.4,385.2 L311.5,385.6 L311.6,385.0 L311.8,385.8 L311.9,386.3 L312.1,386.2 L312.2,386.1 L312.4,385.9 L312.5,386.7 L312.7,386.3 L312.8,386.3 L312.9,386.2 L313.1,386.5 L313.2,386.3 L313.4,386.6 L313.5,386.5 L313.7,386.7 L313.8,387.0 L314.0,387.4 L314.1,387.1 L314.2,387.1 L314.4,387.4 L314.5,387.7 L314.7,387.2 L314.8,387.7 L315.0,387.3 L315.1,387.6 L315.3,388.1 L315.4,387.7 L315.5,387.3 L315.7,388.0 L315.8,388.1 L316.0,387.6 L316.1,387.7 L316.3,387.4 L316.4,387.3 L316.5,387.1 L316.7,387.6 L316.8,387.7 L317.0,387.7 L317.1,387.1 L317.3,387.4 L317.4,387.6 L317.5,387.5 L317.7,387.5 L317.8,386.8 L318.0,387.5 L318.1,387.2 L318.3,387.6 L318.4,387.6 L318.6,387.6 L318.7,387.1 L318.8,387.3 L319.0,387.0 L319.1,386.5 L319.3,386.3 L319.4,386.6 L319.6,386.8 L319.7,386.6 L319.8,386.3 L320.0,386.5 L320.1,386.9 L320.3,386.6 L320.4,386.8 L320.6,386.9 L320.7,387.3 L320.9,387.0 L321.0,387.5 L321.1,387.0 L321.3,387.1 L321.4,387.3 L321.6,387.1 L321.7,386.6 L321.9,387.2 L322.0,387.2 L322.2,386.9 L322.3,387.2 L322.4,387.7 L322.6,387.0 L322.7,387.4 L322.9,387.3 L323.0,388.2 L323.2,388.1 L323.3,387.4 L323.4,387.5 L323.6,387.8 L323.7,387.3 L323.9,387.7 L324.0,387.6 L324.2,387.5 L324.3,387.9 L324.5,388.5 L324.6,388.0 L324.7,388.0 L324.9,387.7 L325.0,387.9 L325.2,388.2 L325.3,388.2 L325.5,388.3 L325.6,388.2 L325.8,388.3 L325.9,388.2 L326.0,388.6 L326.2,388.4 L326.3,388.1 L326.5,388.7 L326.6,388.7 L326.8,388.6 L326.9,388.6 L327.1,389.1 L327.2,388.8 L327.3,389.0 L327.5,388.8 L327.6,388.6 L327.8,389.1 L327.9,389.3 L328.1,389.2 L328.2,389.4 L328.3,389.1 L328.5,389.3 L328.6,389.1 L328.8,389.1 L328.9,388.9 L329.1,389.1 L329.2,389.4 L329.4,389.4 L329.5,389.5 L329.6,389.5 L329.8,389.6 L329.9,389.6 L330.1,389.6 L330.2,389.6 L330.4,389.8 L330.5,389.7 L330.6,389.6 L330.8,389.9 L330.9,389.7 L331.1,390.0 L331.2,389.7 L331.4,390.0 L331.5,390.4 L331.6,390.5 L331.8,390.9 L331.9,390.6 L332.1,391.2 L332.2,390.9 L332.3,390.8 L332.5,390.5 L332.6,390.6 L332.8,390.5 L332.9,390.9 L333.0,391.0 L333.2,391.1 L333.3,391.0 L333.5,391.0 L333.6,390.7 L333.8,391.2 L333.9,391.5 L334.0,391.3 L334.2,391.7 L334.3,391.5 L334.5,391.9 L334.6,392.0 L334.7,391.2 L334.9,391.7 L335.0,392.1 L335.2,392.2 L335.3,392.0 L335.4,391.6 L335.6,392.0 L335.7,392.0 L335.9,391.5 L336.0,391.8 L336.1,392.0 L336.3,391.7 L336.4,391.0 L336.6,391.5 L336.7,391.5 L336.9,391.4 L337.0,391.3 L337.1,391.5 L337.3,391.5 L337.4,391.8 L337.6,391.3 L337.7,391.3 L337.8,391.1 L338.0,390.8 L338.1,391.0 L338.3,390.7 L338.4,390.1 L338.5,390.9 L338.7,390.4 L338.8,390.3 L339.0,390.1 L339.1,389.8 L339.3,389.8 L339.4,389.9 L339.5,389.6 L339.7,389.3 L339.8,389.6 L340.0,389.5 L340.1,389.3 L340.2,388.9 L340.4,389.5 L340.5,389.8 L340.7,389.4 L340.8,389.3 L340.9,389.5 L341.1,389.4 L341.2,388.6 L341.4,389.2 L341.5,389.3 L341.7,389.4 L341.8,389.5 L341.9,389.3 L342.1,389.4 L342.2,389.2 L342.4,389.1 L342.5,389.2 L342.6,389.3 L342.8,389.7 L342.9,389.8 L343.1,389.5 L343.2,389.6 L343.4,389.3 L343.5,389.0 L343.6,389.2 L343.8,389.2 L343.9,389.5 L344.1,389.4 L344.2,389.4 L344.3,389.3 L344.5,389.5 L344.6,389.3 L344.8,389.2 L344.9,389.3 L345.0,388.9 L345.2,388.7 L345.3,389.1 L345.5,389.3 L345.6,388.8 L345.8,388.8 L345.9,389.2 L346.0,388.7 L346.2,389.1 L346.3,388.8 L346.5,388.8 L346.6,388.8 L346.7,389.0 L346.9,388.5 L347.0,388.7 L347.2,388.7 L347.3,388.4 L347.5,388.5 L347.6,388.2 L347.7,388.8 L347.9,388.5 L348.0,388.4 L348.2,388.5 L348.3,388.1 L348.4,388.1 L348.6,387.9 L348.7,388.6 L348.9,388.6 L349.0,388.4 L349.2,387.9 L349.3,387.9 L349.4,388.2 L349.6,388.7 L349.7,388.5 L349.9,388.3 L350.0,387.8 L350.2,387.9 L350.3,387.7 L350.4,387.9 L350.6,388.4 L350.7,388.2 L350.9,387.6 L351.0,387.8 L351.2,387.8 L351.3,387.5 L351.4,387.9 L351.6,387.4 L351.7,387.6 L351.9,387.6 L352.0,387.4 L352.1,386.9 L352.3,387.3 L352.4,387.5 L352.6,387.1 L352.7,386.8 L352.9,387.1 L353.0,387.2 L353.1,387.2 L353.3,387.2 L353.4,387.1 L353.6,387.6 L353.7,386.8 L353.9,387.3 L354.0,387.4 L354.1,387.2 L354.3,387.3 L354.4,387.7 L354.6,387.3 L354.7,387.5 L354.9,387.8 L355.0,387.0 L355.1,387.2 L355.3,387.4 L355.4,387.8 L355.6,387.7 L355.7,387.0 L355.9,387.7 L356.0,387.0 L356.2,387.5 L356.3,387.9 L356.4,387.6 L356.6,387.8 L356.7,387.6 L356.9,387.3 L357.0,387.7 L357.2,388.0 L357.3,387.7 L357.4,387.7 L357.6,387.8 L357.7,388.0 L357.9,387.9 L358.0,388.0 L358.2,388.0 L358.3,388.1 L358.4,388.5 L358.6,388.3 L358.7,388.4 L358.9,388.7 L359.0,388.4 L359.2,388.9 L359.3,388.9 L359.5,388.6 L359.6,389.3 L359.7,388.8 L359.9,389.5 L360.0,389.3 L360.2,389.5 L360.3,389.7 L360.5,389.5 L360.6,389.4 L360.7,389.2 L360.9,389.6 L361.0,389.6 L361.2,389.7 L361.3,389.7 L361.5,389.9 L361.6,389.9 L361.7,389.9 L361.9,389.6 L362.0,389.3 L362.2,389.6 L362.3,389.7 L362.5,389.4 L362.6,389.7 L362.8,389.5 L362.9,389.5 L363.1,389.3 L363.2,389.0 L363.3,388.9 L363.5,389.0 L363.6,388.7 L363.8,388.5 L363.9,388.7 L364.1,388.5 L364.2,388.3 L364.4,388.4 L364.5,388.4 L364.7,388.3 L364.8,388.3 L364.9,388.1 L365.1,388.3 L365.2,388.0 L365.4,388.4 L365.5,387.8 L365.7,388.0 L365.8,388.0 L365.9,387.9 L366.1,387.1 L366.2,387.9 L366.4,387.9 L366.5,387.3 L366.6,387.5 L366.8,387.3 L366.9,387.6 L367.1,387.4 L367.2,387.5 L367.4,387.1 L367.5,387.0 L367.6,387.1 L367.8,387.3 L367.9,386.9 L368.1,387.3 L368.2,387.2 L368.4,386.9 L368.5,386.9 L368.6,386.8 L368.8,386.7 L368.9,386.8 L369.1,386.9 L369.2,386.5 L369.3,386.9 L369.5,387.2 L369.6,386.9 L369.8,386.2 L369.9,387.1 L370.1,386.7 L370.2,386.6 L370.3,387.1 L370.5,387.2 L370.6,386.9 L370.8,386.9 L370.9,386.9 L371.1,387.0 L371.2,387.1 L371.3,387.3 L371.5,387.2 L371.6,387.2 L371.8,386.9 L371.9,387.3 L372.1,387.6 L372.2,387.3 L372.4,387.1 L372.5,387.6 L372.6,387.2 L372.8,387.4 L372.9,387.4 L373.1,387.6 L373.2,387.8 L373.4,387.6 L373.5,387.8 L373.6,387.2 L373.8,386.8 L373.9,387.3 L374.1,387.3 L374.2,387.5 L374.4,387.6 L374.5,387.7 L374.6,387.8 L374.8,387.4 L374.9,387.9 L375.1,387.3 L375.2,387.5 L375.4,387.6 L375.5,387.5 L375.6,387.2 L375.8,387.2 L375.9,387.4 L376.1,387.6 L376.2,387.3 L376.3,387.2 L376.5,387.2 L376.6,387.2 L376.8,387.3 L376.9,387.7 L377.1,387.5 L377.2,387.3 L377.3,386.9 L377.5,387.1 L377.6,386.4 L377.8,387.0 L377.9,386.7 L378.1,386.3 L378.2,386.5 L378.3,385.9 L378.5,386.0 L378.6,386.1 L378.8,385.9 L378.9,386.1 L379.1,386.0 L379.2,385.9 L379.3,385.3 L379.5,385.6 L379.6,385.9 L379.8,385.4 L379.9,385.1 L380.0,385.0 L380.2,385.1 L380.3,385.5 L380.5,385.1 L380.6,385.5 L380.8,385.1 L380.9,385.0 L381.0,384.9 L381.2,385.0 L381.3,385.0 L381.5,385.1 L381.6,385.5 L381.8,385.6 L381.9,385.5 L382.1,385.2 L382.2,385.4 L382.3,385.8 L382.5,385.2 L382.6,385.4 L382.8,386.0 L382.9,385.1 L383.1,385.2 L383.2,385.7 L383.4,385.6 L383.5,385.2 L383.6,385.6 L383.8,385.2 L383.9,385.1 L384.1,385.0 L384.2,385.2 L384.4,385.0 L384.5,384.5 L384.6,384.3 L384.8,384.6 L384.9,384.8 L385.1,384.8 L385.2,384.0 L385.4,384.0 L385.5,384.4 L385.7,384.4 L385.8,383.9 L385.9,383.9 L386.1,383.8 L386.2,383.5 L386.4,383.6 L386.5,383.5 L386.7,383.9 L386.8,383.1 L387.0,383.8 L387.1,383.7 L387.2,383.6 L387.4,383.4 L387.5,383.6 L387.7,383.8 L387.8,383.3 L388.0,382.9 L388.1,383.3 L388.3,383.3 L388.4,383.4 L388.5,383.4 L388.7,383.7 L388.8,383.3 L389.0,383.4 L389.1,382.9 L389.3,382.8 L389.4,383.3 L389.5,383.0 L389.7,383.4 L389.8,383.4 L390.0,383.0 L390.1,383.4 L390.3,383.0 L390.4,382.5 L390.6,383.0 L390.7,382.6 L390.8,383.1 L391.0,382.9 L391.1,382.6 L391.3,382.5 L391.4,382.4 L391.6,382.4 L391.7,382.3 L391.8,382.3 L392.0,382.5 L392.1,382.2 L392.3,382.1 L392.4,382.6 L392.6,382.0 L392.7,382.9 L392.8,382.8 L393.0,382.6 L393.1,381.9 L393.3,382.1 L393.4,382.0 L393.6,382.2 L393.7,382.5 L393.8,382.8 L394.0,382.2 L394.1,382.1 L394.3,382.1 L394.4,381.6 L394.6,381.3 L394.7,381.6 L394.9,381.6 L395.0,381.5 L395.1,381.7 L395.3,381.5 L395.4,381.7 L395.6,381.0 L395.7,381.0 L395.9,381.0 L396.0,381.3 L396.1,381.1 L396.3,381.1 L396.4,380.8 L396.6,380.3 L396.7,381.5 L396.9,380.4 L397.0,380.4 L397.1,380.7 L397.3,380.6 L397.4,380.5 L397.6,380.6 L397.7,380.5 L397.9,379.7 L398.0,380.0 L398.1,379.5 L398.3,380.2 L398.4,379.9 L398.6,380.1 L398.7,379.0 L398.8,379.5 L399.0,379.3 L399.1,379.5 L399.3,379.1 L399.4,379.1 L399.6,379.1 L399.7,379.1 L399.8,379.2 L400.0,378.8 L400.1,379.6 L400.3,379.1 L400.4,379.1 L400.6,379.6 L400.7,379.5 L400.8,379.9 L401.0,379.2 L401.1,379.6 L401.3,379.3 L401.4,379.4 L401.6,379.7 L401.7,378.7 L401.8,379.5 L402.0,379.2 L402.1,379.3 L402.3,379.6 L402.4,379.5 L402.6,380.3 L402.7,379.6 L402.9,379.6 L403.0,379.6 L403.1,379.8 L403.3,379.9 L403.4,379.7 L403.6,379.9 L403.7,380.1 L403.9,379.6 L404.0,380.1 L404.1,379.7 L404.3,379.8 L404.4,380.5 L404.6,380.6 L404.7,380.5 L404.9,380.5 L405.0,380.7 L405.1,380.7 L405.3,380.4 L405.4,380.9 L405.6,381.1 L405.7,381.3 L405.8,380.4 L406.0,381.1 L406.1,380.9 L406.3,380.6 L406.4,380.9 L406.5,380.9 L406.7,381.0 L406.8,380.7 L407.0,380.4 L407.1,380.8 L407.3,380.7 L407.4,380.4 L407.5,380.4 L407.7,381.3 L407.8,380.3 L408.0,380.2 L408.1,380.4 L408.3,380.2 L408.4,380.1 L408.6,380.7 L408.7,380.3 L408.8,380.9 L409.0,380.5 L409.1,380.5 L409.3,380.0 L409.4,379.7 L409.6,380.2 L409.7,380.3 L409.8,380.6 L410.0,380.5 L410.1,380.3 L410.3,380.8 L410.4,381.2 L410.6,381.0 L410.7,380.5 L410.8,380.7 L411.0,380.8 L411.1,381.2 L411.3,380.7 L411.4,380.4 L411.6,380.6 L411.7,381.0 L411.8,381.2 L412.0,381.3 L412.1,381.3 L412.3,380.9 L412.4,381.0 L412.6,380.4 L412.7,380.9 L412.9,380.8 L413.0,381.0 L413.1,380.5 L413.3,380.1 L413.4,379.8 L413.6,380.9 L413.7,380.8 L413.9,380.2 L414.0,380.4 L414.1,380.6 L414.3,380.5 L414.4,380.6 L414.6,380.5 L414.7,380.8 L414.9,380.8 L415.0,380.1 L415.2,381.0 L415.3,380.1 L415.4,380.2 L415.6,380.3 L415.7,380.8 L415.9,380.9 L416.0,380.2 L416.2,380.6 L416.3,380.5 L416.5,380.6 L416.6,380.6 L416.7,380.2 L416.9,380.5 L417.0,380.4 L417.2,380.7 L417.3,380.1 L417.5,380.0 L417.6,380.1 L417.8,380.3 L417.9,380.2 L418.0,381.0 L418.2,380.0 L418.3,379.8 L418.5,380.1 L418.6,379.7 L418.8,380.2 L418.9,379.6 L419.0,379.1 L419.2,379.6 L419.3,379.1 L419.5,379.5 L419.6,379.1 L419.8,379.4 L419.9,379.3 L420.1,379.4 L420.2,379.2 L420.3,378.4 L420.5,379.1 L420.6,379.0 L420.8,378.3 L420.9,378.9 L421.1,378.9 L421.2,378.7 L421.4,378.8 L421.5,378.8 L421.6,379.0 L421.8,378.6 L421.9,378.8 L422.1,378.8 L422.2,378.7 L422.4,378.4 L422.5,378.8 L422.6,379.4 L422.8,378.9 L422.9,378.7 L423.1,378.7 L423.2,378.6 L423.3,379.4 L423.5,379.8 L423.6,379.3 L423.8,379.0 L423.9,379.5 L424.1,379.4 L424.2,379.1 L424.3,379.2 L424.5,379.8 L424.6,380.1 L424.8,380.5 L424.9,380.1 L425.1,380.0 L425.2,380.6 L425.3,379.8 L425.5,379.8 L425.6,379.7 L425.8,379.7 L425.9,379.9 L426.0,379.8 L426.2,379.4 L426.3,379.6 L426.5,379.4 L426.6,380.2 L426.8,380.0 L426.9,379.9 L427.0,379.7 L427.2,379.5 L427.3,379.8 L427.5,379.6 L427.6,380.3 L427.8,379.9 L427.9,380.2 L428.1,380.2 L428.2,379.4 L428.3,379.3 L428.5,380.1 L428.6,379.7 L428.8,379.7 L428.9,379.3 L429.1,379.0 L429.2,379.6 L429.4,379.5 L429.5,379.4 L429.7,379.2 L429.8,379.2 L429.9,379.3 L430.1,378.9 L430.2,378.8 L430.4,378.9 L430.5,379.0 L430.7,378.9 L430.8,378.3 L431.0,378.5 L431.1,378.8 L431.2,379.0 L431.4,379.1 L431.5,379.1 L431.7,379.0 L431.8,379.1 L432.0,379.7 L432.1,379.5 L432.3,379.3 L432.4,379.6 L432.6,379.8 L432.7,379.8 L432.9,379.8 L433.0,380.4 L433.2,379.8 L433.3,379.9 L433.4,380.0 L433.6,379.9 L433.7,379.6 L433.9,379.7 L434.0,379.7 L434.2,379.4 L434.3,379.4 L434.5,379.3 L434.6,378.9 L434.8,378.7 L434.9,379.1 L435.0,378.2 L435.2,378.3 L435.3,378.1 L435.5,377.6 L435.6,377.6 L435.8,377.5 L435.9,376.8 L436.1,376.9 L436.2,376.9 L436.4,377.1 L436.5,376.6 L436.6,376.4 L436.8,376.7 L436.9,376.5 L437.1,376.2 L437.2,376.4 L437.4,376.4 L437.5,375.9 L437.6,375.9 L437.8,376.8 L437.9,375.5 L438.1,376.3 L438.2,376.1 L438.4,375.6 L438.5,375.6 L438.6,376.3 L438.8,375.4 L438.9,376.0 L439.1,376.1 L439.2,375.3 L439.4,375.8 L439.5,376.4 L439.7,375.3 L439.8,376.2 L439.9,375.7 L440.1,375.7 L440.2,375.6 L440.4,375.9 L440.5,375.7 L440.7,376.2 L440.8,376.1 L440.9,375.7 L441.1,376.1 L441.2,375.5 L441.4,375.7 L441.5,375.0 L441.7,375.6 L441.8,375.3 L442.0,374.9 L442.1,375.7 L442.3,374.7 L442.4,374.5 L442.5,374.9 L442.7,374.6 L442.8,374.6 L443.0,374.8 L443.1,374.4 L443.3,373.9 L443.4,374.6 L443.6,374.1 L443.7,374.4 L443.9,373.9 L444.0,374.0 L444.1,374.3 L444.3,374.9 L444.4,373.8 L444.6,374.7 L444.7,375.3 L444.9,375.4 L445.0,375.0 L445.2,374.8 L445.3,375.2 L445.5,375.3 L445.6,375.0 L445.8,375.1 L445.9,375.9 L446.1,376.6 L446.2,376.1 L446.3,376.1 L446.5,375.4 L446.6,376.2 L446.8,376.2 L446.9,376.4 L447.1,375.5 L447.2,374.9 L447.4,375.6 L447.5,375.8 L447.6,375.9 L447.8,375.4 L447.9,374.9 L448.1,375.3 L448.2,375.5 L448.4,374.9 L448.5,374.6 L448.7,375.3 L448.8,375.2 L448.9,374.9 L449.1,375.6 L449.2,375.8 L449.4,374.9 L449.5,374.5 L449.7,375.8 L449.8,375.0 L449.9,374.9 L450.1,374.9 L450.2,374.9 L450.4,374.7 L450.5,374.8 L450.7,374.7 L450.8,374.4 L451.0,374.9 L451.1,374.7 L451.2,374.4 L451.4,374.6 L451.5,374.5 L451.7,374.8 L451.8,374.6 L452.0,374.2 L452.1,375.1 L452.3,374.0 L452.4,374.7 L452.5,374.3 L452.7,374.9 L452.8,374.4 L453.0,374.4 L453.1,374.7 L453.3,374.3 L453.4,374.1 L453.6,374.3 L453.7,374.5 L453.8,374.3 L454.0,374.4 L454.1,374.3 L454.3,373.4 L454.4,374.0 L454.6,373.9 L454.7,374.3 L454.8,373.9 L455.0,374.6 L455.1,373.9 L455.3,373.6 L455.4,373.9 L455.6,374.4 L455.7,373.6 L455.9,373.4 L456.0,374.3 L456.1,374.1 L456.3,373.4 L456.4,373.5 L456.6,373.6 L456.7,373.2 L456.9,373.3 L457.0,373.2 L457.1,373.1 L457.3,373.4 L457.4,372.9 L457.6,374.0 L457.7,373.3 L457.9,373.2 L458.0,372.9 L458.1,372.9 L458.3,372.3 L458.4,372.3 L458.6,371.8 L458.7,372.1 L458.8,372.4 L459.0,371.7 L459.1,372.1 L459.3,372.1 L459.4,372.0 L459.5,371.9 L459.7,371.8 L459.8,372.1 L460.0,372.2 L460.1,372.0 L460.3,372.0 L460.4,372.0 L460.5,372.0 L460.7,372.4 L460.8,372.5 L461.0,371.9 L461.1,371.9 L461.2,372.1 L461.4,372.5 L461.5,370.9 L461.7,372.0 L461.8,371.8 L461.9,371.8 L462.1,372.2 L462.2,372.2 L462.4,371.9 L462.5,372.0 L462.7,372.4 L462.8,372.8 L462.9,373.7 L463.1,372.9 L463.2,372.9 L463.4,373.0 L463.5,373.7 L463.6,372.6 L463.8,373.6 L463.9,373.6 L464.1,373.8 L464.2,373.3 L464.4,374.0 L464.5,373.6 L464.6,373.3 L464.8,373.9 L464.9,374.0 L465.1,374.7 L465.2,373.8 L465.4,374.3 L465.5,374.5 L465.6,374.6 L465.8,374.7 L465.9,374.2 L466.1,374.5 L466.2,374.6 L466.4,373.9 L466.5,374.3 L466.6,374.2 L466.8,375.0 L466.9,374.5 L467.1,374.2 L467.2,374.9 L467.4,374.2 L467.5,374.2 L467.6,374.7 L467.8,374.5 L467.9,374.6 L468.1,374.3 L468.2,374.2 L468.4,374.1 L468.5,373.9 L468.7,374.0 L468.8,374.3 L468.9,374.3 L469.1,374.1 L469.2,373.5 L469.4,373.8 L469.5,374.2 L469.7,374.2 L469.8,374.0 L469.9,373.7 L470.1,373.9 L470.2,374.0 L470.4,373.7 L470.5,373.9 L470.7,373.7 L470.8,373.0 L470.9,373.3 L471.1,373.3 L471.2,373.0 L471.4,373.1 L471.5,374.1 L471.6,373.7 L471.8,373.8 L471.9,373.0 L472.1,373.7 L472.2,374.5 L472.4,374.0 L472.5,373.5 L472.6,373.5 L472.8,373.3 L472.9,373.7 L473.1,373.4 L473.2,373.1 L473.4,373.3 L473.5,373.3 L473.6,372.9 L473.8,373.3 L473.9,373.2 L474.1,373.1 L474.2,373.2 L474.3,373.0 L474.5,372.3 L474.6,373.4 L474.8,372.9 L474.9,372.8 L475.1,372.7 L475.2,372.9 L475.3,372.9 L475.5,372.6 L475.6,373.6 L475.8,372.2 L475.9,372.3 L476.1,372.6 L476.2,372.5 L476.4,372.4 L476.5,372.5 L476.6,373.1 L476.8,372.6 L476.9,372.9 L477.1,371.9 L477.2,372.6 L477.4,372.5 L477.5,372.1 L477.7,372.5 L477.8,372.6 L477.9,372.5 L478.1,372.6 L478.2,371.9 L478.4,372.7 L478.5,372.3 L478.7,372.5 L478.8,372.6 L478.9,372.9 L479.1,373.1 L479.2,372.8 L479.4,373.1 L479.5,372.4 L479.7,372.3 L479.8,372.1 L480.0,372.7 L480.1,373.2 L480.2,372.7 L480.4,373.4 L480.5,373.1 L480.7,372.3 L480.8,372.4 L481.0,372.9 L481.1,373.0 L481.3,373.1 L481.4,372.8 L481.5,372.7 L481.7,372.6 L481.8,373.1 L482.0,373.2 L482.1,372.9 L482.3,373.8 L482.4,372.8 L482.6,373.2 L482.7,372.9 L482.8,372.4 L483.0,373.9 L483.1,373.5 L483.3,373.5 L483.4,373.6 L483.6,373.3 L483.7,373.9 L483.9,373.6 L484.0,374.4 L484.2,373.5 L484.3,374.4 L484.5,374.2 L484.6,374.1 L484.8,375.4 L484.9,374.5 L485.0,374.8 L485.2,374.4 L485.3,374.4 L485.5,374.3 L485.6,374.9 L485.8,373.7 L485.9,373.1 L486.0,374.0 L486.2,374.5 L486.3,374.1 L486.5,374.0 L486.6,374.0 L486.7,373.9 L486.9,373.2 L487.0,373.4 L487.2,374.0 L487.3,373.5 L487.5,373.6 L487.6,373.4 L487.7,373.6 L487.9,373.3 L488.0,373.6 L488.2,373.6 L488.3,374.0 L488.5,372.8 L488.6,373.5 L488.7,372.9 L488.9,373.1 L489.0,373.2 L489.2,372.7 L489.3,373.0 L489.5,372.4 L489.6,372.7 L489.7,372.7 L489.9,372.7 L490.0,372.3 L490.2,372.4 L490.3,371.8 L490.4,371.9 L490.6,372.5 L490.7,372.6 L490.9,371.5 L491.0,371.8 L491.2,372.4 L491.3,371.8 L491.4,371.5 L491.6,372.8 L491.7,371.3 L491.9,372.4 L492.0,371.2 L492.2,371.6 L492.3,371.8 L492.4,371.2 L492.6,371.6 L492.7,372.1 L492.9,371.2 L493.0,370.9 L493.1,370.7 L493.3,371.7 L493.4,371.0 L493.6,371.0 L493.7,371.5 L493.9,371.2 L494.0,371.7 L494.1,371.2 L494.3,371.0 L494.4,371.3 L494.6,370.6 L494.7,370.3 L494.9,370.3 L495.0,370.5 L495.1,370.5 L495.3,369.8 L495.4,370.3 L495.6,369.6 L495.7,370.1 L495.9,369.8 L496.0,369.7 L496.1,369.4 L496.3,369.1 L496.4,369.4 L496.6,370.0 L496.7,369.4 L496.8,369.5 L497.0,369.4 L497.1,370.2 L497.3,369.3 L497.4,369.3 L497.6,369.7 L497.7,369.1 L497.8,368.9 L498.0,368.0 L498.1,368.6 L498.3,368.7 L498.4,368.7 L498.6,368.3 L498.7,368.2 L498.8,367.6 L499.0,368.1 L499.1,367.9 L499.3,367.9 L499.4,368.1 L499.6,367.4 L499.7,368.2 L499.9,367.7 L500.0,367.4 L500.1,367.5 L500.3,367.0 L500.4,367.0 L500.6,367.5 L500.7,366.1 L500.9,367.1 L501.0,366.4 L501.1,366.9 L501.3,366.4 L501.4,366.6 L501.6,366.6 L501.7,366.7 L501.9,366.6 L502.0,366.4 L502.2,366.1 L502.3,366.1 L502.5,366.5 L502.6,367.1 L502.7,366.3 L502.9,366.2 L503.0,367.1 L503.2,366.4 L503.3,365.9 L503.5,365.8 L503.6,366.4 L503.8,365.6 L503.9,365.6 L504.1,365.6 L504.2,365.9 L504.3,366.2 L504.5,366.0 L504.6,365.8 L504.8,365.5 L504.9,365.4 L505.1,365.3 L505.2,364.9 L505.4,364.8 L505.5,364.1 L505.7,363.7 L505.8,363.8 L505.9,364.0 L506.1,364.4 L506.2,364.8 L506.4,365.2 L506.5,364.7 L506.7,365.6 L506.8,364.8 L506.9,366.0 L507.1,365.8 L507.2,367.1 L507.4,367.4 L507.5,367.6 L507.6,367.4 L507.8,367.8 L507.9,367.7 L508.1,367.8 L508.2,368.2 L508.4,368.1 L508.5,368.6 L508.6,368.9 L508.8,368.2 L508.9,369.1 L509.1,368.8 L509.2,369.1 L509.4,368.3 L509.5,368.5 L509.6,368.6 L509.8,368.6 L509.9,367.9 L510.1,368.4 L510.2,368.9 L510.3,368.9 L510.5,368.7 L510.6,368.6 L510.8,368.6 L510.9,369.2 L511.0,368.5 L511.2,368.8 L511.3,369.0 L511.5,368.6 L511.6,369.2 L511.8,368.6 L511.9,369.0 L512.0,369.1 L512.2,368.7 L512.3,369.3 L512.5,368.4 L512.6,369.0 L512.8,368.2 L512.9,369.3 L513.0,368.5 L513.2,368.4 L513.3,368.2 L513.5,367.9 L513.6,367.5 L513.8,368.4 L513.9,367.4 L514.1,367.1 L514.2,367.2 L514.3,366.7 L514.5,367.0 L514.6,366.9 L514.8,366.2 L514.9,365.8 L515.1,366.1 L515.2,366.0 L515.3,366.4 L515.5,365.7 L515.6,366.0 L515.8,365.8 L515.9,365.8 L516.1,365.7 L516.2,365.7 L516.4,366.2 L516.5,366.0 L516.6,366.2 L516.8,366.6 L516.9,365.6 L517.1,365.9 L517.2,366.1 L517.4,366.1 L517.5,365.9 L517.6,365.5 L517.8,365.3 L517.9,364.8 L518.1,364.9 L518.2,364.4 L518.4,364.6 L518.5,365.1 L518.7,364.4 L518.8,364.8 L518.9,364.7 L519.1,364.1 L519.2,364.9 L519.4,363.8 L519.5,364.6 L519.7,363.9 L519.8,363.6 L519.9,364.8 L520.1,364.3 L520.2,363.4 L520.4,364.3 L520.5,363.2 L520.7,364.2 L520.8,363.3 L521.0,363.6 L521.1,363.4 L521.2,363.6 L521.4,363.6 L521.5,362.6 L521.7,363.1 L521.8,363.4 L522.0,363.2 L522.1,362.6 L522.2,363.4 L522.4,363.0 L522.5,362.3 L522.7,363.1 L522.8,362.6 L523.0,362.8 L523.1,362.2 L523.3,363.2 L523.4,362.1 L523.5,362.1 L523.7,363.0 L523.8,362.5 L524.0,362.6 L524.1,362.8 L524.3,362.7 L524.4,362.3 L524.6,363.3 L524.7,362.2 L524.8,362.6 L525.0,362.4 L525.1,362.3 L525.3,362.9 L525.4,362.0 L525.6,362.1 L525.7,362.1 L525.8,362.8 L526.0,363.4 L526.1,364.1 L526.3,363.8 L526.4,365.1 L526.5,365.4 L526.7,365.7 L526.8,366.6 L527.0,367.7 L527.1,368.2 L527.2,369.0 L527.4,369.2 L527.5,369.1 L527.7,369.7 L527.8,370.9 L527.9,370.9 L528.1,372.1 L528.2,371.5 L528.4,371.8 L528.5,372.4 L528.6,372.1 L528.8,371.2 L528.9,370.9 L529.1,369.8 L529.2,369.7 L529.4,368.1 L529.5,367.7 L529.6,367.0 L529.8,367.0 L529.9,365.5 L530.1,364.3 L530.2,363.8 L530.4,363.7 L530.5,362.8 L530.6,363.1 L530.8,363.7 L530.9,363.2 L531.1,364.4 L531.2,363.9 L531.3,364.3 L531.5,365.3 L531.6,365.7 L531.8,365.7 L531.9,365.5 L532.0,366.1 L532.2,366.9 L532.3,366.7 L532.5,367.2 L532.6,367.6 L532.7,366.5 L532.9,365.8 L533.0,365.5 L533.2,364.5 L533.3,363.4 L533.4,362.7 L533.6,361.8 L533.7,360.9 L533.9,360.5 L534.0,359.3 L534.1,358.7 L534.3,358.4 L534.4,359.5 L534.6,359.6 L534.7,359.1 L534.9,358.3 L535.0,358.4 L535.1,358.7 L535.3,357.6 L535.4,358.7 L535.6,358.6 L535.7,358.4 L535.8,358.7 L536.0,358.2 L536.1,358.0 L536.3,357.5 L536.4,357.5 L536.5,357.7 L536.7,357.4 L536.8,357.3 L537.0,357.9 L537.1,357.4 L537.3,358.5 L537.4,357.3 L537.5,358.0 L537.7,358.3 L537.8,358.3 L538.0,358.8 L538.1,358.7 L538.2,360.2 L538.4,361.3 L538.5,361.4 L538.7,362.3 L538.8,362.3 L538.9,362.5 L539.1,362.6 L539.2,363.8 L539.4,363.9 L539.5,364.2 L539.6,363.1 L539.8,363.9 L539.9,363.4 L540.1,362.5 L540.2,362.3 L540.4,361.6 L540.5,361.2 L540.7,360.8 L540.8,359.9 L541.0,360.1 L541.1,361.0 L541.2,359.2 L541.4,359.7 L541.5,359.6 L541.7,359.4 L541.8,358.4 L542.0,358.8 L542.1,358.0 L542.3,358.1 L542.4,357.3 L542.6,356.8 L542.7,356.5 L542.9,356.9 L543.0,355.9 L543.1,356.1 L543.3,355.4 L543.4,354.5 L543.6,354.7 L543.7,354.5 L543.9,355.3 L544.0,353.3 L544.1,353.9 L544.3,352.8 L544.4,352.7 L544.6,353.0 L544.7,352.4 L544.8,352.4 L545.0,351.5 L545.1,351.6 L545.3,351.5 L545.4,351.0 L545.5,351.9 L545.7,351.8 L545.8,350.6 L546.0,350.8 L546.1,350.4 L546.3,350.9 L546.4,350.4 L546.5,350.5 L546.7,350.6 L546.8,349.4 L547.0,350.1 L547.1,349.0 L547.2,349.3 L547.4,348.9 L547.5,349.6 L547.7,349.8 L547.8,348.8 L548.0,349.5 L548.1,348.7 L548.2,348.8 L548.4,348.5 L548.5,348.0 L548.7,346.3 L548.8,347.3 L548.9,346.4 L549.1,347.1 L549.2,346.3 L549.4,347.4 L549.5,346.5 L549.7,347.0 L549.8,345.2 L549.9,347.3 L550.1,346.8 L550.2,346.0 L550.4,346.6 L550.5,345.5 L550.6,346.1 L550.8,345.7 L550.9,345.9 L551.1,345.4 L551.2,346.8 L551.3,345.6 L551.5,345.5 L551.6,346.1 L551.8,346.3 L551.9,346.1 L552.0,347.2 L552.2,346.2 L552.3,346.3 L552.5,346.5 L552.6,346.9 L552.7,346.4 L552.9,347.1 L553.0,347.0 L553.2,347.6 L553.3,347.6 L553.4,347.4 L553.6,347.9 L553.7,347.7 L553.9,347.8 L554.0,347.3 L554.2,347.4 L554.3,348.6 L554.4,348.0 L554.6,348.6 L554.7,348.6 L554.9,347.9 L555.0,348.6 L555.2,348.6 L555.3,348.3 L555.5,348.3 L555.6,347.9 L555.7,347.4 L555.9,347.8 L556.0,347.9 L556.2,347.8 L556.3,347.8 L556.5,348.4 L556.6,347.2 L556.8,347.7 L556.9,346.5 L557.0,347.1 L557.2,346.8 L557.3,346.4 L557.5,346.6 L557.6,346.8 L557.8,346.8 L557.9,347.0 L558.0,346.2 L558.2,346.6 L558.3,346.9 L558.5,346.3 L558.6,347.1 L558.8,346.8 L558.9,346.4 L559.1,346.3 L559.2,347.0 L559.3,346.6 L559.5,347.1 L559.6,346.4 L559.8,346.3 L559.9,347.1 L560.1,347.3 L560.2,346.9 L560.3,348.0 L560.5,346.9 L560.6,345.9 L560.8,346.9 L560.9,347.0 L561.1,348.0 L561.2,347.4 L561.4,348.6 L561.5,347.9 L561.6,348.1 L561.8,347.3 L561.9,347.4 L562.1,348.4 L562.2,347.0 L562.4,347.3 L562.5,348.5 L562.7,347.9 L562.8,347.8 L563.0,347.4 L563.1,346.9 L563.2,347.4 L563.4,347.1 L563.5,348.6 L563.7,346.5 L563.8,346.0 L564.0,348.0 L564.1,347.5 L564.3,348.6 L564.4,347.6 L564.5,347.3 L564.7,346.8 L564.8,347.3 L565.0,347.0 L565.1,346.8 L565.2,346.5 L565.4,346.5 L565.5,346.1 L565.7,345.9 L565.8,346.4 L566.0,346.3 L566.1,345.5 L566.2,345.3 L566.4,345.5 L566.5,345.3 L566.7,346.4 L566.8,345.7 L566.9,344.3 L567.1,345.0 L567.2,344.4 L567.4,344.9 L567.5,343.9 L567.7,344.2 L567.8,344.3 L567.9,344.7 L568.1,345.7 L568.2,343.9 L568.4,343.9 L568.5,344.1 L568.6,344.0 L568.8,345.2 L568.9,344.2 L569.1,344.8 L569.2,344.4 L569.3,344.7 L569.5,344.7 L569.6,345.5 L569.8,345.6 L569.9,344.8 L570.1,345.0 L570.2,344.9 L570.3,345.9 L570.5,346.6 L570.6,346.0 L570.8,346.1 L570.9,346.6 L571.0,345.8 L571.2,346.9 L571.3,345.1 L571.5,346.2 L571.6,345.7 L571.8,346.3 L571.9,346.1 L572.0,345.3 L572.2,346.3 L572.3,346.4 L572.5,346.6 L572.6,346.2 L572.7,345.0 L572.9,344.3 L573.0,345.8 L573.2,345.1 L573.3,344.3 L573.4,344.8 L573.6,344.5 L573.7,343.1 L573.9,342.9 L574.0,342.6 L574.1,342.4 L574.3,343.3 L574.4,342.2 L574.6,342.4 L574.7,342.1 L574.8,341.7 L575.0,341.9 L575.1,341.7 L575.3,341.6 L575.4,342.1 L575.6,342.6 L575.7,341.7 L575.9,342.1 L576.0,341.6 L576.2,342.3 L576.3,343.8 L576.5,342.8 L576.6,341.8 L576.7,342.7 L576.9,342.2 L577.0,343.4 L577.2,344.3 L577.3,344.4 L577.5,343.7 L577.6,345.4 L577.8,344.6 L577.9,345.8 L578.1,346.4 L578.2,345.5 L578.3,345.6 L578.5,345.6 L578.6,344.1 L578.8,345.8 L578.9,344.1 L579.0,344.3 L579.2,344.9 L579.3,343.2 L579.5,344.2 L579.6,344.0 L579.8,344.0 L579.9,344.1 L580.0,342.9 L580.2,342.8 L580.3,342.8 L580.5,344.1 L580.6,343.7 L580.7,342.8 L580.9,343.8 L581.0,342.7 L581.2,341.8 L581.3,342.7 L581.5,342.2 L581.6,342.8 L581.7,342.8 L581.9,341.2 L582.0,342.1 L582.2,342.6 L582.3,342.1 L582.4,342.2 L582.6,341.5 L582.7,341.4 L582.9,340.9 L583.0,341.8 L583.1,342.5 L583.3,341.7 L583.4,341.4 L583.6,341.6 L583.7,341.4 L583.9,340.9 L584.0,339.9 L584.1,342.4 L584.3,341.1 L584.4,340.4 L584.6,340.4 L584.7,340.5 L584.8,339.0 L585.0,339.6 L585.1,340.0 L585.3,339.6 L585.4,339.9 L585.6,339.1 L585.7,339.3 L585.8,338.5 L586.0,339.0 L586.1,339.3 L586.3,339.6 L586.4,338.5 L586.5,338.8 L586.7,337.2 L586.8,336.8 L587.0,338.4 L587.1,337.6 L587.3,337.9 L587.4,338.1 L587.6,337.3 L587.7,338.2 L587.8,336.4 L588.0,337.0 L588.1,336.8 L588.3,337.1 L588.4,338.4 L588.6,337.8 L588.7,337.4 L588.8,339.0 L589.0,337.7 L589.1,337.1 L589.3,337.4 L589.4,337.4 L589.6,337.2 L589.7,336.3 L589.9,338.5 L590.0,337.3 L590.1,337.6 L590.3,336.5 L590.4,337.1 L590.6,336.9 L590.7,336.3 L590.9,336.8 L591.0,337.5 L591.1,338.3 L591.3,337.4 L591.4,336.6 L591.6,337.2 L591.7,337.4 L591.8,335.9 L592.0,336.4 L592.1,336.5 L592.3,335.8 L592.4,336.6 L592.6,336.5 L592.7,335.1 L592.8,335.8 L593.0,336.3 L593.1,336.7 L593.3,336.2 L593.4,335.8 L593.5,336.7 L593.7,336.6 L593.8,336.4 L594.0,336.1 L594.1,335.6 L594.3,335.2 L594.4,335.7 L594.5,334.3 L594.7,334.9 L594.8,335.4 L595.0,335.0 L595.1,334.9 L595.2,336.0 L595.4,334.9 L595.5,335.5 L595.7,334.5 L595.8,334.4 L596.0,335.0 L596.1,335.3 L596.2,334.8 L596.4,334.7 L596.5,336.6 L596.7,336.1 L596.8,336.9 L597.0,337.0 L597.1,335.0 L597.2,335.7 L597.4,335.9 L597.5,336.5 L597.7,336.5 L597.8,336.6 L598.0,337.3 L598.1,335.9 L598.2,337.1 L598.4,336.4 L598.5,336.8 L598.7,336.2 L598.8,337.2 L599.0,337.3 L599.1,338.0 L599.2,338.0 L599.4,337.8 L599.5,337.7 L599.7,337.5 L599.8,337.3 L600.0,337.5 L600.1,336.7 L600.2,337.8 L600.4,338.3 L600.5,338.5 L600.7,338.4 L600.8,337.9 L601.0,338.8 L601.1,339.3 L601.2,338.4 L601.4,338.4 L601.5,339.0 L601.7,339.3 L601.8,339.3 L602.0,337.9 L602.1,338.3 L602.2,339.1 L602.4,339.3 L602.5,338.8 L602.7,338.6 L602.8,338.8 L603.0,339.2 L603.1,339.4 L603.2,338.8 L603.4,339.6 L603.5,340.3 L603.7,339.4 L603.8,341.0 L604.0,340.7 L604.1,341.1 L604.2,340.5 L604.4,340.9 L604.5,342.3 L604.7,342.1 L604.8,343.8 L605.0,342.7 L605.1,343.6 L605.2,344.0 L605.4,345.1 L605.5,344.0 L605.7,344.5 L605.8,345.1 L606.0,344.2 L606.1,345.4 L606.2,346.0 L606.4,345.5 L606.5,345.4 L606.7,345.6 L606.8,345.1 L606.9,344.3 L607.1,343.6 L607.2,344.5 L607.4,343.7 L607.5,343.2 L607.7,342.8 L607.8,343.4 L607.9,342.3 L608.1,342.7 L608.2,342.2 L608.4,342.3 L608.5,342.1 L608.6,341.6 L608.8,340.9 L608.9,341.1 L609.1,342.3 L609.2,341.4 L609.3,342.0 L609.5,342.4 L609.6,343.0 L609.8,342.1 L609.9,343.5 L610.1,343.6 L610.2,344.4 L610.3,344.2 L610.5,345.8 L610.6,345.5 L610.8,345.7 L610.9,345.4 L611.1,346.5 L611.2,347.4 L611.3,346.7 L611.5,347.4 L611.6,346.2 L611.8,346.8 L611.9,346.2 L612.1,345.9 L612.2,345.8 L612.3,346.0 L612.5,346.9 L612.6,344.7 L612.8,345.4 L612.9,345.9 L613.1,345.6 L613.2,345.8 L613.3,345.4 L613.5,345.1 L613.6,345.3 L613.8,344.7 L613.9,345.1 L614.1,343.8 L614.2,344.4 L614.3,343.5 L614.5,344.4 L614.6,343.5 L614.8,345.3 L614.9,343.1 L615.1,342.9 L615.2,343.4 L615.3,343.0 L615.5,343.3 L615.6,342.4 L615.8,343.2 L615.9,341.2 L616.1,342.6 L616.2,342.3 L616.3,343.5 L616.5,342.3 L616.6,342.2 L616.8,341.1 L616.9,341.2 L617.0,341.2 L617.2,340.2 L617.3,340.7 L617.5,339.0 L617.6,340.3 L617.8,340.1 L617.9,340.2 L618.0,339.1 L618.2,340.3 L618.3,340.2 L618.5,339.7 L618.6,339.9 L618.7,338.8 L618.9,339.4 L619.0,339.2 L619.2,338.1 L619.3,338.3 L619.4,337.4 L619.6,338.9 L619.7,338.1 L619.9,337.3 L620.0,337.8 L620.2,337.1 L620.3,337.3 L620.4,337.6 L620.6,337.2 L620.7,336.6 L620.9,336.4 L621.0,337.8 L621.2,337.5 L621.3,337.9 L621.4,338.3 L621.6,338.2 L621.7,338.3 L621.9,338.0 L622.0,338.3 L622.2,337.4 L622.3,337.5 L622.4,338.3 L622.6,338.3 L622.7,338.1 L622.9,337.5 L623.0,338.3 L623.2,337.4 L623.3,337.3 L623.4,337.0 L623.6,338.6 L623.7,338.1 L623.9,339.1 L624.0,338.4 L624.2,337.9 L624.3,339.8 L624.4,337.8 L624.6,337.9 L624.7,338.7 L624.9,338.5 L625.0,338.9 L625.2,339.8 L625.3,339.6 L625.4,340.1 L625.6,340.4 L625.7,340.0 L625.9,340.4 L626.0,341.3 L626.2,340.6 L626.3,341.0 L626.4,340.5 L626.6,341.8 L626.7,340.9 L626.9,341.8 L627.0,342.1 L627.2,342.2 L627.3,342.4 L627.4,342.1 L627.6,341.8 L627.7,342.4 L627.9,342.3 L628.0,341.8 L628.2,342.9 L628.3,340.8 L628.4,340.9 L628.6,341.7 L628.7,341.9 L628.9,342.2 L629.0,342.0 L629.1,341.6 L629.3,342.8 L629.4,341.4 L629.6,341.3 L629.7,341.3 L629.9,341.2 L630.0,340.8 L630.1,341.3 L630.3,340.5 L630.4,341.5 L630.6,340.8 L630.7,340.6 L630.9,340.8 L631.0,341.6 L631.1,340.9 L631.3,340.4 L631.4,339.9 L631.6,340.4 L631.7,340.4 L631.8,339.3 L632.0,339.8 L632.1,339.8 L632.3,340.3 L632.4,340.3 L632.6,340.9 L632.7,339.3 L632.8,339.4 L633.0,339.5 L633.1,339.7 L633.3,339.2 L633.4,338.5 L633.6,339.5 L633.7,338.6 L633.8,339.8 L634.0,339.0 L634.1,338.6 L634.3,338.8 L634.4,338.7 L634.6,337.7 L634.7,338.5 L634.8,337.3 L635.0,338.6 L635.1,339.2 L635.3,338.3 L635.4,337.6 L635.5,338.3 L635.7,338.2 L635.8,337.3 L636.0,339.4 L636.1,337.9 L636.3,337.3 L636.4,338.3 L636.5,337.4 L636.7,338.7 L636.8,338.9 L637.0,338.9 L637.1,339.1 L637.3,338.9 L637.4,338.9 L637.5,339.2 L637.7,338.3 L637.8,338.7 L638.0,338.7 L638.1,338.8 L638.2,338.7 L638.4,337.8 L638.5,338.9 L638.7,339.6 L638.8,340.3 L639.0,339.4 L639.1,339.9 L639.2,338.2 L639.4,338.9 L639.5,339.0 L639.7,340.0 L639.8,339.6 L639.9,338.4 L640.1,340.0 L640.2,337.5 L640.4,338.9 L640.5,338.7 L640.7,338.2 L640.8,338.7 L640.9,339.4 L641.1,340.1 L641.2,339.4 L641.4,339.8 L641.5,340.6 L641.6,341.2 L641.8,340.4 L641.9,341.2 L642.1,341.1 L642.2,340.8 L642.4,339.4 L642.5,340.4 L642.6,341.1 L642.8,340.5 L642.9,339.9 L643.1,340.1 L643.2,339.4 L643.4,339.9 L643.5,339.2 L643.6,339.2 L643.8,340.1 L643.9,339.9 L644.1,338.8 L644.2,338.4 L644.4,338.7 L644.5,339.2 L644.6,337.8 L644.8,337.9 L644.9,338.2 L645.1,338.3 L645.2,337.2 L645.4,338.6 L645.5,338.7 L645.6,338.6 L645.8,338.2 L645.9,338.1 L646.1,337.4 L646.2,337.2 L646.4,336.7 L646.5,336.3 L646.6,336.4 L646.8,334.9 L646.9,336.1 L647.1,335.5 L647.2,335.7 L647.4,335.8 L647.5,336.3 L647.6,336.2 L647.8,335.7 L647.9,334.8 L648.1,334.9 L648.2,335.6 L648.4,335.4 L648.5,335.3 L648.6,333.8 L648.8,335.2 L648.9,334.9 L649.1,334.8 L649.2,334.2 L649.4,335.2 L649.5,334.2 L649.6,335.4 L649.8,334.8 L649.9,335.0 L650.1,334.3 L650.2,333.6 L650.3,333.9 L650.5,333.4 L650.6,334.0 L650.8,334.8 L650.9,333.1 L651.1,334.0 L651.2,333.1 L651.3,334.0 L651.5,332.8 L651.6,333.5 L651.8,332.3 L651.9,332.5 L652.1,333.5 L652.2,333.0 L652.3,333.7 L652.5,334.0 L652.6,332.9 L652.8,332.3 L652.9,332.3 L653.0,331.1 L653.2,331.5 L653.3,331.3 L653.5,330.7 L653.6,332.0 L653.8,331.4 L653.9,330.8 L654.0,331.4 L654.2,331.4 L654.3,330.1 L654.5,330.8 L654.6,329.9 L654.8,329.9 L654.9,330.0 L655.0,329.5 L655.2,330.1 L655.3,329.4 L655.5,329.5 L655.6,329.8 L655.7,329.2 L655.9,328.9 L656.0,329.1 L656.2,329.1 L656.3,329.7 L656.5,330.0 L656.6,329.3 L656.7,329.2 L656.9,329.3 L657.0,330.1 L657.2,329.9 L657.3,329.1 L657.5,330.1 L657.6,329.1 L657.7,328.3 L657.9,330.3 L658.0,329.3 L658.2,329.0 L658.3,328.8 L658.5,328.0 L658.6,328.8 L658.7,329.4 L658.9,328.5 L659.0,327.9 L659.2,328.7 L659.3,328.2 L659.5,328.7 L659.6,329.2 L659.7,329.3 L659.9,328.9 L660.0,328.2 L660.2,328.2 L660.3,327.9 L660.5,328.4 L660.6,328.3 L660.7,328.2 L660.9,328.0 L661.0,328.3 L661.2,328.3 L661.3,327.3 L661.5,327.7 L661.6,327.4 L661.7,329.5 L661.9,329.3 L662.0,329.4 L662.2,329.2 L662.3,328.7 L662.4,328.4 L662.6,328.9 L662.7,328.2 L662.9,328.2 L663.0,328.7 L663.2,329.1 L663.3,328.4 L663.4,329.0 L663.6,327.6 L663.7,329.0 L663.9,330.0 L664.0,329.5 L664.1,329.4 L664.3,330.3 L664.4,330.8 L664.6,330.4 L664.7,329.1 L664.9,330.9 L665.0,330.9 L665.1,331.2 L665.3,331.5 L665.4,330.4 L665.6,331.1 L665.7,331.3 L665.8,331.6 L666.0,331.8 L666.1,330.5 L666.3,331.2 L666.4,331.2 L666.6,331.8 L666.7,331.4 L666.8,331.0 L667.0,330.3 L667.1,332.3 L667.3,331.7 L667.4,331.4 L667.6,331.5 L667.7,330.8 L667.8,330.7 L668.0,330.5 L668.1,330.9 L668.3,330.1 L668.4,329.3 L668.6,331.0 L668.7,330.0 L668.8,329.9 L669.0,329.3 L669.1,328.8 L669.3,329.7 L669.4,329.2 L669.6,327.7 L669.7,326.9 L669.8,327.5 L670.0,328.0 L670.1,326.9 L670.3,328.1 L670.4,327.6 L670.6,326.7 L670.7,327.1 L670.8,325.2 L671.0,327.0 L671.1,327.9 L671.3,326.7 L671.4,326.2 L671.6,327.1 L671.7,326.1 L671.8,326.6 L672.0,327.4 L672.1,327.6 L672.3,326.9 L672.4,327.1 L672.6,326.4 L672.7,326.2 L672.8,325.8 L673.0,326.2 L673.1,326.7 L673.3,325.7 L673.4,326.3 L673.6,325.8 L673.7,325.8 L673.8,324.8 L674.0,325.2 L674.1,324.1 L674.3,323.9 L674.4,325.3 L674.5,326.0 L674.7,324.9 L674.8,325.1 L675.0,325.3 L675.1,324.4 L675.3,324.0 L675.4,324.6 L675.5,324.5 L675.7,323.8 L675.8,323.9 L676.0,323.8 L676.1,324.2 L676.2,325.0 L676.4,325.4 L676.5,325.1 L676.7,324.4 L676.8,325.3 L677.0,326.0 L677.1,325.6 L677.2,324.7 L677.4,324.5 L677.5,323.9 L677.7,324.1 L677.8,325.3 L677.9,325.4 L678.1,325.1 L678.2,324.3 L678.4,324.3 L678.5,324.1 L678.7,325.0 L678.8,324.2 L678.9,323.3 L679.1,324.2 L679.2,324.6 L679.4,322.8 L679.5,323.5 L679.7,324.2 L679.8,323.4 L679.9,323.7 L680.1,325.0 L680.2,324.4 L680.4,325.2 L680.5,324.1 L680.6,323.2 L680.8,324.0 L680.9,325.2 L681.1,324.6 L681.2,324.0 L681.4,324.5 L681.5,325.2 L681.6,324.4 L681.8,324.2 L681.9,323.2 L682.1,323.1 L682.2,323.0 L682.3,324.6 L682.5,322.7 L682.6,323.7 L682.8,325.2 L682.9,323.5 L683.1,324.5 L683.2,323.6 L683.3,323.5 L683.5,323.5 L683.6,322.8 L683.8,323.7 L683.9,322.8 L684.0,322.0 L684.2,322.6 L684.3,322.3 L684.5,322.1 L684.6,321.3 L684.8,323.2 L684.9,322.2 L685.0,322.6 L685.2,323.2 L685.3,322.2 L685.5,321.7 L685.6,321.3 L685.8,321.1 L685.9,320.8 L686.0,320.9 L686.2,320.7 L686.3,320.7 L686.5,319.3 L686.6,319.7 L686.7,320.3 L686.9,320.1 L687.0,320.1 L687.2,320.6 L687.3,320.1 L687.5,321.0 L687.6,320.0 L687.7,319.9 L687.9,319.5 L688.0,319.8 L688.2,318.6 L688.3,320.2 L688.5,319.0 L688.6,319.9 L688.7,320.1 L688.9,320.5 L689.0,318.8 L689.2,317.9 L689.3,318.7 L689.4,318.5 L689.6,317.9 L689.7,318.2 L689.9,316.9 L690.0,317.5 L690.2,318.2 L690.3,316.7 L690.4,316.3 L690.6,317.0 L690.7,316.1 L690.9,317.3 L691.0,316.8 L691.2,316.8 L691.3,317.9 L691.4,317.3 L691.6,318.6 L691.7,317.4 L691.9,317.9 L692.0,318.5 L692.2,318.0 L692.3,317.7 L692.4,317.8 L692.6,318.0 L692.7,320.7 L692.9,318.0 L693.0,319.4 L693.2,320.7 L693.3,319.7 L693.4,318.2 L693.6,317.7 L693.7,318.5 L693.9,319.8 L694.0,319.0 L694.2,318.2 L694.3,318.8 L694.4,318.8 L694.6,319.2 L694.7,316.3 L694.9,317.1 L695.0,316.4 L695.2,317.4 L695.3,317.1 L695.4,316.6 L695.6,317.1 L695.7,316.8 L695.9,317.5 L696.0,316.2 L696.2,316.3 L696.3,316.4 L696.4,316.4 L696.6,314.7 L696.7,316.2 L696.9,315.2 L697.0,315.6 L697.2,316.0 L697.3,315.7 L697.4,316.0 L697.6,315.3 L697.7,316.2 L697.9,316.1 L698.0,316.9 L698.1,317.4 L698.3,316.0 L698.4,316.6 L698.6,315.2 L698.7,315.6 L698.9,317.5 L699.0,317.2 L699.1,316.1 L699.3,316.7 L699.4,318.8 L699.6,318.5 L699.7,316.4 L699.8,317.9 L700.0,318.6 L700.1,316.6 L700.3,317.7 L700.4,317.4 L700.6,316.8 L700.7,318.0 L700.8,317.6 L701.0,318.7 L701.1,317.4 L701.3,317.6 L701.4,318.7 L701.5,319.2 L701.7,317.4 L701.8,319.5 L702.0,317.3 L702.1,319.4 L702.3,317.1 L702.4,317.2 L702.5,316.8 L702.7,317.1 L702.8,315.1 L703.0,316.2 L703.1,314.8 L703.3,314.7 L703.4,313.8 L703.5,315.7 L703.7,314.7 L703.8,314.8 L704.0,313.7 L704.1,314.4 L704.3,313.6 L704.4,312.5 L704.5,313.3 L704.7,312.4 L704.8,312.0 L705.0,314.0 L705.1,311.9 L705.3,312.3 L705.4,311.6 L705.5,312.8 L705.7,310.9 L705.8,311.4 L706.0,311.1 L706.1,311.6 L706.3,310.7 L706.4,311.2 L706.5,311.1 L706.7,310.6 L706.8,311.0 L707.0,311.9 L707.1,311.1 L707.2,312.1 L707.4,311.0 L707.5,310.7 L707.7,312.1 L707.8,312.5 L708.0,310.7 L708.1,311.5 L708.2,311.4 L708.4,311.2 L708.5,311.5 L708.7,311.5 L708.8,311.6 L709.0,311.9 L709.1,312.2 L709.2,311.3 L709.4,310.8 L709.5,310.6 L709.7,310.6 L709.8,311.9 L710.0,312.0 L710.1,311.4 L710.2,312.4 L710.4,313.3 L710.5,313.2 L710.7,313.7 L710.8,313.4 L710.9,313.7 L711.1,313.7 L711.2,313.7 L711.4,313.3 L711.5,312.4 L711.7,313.6 L711.8,313.4 L711.9,313.7 L712.1,313.7 L712.2,313.2 L712.4,312.9 L712.5,313.4 L712.7,313.7 L712.8,312.3 L712.9,313.7 L713.1,312.9 L713.2,312.1 L713.4,312.3 L713.5,312.3 L713.6,312.4 L713.8,313.7 L713.9,313.7 L714.1,311.8 L714.2,312.9 L714.4,312.9 L714.5,312.7 L714.6,313.8 L714.8,314.8 L714.9,313.4 L715.1,316.1 L715.2,316.7 L715.4,316.8 L715.5,316.5 L715.6,318.9 L715.8,319.4 L715.9,319.5 L716.1,318.5 L716.2,319.8 L716.4,321.3 L716.5,321.7 L716.6,321.3 L716.8,322.2 L716.9,321.3 L717.1,320.9 L717.2,321.2 L717.4,319.2 L717.5,321.2 L717.6,320.2 L717.8,319.4 L717.9,319.8 L718.1,320.4 L718.2,319.1 L718.4,318.6 L718.5,318.0 L718.6,319.3 L718.8,318.8 L718.9,319.2 L719.1,317.4 L719.2,318.2 L719.4,319.1 L719.5,317.7 L719.6,317.9 L719.8,317.8 L719.9,316.4 L720.1,316.8 L720.2,317.3 L720.4,317.4 L720.5,316.7 L720.6,317.9 L720.8,317.3 L720.9,316.8 L721.1,318.0 L721.2,317.5 L721.3,317.6 L721.5,316.1 L721.6,316.8 L721.8,315.3 L721.9,315.9 L722.0,316.4 L722.2,317.2 L722.3,315.9 L722.5,315.6 L722.6,314.9 L722.8,316.5 L722.9,315.5 L723.0,316.9 L723.2,316.3 L723.3,316.1 L723.5,315.8 L723.6,315.8 L723.8,316.2 L723.9,315.1 L724.0,315.6 L724.2,314.7 L724.3,316.3 L724.5,315.8 L724.6,315.7 L724.7,315.1 L724.9,316.3 L725.0,315.8 L725.2,316.8 L725.3,317.4 L725.5,317.4 L725.6,316.3 L725.7,316.5 L725.9,318.3 L726.0,318.6 L726.2,317.5 L726.3,317.4 L726.5,317.9 L726.6,318.3 L726.7,318.7 L726.9,319.7 L727.0,319.0 L727.2,318.6 L727.3,318.5 L727.5,319.6 L727.6,319.7 L727.7,320.0 L727.9,319.1 L728.0,318.5 L728.2,320.4 L728.3,320.1 L728.5,319.2 L728.6,318.4 L728.7,319.1 L728.9,319.3 L729.0,318.6 L729.2,317.3 L729.3,317.6 L729.5,317.4 L729.6,316.0 L729.7,316.8 L729.9,316.1 L730.0,317.2 L730.2,316.6 L730.3,316.7 L730.5,316.0 L730.6,315.7 L730.7,315.8 L730.9,314.8 L731.0,314.0 L731.2,314.7 L731.3,314.6 L731.5,314.5 L731.6,314.5 L731.7,314.4 L731.9,314.2 L732.0,313.1 L732.2,314.8 L732.3,313.3 L732.4,312.4 L732.6,313.4 L732.7,312.6 L732.9,313.1 L733.0,311.7 L733.2,312.8 L733.3,311.4 L733.4,313.3 L733.6,311.1 L733.7,312.9 L733.9,311.8 L734.0,312.7 L734.1,312.0 L734.3,313.4 L734.4,311.6 L734.6,312.6 L734.7,312.0 L734.9,311.0 L735.0,310.4 L735.1,312.3 L735.3,311.6 L735.4,311.1 L735.6,311.9 L735.7,310.9 L735.8,310.3 L736.0,309.6 L736.1,310.4 L736.3,310.4 L736.4,309.9 L736.6,310.0 L736.7,309.6 L736.8,309.4 L737.0,309.7 L737.1,309.0 L737.3,307.3 L737.4,308.1 L737.6,308.9 L737.7,309.2 L737.8,308.1 L738.0,307.8 L738.1,308.4 L738.3,309.3 L738.4,308.1 L738.6,307.4 L738.7,307.7 L738.8,306.7 L739.0,306.3 L739.1,306.8 L739.3,306.9 L739.4,307.1 L739.6,306.0 L739.7,307.8 L739.8,306.5 L740.0,305.1 L740.1,305.4 L740.3,306.0 L740.4,303.3 L740.6,304.3 L740.7,303.7 L740.8,304.5 L741.0,305.0 L741.1,304.7 L741.3,303.3 L741.4,302.6 L741.6,304.8 L741.7,304.5 L741.8,304.2 L742.0,303.7 L742.1,302.9 L742.3,302.6 L742.4,304.9 L742.6,303.9 L742.7,303.6 L742.8,302.3 L743.0,304.0 L743.1,303.7 L743.3,303.5 L743.4,304.6 L743.5,303.7 L743.7,303.1 L743.8,302.7 L744.0,302.5 L744.1,302.1 L744.3,304.0 L744.4,301.6 L744.5,302.1 L744.7,302.3 L744.8,302.3 L745.0,302.1 L745.1,301.7 L745.2,302.3 L745.4,302.2 L745.5,302.4 L745.7,302.3 L745.8,301.7 L746.0,301.7 L746.1,303.2 L746.2,303.4 L746.4,302.0 L746.5,302.7 L746.7,302.5 L746.8,302.6 L746.9,301.8 L747.1,303.6 L747.2,303.0 L747.4,303.6 L747.5,303.1 L747.7,302.0 L747.8,303.6 L747.9,303.2 L748.1,302.5 L748.2,303.0 L748.4,300.6 L748.5,301.0 L748.7,301.6 L748.8,301.7 L748.9,300.9 L749.1,300.4 L749.2,302.0 L749.4,299.9 L749.5,301.4 L749.7,299.2 L749.8,302.7 L749.9,302.8 L750.1,300.9 L750.2,302.9 L750.4,301.4 L750.5,301.7 L750.7,300.5 L750.8,301.7 L750.9,298.7 L751.1,299.4 L751.2,300.8 L751.4,298.2 L751.5,299.5 L751.7,300.3 L751.8,298.1 L751.9,300.8 L752.1,299.7 L752.2,298.0 L752.4,299.8 L752.5,298.8 L752.7,300.0 L752.8,298.5 L752.9,299.2 L753.1,298.6 L753.2,298.4 L753.4,296.9 L753.5,297.8 L753.7,297.4 L753.8,296.2 L753.9,296.2 L754.1,297.3 L754.2,295.6 L754.4,296.3 L754.5,297.5 L754.6,295.8 L754.8,296.1 L754.9,296.0 L755.1,295.9 L755.2,296.0 L755.4,297.5 L755.5,297.5 L755.6,295.3 L755.8,295.7 L755.9,296.4 L756.1,295.9 L756.2,295.2 L756.3,295.2 L756.5,296.5 L756.6,296.2 L756.8,296.4 L756.9,295.1 L757.1,295.6 L757.2,295.8 L757.3,294.5 L757.5,294.8 L757.6,296.2 L757.8,294.9 L757.9,293.2 L758.0,294.3 L758.2,294.8 L758.3,292.5 L758.5,293.1 L758.6,294.3 L758.8,292.9 L758.9,293.5 L759.0,292.4 L759.2,292.7 L759.3,294.4 L759.5,293.8 L759.6,293.5 L759.8,292.8 L759.9,291.9 L760.0,291.5 L760.2,294.0 L760.3,293.3 L760.5,291.9 L760.6,293.7 L760.8,292.9 L760.9,292.1 L761.0,290.6 L761.2,292.5 L761.3,291.5 L761.5,290.7 L761.6,293.2 L761.8,291.2 L761.9,291.1 L762.0,290.6 L762.2,290.5 L762.3,293.2 L762.5,291.5 L762.6,293.3 L762.8,293.3 L762.9,292.9 L763.0,292.7 L763.2,292.4 L763.3,292.9 L763.5,292.7 L763.6,290.5 L763.8,291.4 L763.9,292.3 L764.0,291.9 L764.2,292.1 L764.3,291.0 L764.5,292.9 L764.6,293.6 L764.8,291.7 L764.9,291.5 L765.0,292.0 L765.2,290.5 L765.3,290.6 L765.5,292.3 L765.6,290.5 L765.8,292.5 L765.9,291.9 L766.0,290.2 L766.2,289.9 L766.3,289.9 L766.5,289.8 L766.6,290.4 L766.8,288.1 L766.9,289.5 L767.1,288.9 L767.2,289.4 L767.3,288.9 L767.5,287.2 L767.6,289.7 L767.8,290.0 L767.9,289.6 L768.1,289.6 L768.2,289.4 L768.4,288.3 L768.5,289.4 L768.6,288.4 L768.8,288.6 L768.9,288.1 L769.1,288.1 L769.2,289.6 L769.4,287.6 L769.5,287.6 L769.6,287.5 L769.8,287.0 L769.9,287.8 L770.1,287.2 L770.2,285.9 L770.4,286.0 L770.5,285.3 L770.7,285.8 L770.8,286.0 L770.9,286.0 L771.1,286.7 L771.2,286.1 L771.4,285.3 L771.5,285.3 L771.7,286.0 L771.8,286.4 L771.9,286.1 L772.1,286.4 L772.2,285.8 L772.4,286.4 L772.5,288.6 L772.7,288.6 L772.8,288.6 L773.0,288.6 L773.1,286.8 L773.2,287.3 L773.4,288.6 L773.5,286.3 L773.7,288.1 L773.8,288.6 L774.0,286.4 L774.1,288.2 L774.2,286.2 L774.4,287.1 L774.5,286.6 L774.7,286.0 L774.8,285.3 L775.0,285.8 L775.1,286.9 L775.3,286.3 L775.4,286.3 L775.5,285.5 L775.7,285.9 L775.8,285.6 L776.0,286.6 L776.1,286.8 L776.2,284.8 L776.4,284.4 L776.5,284.2 L776.7,286.1 L776.8,284.7 L777.0,285.5 L777.1,284.8 L777.2,284.2 L777.4,284.2 L777.5,284.2 L777.7,284.3 L777.8,285.2 L778.0,284.8 L778.1,283.9 L778.2,283.7 L778.4,283.7 L778.5,281.3 L778.7,283.3 L778.8,281.7 L778.9,284.2 L779.1,282.9 L779.2,281.0 L779.4,282.8 L779.5,282.4 L779.6,280.3 L779.8,280.3 L779.9,280.2 L780.1,282.3 L780.2,280.0 L780.4,279.2 L780.5,279.1 L780.6,278.4 L780.8,278.9 L780.9,279.2 L781.1,279.9 L781.2,281.8 L781.4,279.2 L781.5,279.0 L781.6,279.5 L781.8,278.7 L781.9,277.2 L782.1,278.7 L782.2,277.9 L782.3,278.9 L782.5,280.9 L782.6,280.6 L782.8,281.0 L782.9,283.0 L783.1,283.1 L783.2,285.3 L783.3,285.5 L783.5,284.5 L783.6,285.3 L783.8,287.8 L783.9,288.1 L784.1,286.8 L784.2,288.6 L784.3,288.8 L784.5,287.6 L784.6,290.3 L784.8,291.4 L784.9,290.9 L785.1,291.0 L785.2,292.9 L785.4,291.4 L785.5,293.0 L785.7,293.8 L785.8,291.7 L785.9,294.4 L786.1,295.1 L786.2,294.4 L786.4,296.8 L786.5,298.4 L786.7,296.4 L786.8,298.4 L787.0,298.4 L787.1,297.4 L787.2,296.5 L787.4,297.6 L787.5,295.2 L787.7,294.0 L787.8,295.1 L788.0,294.1 L788.1,294.2 L788.2,293.4 L788.4,290.9 L788.5,290.6 L788.7,291.3 L788.8,290.0 L789.0,290.2 L789.1,288.6 L789.2,287.4 L789.4,286.1 L789.5,287.4 L789.7,287.8 L789.8,287.7 L790.0,288.3 L790.1,286.6 L790.2,286.8 L790.4,288.5 L790.5,287.9 L790.7,288.8 L790.8,286.2 L790.9,285.9 L791.1,287.6 L791.2,286.9 L791.4,286.0 L791.5,286.3 L791.7,284.8 L791.8,285.3 L791.9,286.1 L792.1,285.4 L792.2,287.9 L792.4,284.9 L792.5,286.4 L792.6,285.5 L792.8,285.6 L792.9,285.2 L793.1,284.3 L793.2,283.2 L793.4,284.4 L793.5,284.9 L793.6,284.2 L793.8,284.4 L793.9,285.3 L794.1,285.4 L794.2,285.0 L794.3,285.8 L794.5,285.8 L794.6,283.7 L794.8,282.8 L794.9,284.5 L795.1,283.1 L795.2,281.9 L795.3,283.1 L795.5,284.2 L795.6,283.8 L795.8,283.0 L795.9,282.7 L796.0,282.8 L796.2,282.3 L796.3,282.1 L796.5,282.4 L796.6,281.6 L796.8,282.3 L796.9,282.3 L797.0,281.3 L797.2,282.1 L797.3,282.5 L797.5,282.4 L797.6,282.6 L797.8,282.2 L797.9,282.9 L798.1,283.3 L798.2,282.0 L798.3,281.4 L798.5,282.4 L798.6,282.3 L798.8,281.3 L798.9,282.2 L799.1,281.9 L799.2,282.6 L799.4,283.3 L799.5,281.7 L799.6,281.3 L799.8,282.6 L799.9,281.8 L800.1,281.7 L800.2,282.3 L800.4,282.3 L800.5,281.3 L800.7,281.7 L800.8,282.7 L800.9,282.7 L801.1,283.8 L801.2,285.3 L801.4,283.6 L801.5,284.1 L801.7,286.2 L801.8,286.2 L802.0,285.2 L802.1,284.8 L802.2,285.3 L802.4,285.9 L802.5,287.9 L802.7,288.3 L802.8,285.9 L803.0,288.0 L803.1,286.1 L803.3,288.0 L803.4,285.9 L803.6,286.8 L803.7,288.6 L803.8,290.3 L804.0,290.3 L804.1,290.3 L804.3,292.1 L804.4,290.9 L804.6,293.0 L804.7,293.0 L804.9,294.9 L805.0,294.1 L805.1,295.1 L805.3,296.0 L805.4,296.0 L805.6,297.3 L805.7,298.2 L805.9,296.1 L806.0,300.3 L806.2,300.1 L806.3,300.2 L806.4,299.0 L806.6,300.5 L806.7,301.4 L806.9,302.2 L807.0,303.7 L807.2,304.5 L807.3,304.3 L807.5,305.8 L807.6,306.2 L807.7,305.3 L807.9,303.6 L808.0,302.1 L808.2,301.8 L808.3,300.8 L808.5,300.6 L808.6,298.4 L808.7,297.3 L808.9,295.0 L809.0,295.0 L809.2,294.4 L809.3,294.9 L809.5,292.8 L809.6,292.5 L809.7,292.6 L809.9,292.4 L810.0,290.9 L810.2,291.2 L810.3,291.8 L810.5,291.2 L810.6,290.7 L810.7,292.3 L810.9,290.9 L811.0,288.5 L811.2,290.1 L811.3,291.2 L811.4,289.1 L811.6,289.8 L811.7,289.1 L811.9,289.4 L812.0,288.2 L812.2,287.8 L812.3,290.0 L812.4,289.4 L812.6,288.1 L812.7,287.2 L812.9,288.3 L813.0,289.6 L813.1,289.5 L813.3,289.5 L813.4,288.8 L813.6,287.5 L813.7,288.1 L813.9,287.5 L814.0,289.2 L814.1,289.6 L814.3,287.2 L814.4,289.5 L814.6,286.1 L814.7,286.3 L814.9,286.5 L815.0,286.6 L815.1,288.3 L815.3,286.9 L815.4,287.0 L815.6,287.6 L815.7,286.7 L815.8,287.9 L816.0,287.5 L816.1,286.4 L816.3,286.9 L816.4,288.7 L816.6,288.7 L816.7,288.7 L816.8,287.8 L817.0,286.7 L817.1,286.4 L817.3,287.5 L817.4,286.7 L817.5,288.0 L817.7,288.1 L817.8,285.8 L818.0,285.6 L818.1,287.6 L818.3,286.1 L818.4,284.7 L818.5,284.4 L818.7,283.7 L818.8,284.0 L819.0,283.7 L819.1,283.7 L819.3,284.1 L819.4,284.7 L819.6,286.1 L819.7,283.7 L819.8,285.7 L820.0,285.0 L820.1,286.6 L820.3,284.9 L820.4,286.5 L820.6,283.7 L820.7,286.1 L820.9,285.7 L821.0,285.6 L821.1,286.7 L821.3,286.7 L821.4,285.5 L821.6,286.7 L821.7,286.4 L821.9,286.6 L822.0,285.3 L822.2,284.5 L822.3,285.7 L822.4,286.6 L822.6,286.7 L822.7,287.2 L822.9,286.0 L823.0,286.4 L823.2,286.9 L823.3,288.8 L823.5,288.7 L823.6,288.8 L823.8,290.8 L823.9,289.4 L824.0,287.9 L824.2,290.0 L824.3,289.4 L824.5,290.8 L824.6,290.1 L824.8,292.2 L824.9,292.7 L825.1,293.2 L825.2,292.5 L825.3,290.7 L825.5,291.3 L825.6,291.7 L825.8,290.2 L825.9,290.6 L826.1,292.4 L826.2,291.5 L826.4,291.7 L826.5,291.6 L826.7,290.7 L826.8,291.9 L826.9,291.2 L827.1,293.1 L827.2,290.8 L827.4,292.7 L827.5,292.8 L827.7,292.3 L827.8,290.1 L828.0,290.6 L828.1,290.5 L828.2,290.5 L828.4,290.9 L828.5,290.2 L828.7,291.5 L828.8,291.5 L829.0,288.7 L829.1,288.4 L829.2,288.2 L829.4,288.8 L829.5,287.4 L829.7,288.0 L829.8,288.3 L830.0,290.0 L830.1,287.6 L830.2,286.6 L830.4,287.3 L830.5,287.9 L830.7,289.2 L830.8,288.3 L831.0,287.3 L831.1,289.1 L831.3,286.6 L831.4,286.7 L831.5,289.4 L831.7,289.0 L831.8,286.6 L832.0,287.3 L832.1,287.7 L832.3,288.0 L832.4,287.7 L832.6,287.8 L832.7,288.9 L832.8,287.0 L833.0,287.9 L833.1,288.4 L833.3,289.6 L833.4,288.1 L833.6,288.3 L833.7,288.7 L833.9,289.1 L834.0,288.6 L834.1,288.8 L834.3,289.0 L834.4,287.7 L834.6,288.2 L834.7,289.6 L834.9,286.8 L835.0,289.6 L835.2,286.5 L835.3,288.2 L835.4,287.3 L835.6,287.8 L835.7,287.3 L835.9,288.5 L836.0,288.1 L836.2,287.6 L836.3,288.7 L836.5,286.9 L836.6,287.2 L836.7,289.3 L836.9,288.0 L837.0,288.1 L837.2,289.4 L837.3,285.9 L837.5,287.6 L837.6,289.1 L837.7,286.7 L837.9,286.1 L838.0,286.7 L838.2,286.2 L838.3,287.4 L838.5,286.5 L838.6,284.8 L838.8,284.8 L838.9,285.7 L839.0,286.7 L839.2,288.0 L839.3,291.0 L839.5,291.4 L839.6,292.7 L839.8,292.5 L839.9,294.5 L840.1,297.4 L840.2,298.6 L840.4,302.1 L840.5,303.7 L840.7,305.6 L840.8,308.1 L840.9,305.2 L841.1,301.8 L841.2,300.8 L841.4,298.3 L841.5,294.8 L841.7,290.6 L841.8,287.7 L841.9,286.9 L842.1,280.9 L842.2,279.9 L842.4,278.9 L842.5,277.5 L842.7,274.4 L842.8,271.0 L842.9,269.7 L843.1,268.5 L843.2,269.3 L843.4,269.4 L843.5,268.6 L843.7,268.5 L843.8,269.1 L844.0,266.5 L844.1,268.4 L844.2,266.1 L844.4,265.2 L844.5,267.8 L844.7,265.1 L844.8,266.0 L845.0,264.3 L845.1,264.2 L845.3,265.3 L845.4,263.4 L845.6,263.2 L845.7,263.2 L845.8,263.3 L846.0,261.9 L846.1,262.0 L846.3,263.1 L846.4,262.4 L846.6,261.3 L846.7,260.3 L846.8,261.3 L847.0,262.6 L847.1,260.5 L847.3,262.9 L847.4,260.3 L847.6,261.9 L847.7,261.3 L847.8,261.1 L848.0,262.2 L848.1,262.9 L848.3,262.8 L848.4,260.3 L848.6,260.3 L848.7,260.3 L848.9,261.7 L849.0,263.0 L849.2,262.9 L849.3,263.4 L849.5,264.5 L849.6,264.2 L849.7,262.5 L849.9,264.6 L850.0,262.4 L850.2,260.3 L850.3,260.7 L850.5,258.8 L850.6,258.1 L850.8,256.4 L850.9,258.8 L851.0,259.8 L851.2,256.1 L851.3,257.1 L851.5,254.5 L851.6,251.4 L851.8,252.2 L851.9,252.8 L852.1,250.8 L852.2,252.6 L852.4,253.3 L852.5,251.5 L852.6,252.0 L852.8,251.1 L852.9,252.3 L853.1,251.4 L853.2,251.2 L853.3,252.5 L853.5,252.0 L853.6,255.1 L853.8,254.1 L853.9,254.3 L854.0,254.3 L854.2,252.2 L854.3,253.2 L854.4,253.2 L854.6,252.1 L854.7,253.7 L854.9,256.3 L855.0,255.3 L855.1,254.1 L855.3,253.1 L855.4,252.0 L855.6,251.7 L855.7,250.5 L855.8,249.7 L856.0,250.4 L856.1,251.1 L856.3,250.4 L856.4,249.6 L856.6,250.0 L856.7,250.6 L856.8,247.7 L857.0,248.0 L857.1,247.2 L857.3,250.1 L857.4,248.1 L857.5,248.7 L857.7,250.8 L857.8,254.7 L857.9,251.8 L858.1,251.5 L858.2,253.7 L858.3,253.4 L858.5,252.8 L858.6,251.0 L858.8,249.9 L858.9,252.3 L859.1,250.8 L859.2,248.5 L859.4,250.6 L859.5,249.9 L859.7,246.9 L859.8,249.2 L859.9,246.7 L860.1,245.4 L860.2,245.2 L860.4,246.3 L860.5,245.2 L860.7,247.1 L860.8,244.7 L861.0,243.6 L861.1,243.4 L861.3,243.0 L861.4,242.6 L861.5,241.1 L861.7,242.9 L861.8,241.5 L862.0,241.7 L862.1,240.0 L862.3,240.9 L862.4,243.2 L862.6,243.6 L862.7,240.9 L862.9,243.6 L863.0,242.3 L863.1,242.4 L863.3,243.0 L863.4,243.4 L863.6,242.6 L863.7,243.3 L863.9,242.6 L864.0,240.6 L864.2,241.9 L864.3,243.3 L864.5,241.7 L864.6,241.0 L864.7,241.4 L864.9,243.6 L865.0,243.5 L865.1,244.5 L865.3,244.2 L865.4,244.2 L865.5,241.6 L865.7,243.9 L865.8,243.3 L866.0,239.8 L866.1,241.8 L866.3,241.3 L866.4,240.9 L866.5,239.7 L866.7,238.4 L866.8,242.9 L867.0,239.1 L867.1,239.9 L867.3,241.5 L867.4,238.4 L867.6,239.6 L867.7,239.4 L867.8,238.1 L868.0,238.7 L868.1,239.6 L868.3,239.4 L868.4,237.8 L868.6,238.8 L868.7,236.4 L868.9,236.1 L869.0,238.4 L869.2,236.2 L869.3,234.5 L869.4,235.7 L869.6,234.2 L869.7,233.1 L869.9,233.5 L870.0,235.3 L870.2,233.2 L870.3,233.2 L870.5,233.8 L870.6,231.0 L870.8,231.1 L870.9,231.4 L871.0,230.6 L871.2,230.4 L871.3,232.7 L871.5,233.1 L871.6,231.2 L871.8,231.0 L871.9,233.0 L872.1,235.6 L872.2,233.8 L872.4,233.3 L872.5,234.6 L872.6,233.4 L872.8,235.5 L872.9,235.6 L873.1,235.4 L873.2,234.7 L873.4,233.7 L873.5,231.1 L873.7,231.9 L873.8,229.9 L874.0,232.4 L874.1,231.7 L874.2,234.0 L874.4,231.8 L874.5,228.6 L874.7,227.0 L874.8,230.0 L875.0,228.0 L875.1,228.2 L875.3,226.6 L875.4,229.6 L875.6,226.5 L875.7,226.6 L875.8,227.6 L876.0,226.3 L876.1,225.6 L876.3,227.1 L876.4,224.5 L876.6,223.8 L876.7,222.4 L876.8,223.7 L877.0,223.8 L877.1,224.0 L877.3,226.0 L877.4,227.5 L877.6,225.0 L877.7,223.4 L877.8,223.2 L878.0,225.8 L878.1,225.5 L878.3,222.6 L878.4,224.4 L878.6,224.7 L878.7,225.6 L878.8,221.7 L879.0,224.5 L879.1,224.3 L879.3,221.7 L879.4,221.7 L879.6,221.7 L879.7,222.7 L879.8,224.3 L880.0,221.7 L880.1,223.0 L880.3,221.7 L880.4,221.7 L880.6,222.2 L880.7,221.7 L880.9,223.8 L881.0,221.7 L881.2,225.2 L881.3,224.2 L881.4,223.8 L881.6,224.4 L881.7,224.6 L881.9,225.9 L882.0,225.3 L882.1,226.7 L882.3,225.2 L882.4,227.2 L882.6,226.4 L882.7,229.1 L882.8,228.2 L883.0,228.9 L883.1,231.2 L883.3,231.0 L883.4,230.6 L883.5,228.9 L883.7,228.9 L883.8,231.0 L884.0,229.7 L884.1,231.6 L884.3,228.4 L884.4,231.6 L884.6,229.0 L884.7,225.5 L884.9,228.8 L885.0,228.8 L885.2,225.7 L885.3,225.8 L885.4,225.2 L885.6,224.8 L885.7,225.1 L885.9,224.0 L886.0,226.4 L886.1,225.2 L886.3,225.7 L886.4,225.4 L886.6,225.7 L886.7,224.0 L886.9,226.7 L887.0,225.3 L887.1,224.0 L887.3,224.6 L887.4,224.0 L887.6,224.0 L887.7,225.0 L887.9,223.4 L888.0,224.5 L888.2,223.3 L888.3,226.0 L888.5,222.3 L888.6,222.2 L888.8,220.6 L888.9,217.4 L889.1,216.3 L889.2,217.1 L889.3,217.5 L889.5,218.4 L889.6,216.3 L889.8,217.1 L889.9,217.7 L890.1,218.9 L890.2,218.5 L890.4,217.4 L890.5,219.8 L890.7,220.5 L890.8,219.5 L890.9,220.9 L891.1,220.8 L891.2,221.3 L891.4,222.9 L891.5,224.2 L891.7,223.1 L891.8,225.2 L892.0,226.5 L892.1,226.2 L892.3,227.2 L892.4,228.2 L892.5,226.1 L892.7,225.2 L892.8,227.0 L893.0,223.5 L893.1,226.3 L893.3,228.1 L893.4,224.9 L893.6,225.3 L893.7,225.2 L893.9,225.0 L894.0,223.5 L894.1,227.6 L894.3,224.5 L894.4,227.5 L894.6,227.2 L894.7,227.3 L894.9,232.0 L895.0,232.1 L895.2,230.7 L895.3,231.0 L895.5,233.1 L895.6,233.0 L895.7,232.6 L895.9,231.8 L896.0,231.1 L896.2,230.3 L896.3,229.0 L896.5,228.1 L896.6,224.8 L896.8,225.6 L896.9,226.0 L897.1,225.4 L897.2,225.0 L897.3,224.1 L897.5,226.3 L897.6,228.6 L897.8,229.8 L897.9,227.7 L898.0,229.8 L898.2,233.6 L898.3,230.8 L898.5,231.9 L898.6,232.9 L898.8,236.2 L898.9,237.6 L899.0,237.0 L899.2,238.1 L899.3,239.9 L899.5,239.3 L899.6,241.0 L899.7,241.1 L899.9,237.1 L900.0,239.2 L900.2,238.4 L900.3,237.8 L900.4,237.7 L900.6,233.3 L900.7,235.3 L900.9,236.6 L901.0,235.0 L901.2,232.9 L901.3,232.1 L901.4,231.3 L901.6,233.6 L901.7,233.0 L901.9,231.7 L902.0,231.4 L902.1,233.8 L902.3,235.2 L902.4,234.5 L902.6,236.7 L902.7,235.5 L902.8,238.0 L903.0,239.6 L903.1,236.5 L903.3,237.9 L903.4,240.4 L903.6,243.4 L903.7,245.9 L903.8,246.5 L904.0,245.3 L904.1,247.9 L904.3,248.0 L904.4,250.5 L904.5,250.1 L904.7,248.9 L904.8,249.2 L905.0,246.7 L905.1,244.1 L905.2,246.1 L905.4,244.9 L905.5,244.2 L905.7,244.0 L905.8,241.7 L906.0,242.7 L906.1,240.7 L906.2,236.9 L906.4,236.0 L906.5,236.5 L906.7,235.1 L906.8,233.8 L906.9,236.1 L907.1,233.6 L907.2,235.4 L907.4,238.2 L907.5,237.4 L907.6,236.6 L907.8,237.3 L907.9,237.8 L908.1,235.4 L908.2,241.1 L908.4,239.7 L908.5,240.5 L908.6,238.6 L908.8,241.4 L908.9,242.1 L909.1,240.6 L909.2,242.6 L909.3,242.6 L909.5,244.7 L909.6,243.6 L909.8,244.3 L909.9,245.0 L910.1,246.3 L910.2,247.1 L910.4,247.7 L910.5,245.9 L910.6,248.0 L910.8,250.8 L910.9,249.4 L911.1,250.6 L911.2,251.1 L911.4,249.2 L911.5,252.1 L911.6,250.2 L911.8,249.3 L911.9,247.3 L912.1,250.9 L912.2,249.6 L912.4,248.6 L912.5,247.9 L912.7,245.2 L912.8,243.7 L913.0,244.5 L913.1,242.6 L913.2,240.1 L913.4,237.8 L913.5,238.0 L913.7,238.0 L913.8,235.3 L913.9,232.9 L914.1,234.8 L914.2,231.4 L914.4,232.0 L914.5,234.4 L914.7,229.0 L914.8,230.8 L914.9,229.0 L915.1,228.1 L915.2,224.8 L915.4,225.1 L915.5,225.8 L915.6,227.9 L915.8,229.8 L915.9,228.2 L916.1,229.7 L916.2,231.8 L916.4,231.0 L916.5,231.9 L916.7,233.0 L916.8,233.0 L917.0,234.9 L917.1,237.0 L917.2,235.2 L917.4,237.1 L917.5,234.6 L917.7,236.6 L917.8,235.8 L918.0,234.1 L918.1,236.2 L918.3,232.7 L918.4,230.4 L918.6,234.0 L918.7,232.5 L918.8,229.4 L919.0,228.6 L919.1,231.6 L919.3,229.2 L919.4,228.4 L919.6,229.4 L919.7,227.3 L919.9,228.6 L920.0,226.1 L920.2,224.8 L920.3,225.8 L920.4,226.0 L920.6,227.7 L920.7,228.4 L920.9,227.3 L921.0,229.4 L921.1,227.8 L921.3,227.2 L921.4,230.1 L921.6,228.9 L921.7,227.8 L921.9,229.2 L922.0,230.8 L922.1,227.7 L922.3,229.3 L922.4,229.9 L922.6,230.5 L922.7,229.8 L922.8,229.3 L923.0,229.1 L923.1,226.8 L923.3,225.1 L923.4,228.3 L923.5,228.9 L923.7,226.3 L923.8,226.5 L924.0,225.9 L924.1,224.6 L924.3,224.0 L924.4,221.6 L924.5,223.5 L924.7,223.0 L924.8,221.7 L925.0,219.5 L925.1,218.7 L925.2,218.1 L925.4,217.4 L925.5,214.3 L925.7,217.4 L925.8,218.8 L925.9,217.5 L926.1,216.2 L926.2,212.9 L926.4,216.0 L926.5,216.8 L926.7,214.4 L926.8,218.0 L926.9,213.1 L927.1,212.9 L927.2,214.0 L927.4,212.9 L927.5,213.9 L927.6,214.7 L927.8,212.0 L927.9,211.2 L928.1,213.2 L928.2,214.9 L928.3,214.9 L928.5,212.1 L928.6,210.8 L928.8,210.0 L928.9,209.5 L929.1,206.5 L929.2,208.8 L929.3,207.5 L929.5,208.4 L929.6,204.9 L929.8,205.1 L929.9,205.9 L930.0,206.8 L930.2,205.9 L930.3,206.8 L930.5,206.9 L930.6,206.6 L930.7,206.9 L930.9,206.9 L931.0,206.9 L931.2,206.9 L931.3,206.9 L931.5,206.7 L931.6,206.9 L931.7,205.5 L931.9,204.0 L932.0,206.0 L932.2,206.9 L932.3,206.7 L932.4,204.1 L932.6,205.8 L932.7,205.7 L932.9,204.7 L933.0,204.3 L933.1,203.3 L933.3,203.3 L933.4,203.3 L933.6,204.4 L933.7,203.8 L933.8,204.5 L934.0,204.9 L934.1,203.3 L934.3,203.3 L934.4,203.3 L934.6,203.3 L934.7,203.4 L934.8,203.3 L935.0,205.4 L935.1,205.4 L935.3,203.3 L935.4,205.9 L935.5,206.7 L935.7,208.8 L935.8,208.4 L936.0,212.0 L936.1,207.0 L936.2,210.8 L936.4,211.0 L936.5,210.3 L936.7,207.2 L936.8,210.9 L937.0,213.5 L937.1,212.8 L937.2,213.5 L937.4,213.7 L937.5,214.1 L937.7,214.1 L937.8,213.1" fill="none" stroke="#ff7f0e" stroke-width="1.75" stroke-linejoin="round" stroke-linecap="square"/>
<path d="M98.4,398.0 L131.5,398.0 L131.8,398.1 L132.0,398.3 L132.2,398.3 L132.5,398.5 L132.8,398.6 L133.0,398.6 L133.2,398.6 L133.5,398.7 L133.8,398.7 L134.0,398.7 L134.2,398.6 L134.5,398.5 L134.8,398.4 L135.0,398.2 L135.2,398.4 L135.5,398.5 L135.8,398.6 L136.0,398.5 L136.2,398.6 L136.5,398.4 L136.8,398.4 L137.0,398.7 L137.2,398.6 L137.5,398.4 L137.8,398.2 L138.0,398.0 L138.2,397.9 L138.5,397.7 L138.8,397.7 L139.0,397.4 L139.2,397.1 L139.5,396.9 L139.8,396.6 L140.0,396.7 L193.2,396.7 L193.4,396.6 L193.7,396.5 L193.9,396.7 L194.2,396.3 L194.4,396.4 L194.7,396.4 L194.9,396.2 L195.2,396.2 L195.4,396.0 L195.7,396.1 L195.9,396.1 L196.2,395.9 L196.4,395.8 L196.7,395.9 L196.9,395.7 L197.2,395.6 L197.4,395.8 L197.7,395.8 L197.9,395.6 L198.2,395.9 L198.4,395.9 L198.7,395.8 L198.9,395.5 L199.2,395.5 L199.4,395.3 L199.7,395.1 L199.9,394.8 L200.2,394.7 L228.7,394.7 L229.0,394.3 L229.2,393.9 L229.5,393.4 L229.8,392.9 L230.0,392.5 L230.3,392.0 L230.6,391.6 L230.8,391.6 L231.1,391.8 L231.4,391.7 L231.6,391.6 L231.9,391.5 L232.1,391.6 L232.4,391.5 L232.7,391.6 L232.9,391.9 L233.2,392.0 L233.5,392.1 L233.7,392.3 L234.0,392.6 L234.3,392.3 L234.5,392.2 L234.8,391.9 L235.0,391.7 L235.3,391.7 L235.5,391.7 L235.8,391.4 L236.0,391.2 L236.3,391.2 L236.5,390.9 L236.8,390.7 L237.0,390.7 L237.3,390.2 L250.2,390.2 L250.5,390.4 L250.7,390.8 L251.0,391.2 L251.3,391.5 L251.5,392.3 L251.8,392.6 L252.1,392.5 L252.3,392.4 L252.6,392.0 L252.9,391.8 L253.1,391.6 L253.4,391.5 L253.7,391.6 L253.9,391.6 L254.2,391.8 L254.5,391.7 L254.7,392.1 L255.0,392.0 L255.3,391.8 L255.5,391.3 L255.8,390.7 L256.1,390.0 L256.3,389.8 L256.6,389.4 L256.8,388.9 L257.1,388.5 L278.1,388.5 L278.4,387.9 L278.6,387.5 L278.9,387.0 L279.2,386.1 L279.5,386.1 L279.7,386.5 L280.0,386.8 L280.2,387.1 L280.5,387.6 L280.8,387.7 L281.0,388.0 L281.3,388.3 L281.6,388.5 L281.8,388.6 L282.1,388.6 L282.4,388.7 L282.6,388.6 L282.9,388.8 L283.1,388.6 L283.4,388.1 L283.6,387.5 L283.9,387.2 L284.1,386.8 L284.4,386.2 L284.6,386.0 L284.9,385.6 L285.1,385.0 L309.0,385.0 L309.3,384.7 L309.5,384.7 L309.8,384.2 L310.1,384.1 L310.3,384.1 L310.6,384.1 L310.8,383.6 L311.1,383.7 L311.3,384.2 L311.6,384.2 L311.8,384.0 L312.1,384.3 L312.3,384.2 L312.6,384.4 L312.8,384.4 L313.1,384.8 L313.3,385.2 L313.6,385.5 L313.8,385.7 L314.1,385.9 L314.3,386.1 L314.6,386.1 L314.8,386.0 L315.1,386.0 L315.3,385.7 L315.6,385.6 L315.8,385.5 L316.1,385.5 L316.3,385.0 L316.6,385.1 L316.8,385.1 L317.1,384.7 L317.3,384.5 L317.6,384.5 L317.9,385.0 L318.1,385.6 L318.4,386.0 L318.7,386.5 L318.9,386.7 L319.2,387.2 L319.4,387.7 L319.7,388.1 L319.9,388.5 L320.2,388.6 L320.4,388.6 L320.7,388.9 L320.9,389.2 L321.2,389.5 L321.4,389.8 L321.7,390.3 L321.9,390.5 L322.2,390.8 L322.4,390.9 L322.6,390.7 L322.9,390.3 L323.1,390.2 L323.4,390.3 L323.6,390.4 L323.9,389.8 L324.1,389.5 L324.4,388.9 L324.6,388.6 L324.9,388.4 L325.1,387.9 L325.4,387.3 L325.6,387.0 L325.9,386.8 L326.1,386.3 L334.7,386.3 L335.0,387.2 L335.2,387.6 L335.5,388.3 L335.8,389.3 L336.0,389.0 L336.3,389.0 L336.5,388.9 L336.8,388.6 L337.0,388.5 L337.3,388.0 L337.5,387.6 L337.8,387.5 L338.0,387.2 L338.3,386.7 L338.5,386.5 L338.8,386.4 L339.1,386.2 L339.3,385.8 L339.6,385.3 L339.8,385.0 L340.1,384.5 L340.4,384.8 L340.6,385.1 L340.9,385.1 L341.1,385.0 L341.4,384.9 L341.6,384.7 L341.9,384.7 L342.1,384.7 L342.4,384.4 L342.6,384.2 L342.9,384.2 L343.1,384.0 L343.4,383.8 L343.6,384.0 L343.9,384.4 L344.1,384.3 L344.4,384.2 L344.6,384.4 L344.9,384.9 L345.1,385.1 L345.4,385.3 L345.6,385.4 L345.9,385.7 L346.1,385.9 L346.4,386.0 L346.6,386.1 L346.9,385.9 L347.1,385.6 L347.4,385.0 L347.6,384.8 L347.9,384.6 L348.2,384.0 L348.4,383.9 L348.7,383.7 L349.0,384.0 L349.2,384.4 L349.5,384.6 L349.7,384.8 L350.0,385.2 L350.2,385.0 L350.5,385.4 L350.7,385.6 L351.0,385.6 L351.2,385.8 L351.5,385.6 L351.7,385.4 L352.0,385.6 L352.2,385.7 L352.5,386.1 L352.7,386.1 L353.0,386.1 L353.2,386.2 L353.5,386.4 L353.7,386.3 L354.0,386.6 L354.2,386.9 L354.5,387.0 L354.7,387.3 L355.0,387.0 L355.2,387.0 L355.5,387.0 L355.7,387.5 L356.0,387.6 L356.2,387.7 L356.4,388.3 L356.7,389.0 L356.9,389.7 L357.2,390.3 L357.4,391.0 L357.7,391.8 L357.9,392.3 L358.2,392.7 L358.4,393.1 L358.7,392.7 L358.9,392.3 L359.2,392.2 L359.4,391.8 L359.7,391.5 L360.0,391.4 L360.2,391.1 L360.5,390.9 L360.7,391.2 L361.0,391.5 L361.2,391.8 L361.5,392.2 L361.7,392.5 L362.0,392.8 L362.2,392.9 L362.5,393.2 L362.7,393.4 L363.0,393.6 L363.2,393.7 L363.5,394.1 L363.7,394.7 L363.9,394.1 L364.2,393.8 L364.4,393.4 L364.7,392.9 L364.9,392.7 L365.2,392.3 L365.4,391.7 L365.7,391.3 L365.9,390.9 L366.2,391.1 L366.4,391.2 L366.7,391.3 L366.9,391.3 L367.2,391.5 L367.4,391.5 L367.7,391.6 L367.9,391.3 L368.2,391.4 L368.4,391.4 L368.7,391.3 L368.9,391.5 L369.2,391.6 L369.4,391.6 L369.7,391.5 L369.9,391.9 L370.2,392.0 L370.5,392.3 L370.7,392.4 L371.0,392.4 L371.2,392.5 L371.5,392.6 L371.7,392.7 L372.0,392.8 L372.2,393.0 L372.5,393.2 L372.7,393.1 L373.0,393.3 L373.2,393.5 L373.5,393.6 L373.7,393.8 L374.0,394.3 L374.2,394.3 L374.5,394.2 L374.8,394.1 L375.0,394.1 L375.3,393.9 L375.5,393.7 L375.8,393.6 L376.0,393.8 L376.3,393.7 L376.5,393.7 L376.8,393.3 L377.0,393.2 L377.3,392.8 L377.5,392.4 L377.8,392.2 L378.0,391.9 L378.3,391.8 L378.5,391.7 L378.8,391.5 L379.0,391.3 L379.3,391.3 L379.5,390.9 L379.8,390.8 L380.0,390.5 L380.3,390.1 L380.5,389.9 L380.8,389.7 L381.0,389.5 L381.3,389.2 L381.5,389.2 L381.8,389.2 L382.0,389.1 L400.0,388.8 L414.0,388.8 L414.3,389.0 L414.5,388.8 L414.8,389.1 L415.1,388.6 L415.3,388.2 L415.6,387.8 L415.8,387.5 L416.1,387.4 L416.3,387.4 L416.6,387.3 L416.8,387.7 L417.1,387.7 L417.3,387.7 L417.6,387.7 L417.8,387.5 L418.1,387.3 L418.3,387.2 L418.6,387.5 L418.8,387.6 L419.1,387.5 L419.3,387.7 L419.5,387.9 L419.8,387.7 L420.0,387.4 L420.3,387.3 L420.5,387.0 L420.8,387.1 L421.0,386.6 L421.3,386.4 L421.5,386.0 L446.2,386.0 L446.4,385.8 L446.7,385.8 L446.9,385.8 L447.2,385.5 L447.4,385.3 L447.7,385.2 L447.9,385.1 L448.2,385.0 L448.4,384.6 L448.7,384.7 L448.9,384.5 L449.2,384.4 L449.4,384.2 L463.4,384.2 L463.7,384.1 L463.9,384.3 L464.2,384.2 L464.4,384.0 L464.7,384.5 L465.0,384.4 L465.2,384.5 L465.5,384.7 L465.7,384.8 L466.0,384.6 L466.2,384.4 L466.5,384.7 L466.7,384.6 L467.0,384.5 L467.2,384.2 L467.5,384.4 L467.7,384.2 L467.9,384.0 L468.2,384.0 L468.4,384.0 L468.7,383.7 L468.9,383.7 L469.2,383.6 L469.4,383.4 L469.7,383.5 L469.9,383.0 L470.2,383.2 L470.4,383.3 L470.7,382.7 L470.9,382.6 L483.8,382.6 L484.1,382.1 L484.3,381.8 L484.6,381.5 L484.8,381.5 L485.1,381.2 L485.3,380.7 L485.6,380.9 L485.8,380.6 L486.1,380.6 L486.3,380.9 L486.6,380.6 L486.8,380.3 L487.1,380.4 L487.3,380.2 L487.6,380.1 L487.8,379.9 L488.1,380.4 L495.6,380.4 L495.9,380.0 L496.1,379.9 L496.4,379.9 L496.7,380.4 L496.9,380.6 L497.2,380.9 L497.5,380.7 L497.7,380.4 L498.0,380.0 L498.2,379.9 L498.5,380.0 L498.7,379.8 L499.0,379.4 L499.2,379.4 L499.5,379.1 L499.7,378.7 L500.0,378.5 L500.2,377.7 L500.5,377.9 L500.7,377.6 L501.0,377.4 L501.2,377.7 L501.5,378.1 L501.7,378.2 L502.0,378.8 L502.2,379.2 L502.5,379.2 L502.7,379.3 L503.0,379.7 L503.2,379.7 L503.5,380.1 L503.7,380.6 L504.0,380.7 L504.2,380.6 L504.5,380.4 L504.7,380.8 L505.0,380.7 L505.2,380.8 L505.5,380.0 L505.8,379.8 L506.0,379.4 L506.3,379.3 L506.5,379.5 L506.8,380.0 L507.0,380.1 L507.3,380.7 L507.5,381.5 L507.8,381.8 L508.0,382.4 L508.3,382.4 L508.5,382.6 L508.7,383.2 L509.0,383.1 L509.2,383.2 L509.5,382.9 L509.7,382.9 L510.0,383.2 L510.2,383.2 L510.4,383.0 L510.7,383.2 L510.9,383.5 L511.2,383.7 L511.4,384.0 L511.7,383.7 L511.9,384.2 L512.1,383.9 L512.4,384.0 L512.6,383.6 L512.9,383.2 L513.1,383.0 L513.4,382.8 L513.6,382.8 L513.9,382.9 L514.1,382.7 L514.4,382.6 L514.6,382.6 L514.9,382.7 L515.1,382.6 L515.4,382.5 L515.6,382.0 L515.9,381.7 L516.1,381.3 L516.4,381.1 L516.6,381.3 L516.9,380.8 L517.1,380.9 L517.4,380.7 L517.6,380.8 L517.9,380.9 L518.1,381.3 L518.4,381.9 L518.6,382.1 L518.9,382.6 L519.1,383.0 L519.4,383.3 L519.6,382.9 L519.8,383.2 L520.1,383.5 L520.3,383.6 L520.6,383.9 L520.8,384.5 L521.1,384.5 L521.3,384.7 L521.6,385.2 L521.8,385.1 L522.1,385.2 L522.3,385.5 L522.5,385.6 L522.8,385.6 L523.0,385.4 L523.3,385.2 L523.5,385.1 L523.8,384.6 L524.0,384.7 L524.2,384.3 L524.5,384.2 L524.7,384.2 L525.0,383.9 L525.2,383.9 L525.5,383.9 L525.7,384.2 L526.0,384.5 L526.2,384.7 L526.5,385.2 L526.8,385.7 L527.0,386.2 L527.3,386.6 L527.5,387.3 L527.8,387.6 L528.0,388.4 L528.3,389.1 L528.5,390.1 L528.7,391.3 L529.0,392.1 L529.2,393.1 L529.4,393.2 L529.7,393.3 L529.9,393.7 L530.2,394.0 L530.4,394.7 L530.7,395.0 L530.9,395.3 L531.2,395.8 L531.4,395.8 L531.7,395.9 L531.9,396.6 L532.2,396.1 L532.4,395.8 L532.7,395.4 L532.9,395.2 L533.2,394.8 L533.4,394.4 L533.7,394.2 L533.9,394.0 L534.2,393.8 L534.4,393.4 L534.7,393.1 L535.0,393.3 L535.2,393.5 L535.5,393.9 L535.7,394.3 L536.0,394.9 L536.2,395.1 L536.5,395.4 L536.7,395.9 L537.0,396.2 L537.2,396.4 L537.5,396.9 L537.7,397.2 L538.0,397.6 L538.2,398.0 L538.5,398.4 L538.7,398.7 L539.0,398.8 L539.2,399.0 L539.5,399.4 L539.8,399.1 L540.0,398.8 L540.3,398.4 L540.5,397.9 L540.8,397.4 L541.0,397.1 L541.3,396.8 L541.5,396.7 L541.8,396.3 L542.0,395.9 L542.3,395.2 L542.6,395.1 L542.8,395.1 L543.1,394.8 L543.3,394.9 L543.6,394.8 L543.8,394.5 L544.1,394.3 L544.3,394.1 L544.6,394.0 L544.9,393.8 L545.1,393.4 L545.4,393.3 L545.6,393.1 L545.9,393.0 L546.1,393.0 L546.4,393.1 L546.7,392.9 L546.9,392.9 L547.2,392.7 L547.4,392.5 L547.7,392.4 L547.9,392.3 L548.2,392.2 L548.5,392.4 L548.7,392.5 L549.0,392.5 L549.2,392.5 L549.5,392.5 L549.7,392.5 L550.0,392.5 L550.2,392.3 L550.5,391.8 L604.4,391.8 L604.6,392.0 L604.9,391.9 L605.1,392.0 L605.4,391.9 L605.6,392.1 L605.9,392.4 L606.1,392.5 L606.4,392.5 L606.6,392.6 L606.9,392.9 L607.1,393.1 L607.3,392.9 L607.6,392.8 L607.8,392.5 L608.1,392.2 L608.3,391.9 L608.6,391.6 L608.8,391.5 L609.1,391.3 L609.3,391.3 L609.6,391.2 L609.8,390.9 L610.1,391.1 L610.3,391.2 L610.6,390.9 L610.8,390.7 L611.1,390.5 L611.3,390.4 L611.5,390.5 L611.8,390.4 L612.0,390.2 L612.3,390.2 L612.5,390.0 L612.8,390.0 L613.0,390.0 L613.2,390.0 L613.5,390.2 L613.7,390.3 L614.0,390.6 L614.2,390.6 L614.5,390.4 L614.7,390.3 L615.0,390.2 L615.2,389.8 L615.5,389.8 L615.7,389.6 L616.0,389.5 L616.2,389.3 L616.5,389.4 L616.7,389.3 L617.0,389.3 L617.2,389.2 L617.5,389.2 L617.8,388.9 L618.0,388.6 L618.3,388.6 L618.5,388.5 L618.8,388.4 L619.0,388.4 L619.3,388.4 L626.3,388.4 L626.6,388.3 L626.8,388.1 L627.1,388.0 L627.3,387.8 L627.6,387.7 L627.8,387.8 L628.1,387.8 L628.3,388.0 L628.6,387.7 L628.8,387.4 L629.1,387.6 L629.3,387.7 L629.6,387.5 L629.9,387.4 L630.1,387.1 L630.4,387.1 L630.6,387.0 L630.9,387.2 L631.1,386.9 L631.4,386.6 L631.6,386.6 L631.9,386.5 L632.1,386.7 L632.4,386.4 L632.6,386.4 L632.9,386.4 L633.1,386.3 L633.4,386.5 L633.6,386.6 L633.9,386.4 L634.1,386.4 L634.4,386.4 L634.6,386.2 L634.9,386.2 L635.1,385.9 L635.4,385.8 L635.6,385.7 L635.9,385.3 L636.1,385.1 L636.4,384.8 L636.6,384.8 L636.9,384.5 L637.1,384.7 L637.4,384.9 L637.6,384.6 L637.9,384.5 L638.1,384.3 L638.4,384.2 L638.6,384.1 L638.9,384.3 L639.1,384.6 L639.4,384.8 L639.7,384.9 L639.9,384.9 L640.2,384.6 L640.4,384.4 L640.7,384.3 L640.9,384.3 L641.2,383.9 L641.4,383.8 L641.7,383.4 L641.9,383.4 L642.2,383.2 L642.5,383.1 L642.7,383.3 L643.0,383.5 L643.2,383.2 L643.5,383.2 L643.7,382.7 L644.0,382.5 L644.2,382.3 L644.5,382.4 L644.7,382.2 L645.0,382.2 L645.2,381.9 L645.5,381.7 L691.9,381.7 L692.1,380.8 L692.4,380.7 L692.6,380.3 L692.9,380.0 L693.1,379.3 L693.4,379.3 L693.6,379.1 L693.9,378.7 L694.2,378.8 L694.4,378.7 L694.7,378.7 L694.9,378.5 L695.2,378.2 L715.7,378.2 L716.0,378.5 L716.2,379.0 L716.5,379.6 L716.7,380.2 L717.0,380.5 L717.2,379.8 L717.5,379.5 L717.7,379.4 L718.0,379.4 L718.2,379.2 L718.5,379.9 L718.7,380.0 L719.0,380.4 L719.2,380.4 L719.4,380.0 L719.7,379.1 L719.9,378.6 L720.2,378.3 L720.4,378.2 L720.7,377.6 L720.9,376.9 L721.2,376.3 L721.4,376.1 L721.7,375.6 L721.9,375.2 L722.1,375.1 L722.4,374.8 L722.6,374.9 L722.9,375.0 L723.1,375.0 L723.4,375.1 L723.6,374.9 L723.9,375.1 L724.1,375.1 L724.4,374.9 L724.6,375.0 L724.9,375.0 L725.1,374.9 L725.4,375.0 L725.6,375.2 L725.9,374.9 L726.1,374.9 L726.4,375.1 L726.6,375.2 L726.9,375.7 L727.1,375.9 L727.4,376.2 L727.6,376.6 L727.9,376.7 L728.1,377.0 L728.4,377.1 L728.6,377.4 L728.9,377.8 L729.2,377.3 L729.4,376.8 L729.7,376.2 L729.9,375.9 L730.2,375.5 L730.5,375.0 L730.7,374.7 L731.0,374.6 L731.2,373.8 L731.5,373.2 L731.7,372.7 L732.0,371.9 L748.4,371.9 L748.6,371.8 L748.9,371.9 L749.1,371.9 L749.4,371.8 L749.6,371.0 L749.8,371.0 L750.1,370.6 L750.3,369.8 L750.6,369.5 L750.8,369.1 L782.8,369.1 L783.0,369.2 L783.3,369.0 L783.5,368.2 L783.8,367.9 L784.0,367.9 L784.2,367.5 L784.5,367.2 L784.7,367.0 L785.0,366.8 L785.2,366.4 L785.5,367.3 L785.7,368.4 L786.0,369.5 L786.2,369.3 L786.5,370.0 L786.7,370.3 L786.9,369.9 L787.2,369.6 L787.4,369.7 L787.7,369.9 L787.9,369.5 L788.2,369.1 L788.4,369.2 L788.7,368.7 L788.9,368.7 L789.1,368.4 L789.4,368.2 L789.6,368.7 L789.9,368.5 L790.1,368.3 L790.4,368.0 L790.6,368.0 L790.8,367.7 L791.1,367.4 L791.3,367.4 L791.6,367.3 L791.8,367.4 L792.1,367.0 L792.3,366.7 L792.6,366.5 L792.8,366.4 L793.1,366.2 L793.3,366.0 L793.6,365.9 L793.8,366.4 L794.1,366.3 L794.3,366.1 L794.6,366.0 L794.8,365.4 L795.1,365.6 L795.3,365.3 L795.6,365.0 L795.9,365.0 L796.1,364.7 L796.4,364.8 L796.6,364.5 L796.9,365.2 L797.1,364.7 L797.4,364.4 L797.6,364.2 L797.9,364.3 L798.1,365.1 L798.4,364.9 L798.6,365.0 L798.9,364.9 L799.1,364.9 L799.4,365.4 L799.6,365.3 L799.8,365.4 L800.1,365.3 L800.3,365.0 L800.6,365.3 L800.8,365.1 L801.1,365.5 L801.3,365.0 L801.6,365.1 L801.8,365.5 L802.1,365.2 L802.3,365.2 L802.6,365.5 L802.8,365.9 L803.1,366.5 L803.4,366.9 L803.6,367.2 L803.9,367.5 L804.1,367.2 L804.4,366.6 L804.6,366.4 L804.9,366.2 L805.1,366.2 L805.3,366.1 L805.6,365.8 L805.8,365.7 L806.1,365.9 L806.3,365.6 L806.5,366.9 L806.8,368.1 L807.0,369.9 L807.3,371.7 L807.5,373.4 L807.7,373.5 L808.0,372.9 L808.2,372.3 L808.5,372.1 L808.7,371.8 L809.0,370.4 L809.2,369.2 L809.4,368.6 L809.7,367.8 L809.9,367.6 L810.2,367.4 L810.4,367.1 L810.7,366.4 L810.9,365.6 L825.0,365.6 L825.3,364.8 L825.5,364.0 L825.8,363.3 L826.1,363.1 L826.3,363.5 L826.6,363.0 L826.8,362.9 L827.1,363.0 L827.3,363.2 L827.6,363.1 L827.8,362.9 L828.1,362.5 L828.4,363.2 L828.6,363.6 L828.9,364.4 L829.2,364.5 L829.4,363.8 L829.7,363.4 L829.9,362.8 L830.2,362.3 L830.5,361.4 L830.7,361.0 L831.0,360.6 L831.2,360.6 L831.5,361.0 L831.7,360.2 L832.0,360.2 L839.8,360.2 L840.1,362.2 L840.3,365.5 L840.6,368.5 L840.9,370.9 L841.1,373.3 L841.4,375.8 L841.7,374.5 L841.9,373.2 L842.2,371.5 L842.5,370.3 L842.7,368.8 L843.0,367.2 L843.3,367.1 L843.5,366.7 L843.8,366.5 L844.0,365.8 L844.3,365.5 L844.5,364.9 L844.8,364.4 L845.1,364.5 L845.3,364.0 L845.6,363.6 L845.8,363.3 L846.1,363.3 L846.3,362.3 L846.6,361.4 L846.8,360.6 L847.0,360.4 L847.3,359.5 L847.5,358.5 L891.6,358.5 L891.8,358.0 L892.1,357.4 L892.3,358.0 L892.5,358.1 L892.8,357.9 L893.0,357.2 L893.3,356.7 L893.5,356.1 L893.8,356.6 L894.0,357.3 L894.2,357.6 L894.5,357.9 L894.8,358.6 L895.0,359.3 L895.2,359.5 L895.5,360.0 L895.7,359.2 L896.0,358.9 L896.2,358.9 L896.5,358.0 L896.7,358.1 L896.9,357.7 L897.2,356.8 L897.4,356.1 L897.6,356.9 L897.9,357.7 L898.1,357.8 L898.4,358.0 L898.6,358.1 L898.9,358.5 L899.1,359.2 L899.4,360.3 L899.6,361.1 L899.9,361.3 L900.1,361.8 L900.4,363.0 L900.6,362.9 L900.9,363.9 L901.1,364.7 L901.4,365.1 L901.6,365.5 L901.9,366.2 L902.1,365.9 L902.4,366.7 L902.6,367.2 L902.9,367.9 L903.2,367.3 L903.4,366.5 L903.7,365.6 L903.9,365.3 L904.2,364.7 L904.4,364.5 L904.7,364.3 L904.9,363.7 L905.2,364.0 L905.5,364.0 L905.7,363.1 L906.0,363.1 L906.2,362.5 L906.5,362.2 L906.7,361.6 L907.0,361.0 L907.2,360.0 L907.4,359.6 L907.7,360.2 L907.9,360.1 L908.2,360.2 L908.4,360.6 L908.7,360.8 L908.9,361.1 L909.1,361.3 L909.4,360.9 L909.6,361.4 L909.9,361.5 L910.1,362.0 L910.3,362.1 L910.6,361.6 L910.8,361.1 L911.1,360.7 L911.3,360.6 L911.5,359.9 L911.8,359.5 L912.0,358.9 L912.3,358.2 L912.5,358.1 L912.8,357.5 L913.0,357.1 L913.2,356.7 L913.5,356.6 L913.8,356.3 L914.0,356.5 L914.2,356.4 L914.5,356.9 L914.8,356.5 L915.0,356.1 L915.2,355.5 L915.5,355.5 L915.8,355.4 L916.0,355.2 L916.2,355.6 L916.5,355.8 L916.7,356.6 L917.0,356.4 L917.2,356.5 L917.4,356.9 L917.7,356.7 L917.9,357.1 L918.1,356.4 L918.4,356.0 L918.6,355.0 L918.9,354.7 L919.1,354.4 L919.4,353.8 L919.6,352.6 L919.9,352.2 L920.1,352.6 L920.4,352.6 L920.6,352.9 L920.9,353.1 L921.1,354.1 L921.3,354.2 L921.6,354.7 L921.8,354.8 L922.1,355.5 L922.3,355.5 L922.6,356.0 L922.8,356.1 L923.0,356.6 L923.3,356.9 L923.5,357.1 L923.8,356.8 L924.0,356.0 L924.2,355.0 L924.5,354.3 L924.7,353.9 L925.0,353.3 L925.2,352.6 L925.5,352.6 L925.7,352.2 L925.9,351.9 L926.2,352.3 L926.4,351.9 L926.7,351.7 L926.9,351.9 L927.2,351.4 L927.4,351.1 L927.7,350.9 L927.9,350.7 L928.1,350.9 L928.4,350.5 L928.6,349.8 L928.9,349.9 L929.1,349.5 L929.4,349.1 L929.6,348.9 L938.4,348.9" fill="none" stroke="#2ca02c" stroke-width="1.75" stroke-linejoin="round" stroke-linecap="square"/>
<path d="M58.0,24.424999999999997 V418.675 M980.0,24.424999999999997 V418.675 M57.525,24.9 H980.475 M57.525,418.2 H980.475" fill="none" stroke="#000" stroke-width="0.95" stroke-linecap="butt"/>
<line x1="58.0" y1="368.50" x2="53.85" y2="368.50" stroke="#000" stroke-width="0.95"/>
<text x="48.30" y="372.95" font-family="Liberation Sans, sans-serif" stroke="#1a1a1a" stroke-width="0.2" stroke-opacity="0.6" font-size="12.7" text-anchor="end" textLength="18.43" lengthAdjust="spacingAndGlyphs" fill="#1a1a1a">2.5</text>
<line x1="58.0" y1="317.90" x2="53.85" y2="317.90" stroke="#000" stroke-width="0.95"/>
<text x="48.30" y="322.35" font-family="Liberation Sans, sans-serif" stroke="#1a1a1a" stroke-width="0.2" stroke-opacity="0.6" font-size="12.7" text-anchor="end" textLength="18.43" lengthAdjust="spacingAndGlyphs" fill="#1a1a1a">5.0</text>
<line x1="58.0" y1="267.50" x2="53.85" y2="267.50" stroke="#000" stroke-width="0.95"/>
<text x="48.30" y="271.95" font-family="Liberation Sans, sans-serif" stroke="#1a1a1a" stroke-width="0.2" stroke-opacity="0.6" font-size="12.7" text-anchor="end" textLength="18.43" lengthAdjust="spacingAndGlyphs" fill="#1a1a1a">7.5</text>
<line x1="58.0" y1="216.50" x2="53.85" y2="216.50" stroke="#000" stroke-width="0.95"/>
<text x="48.30" y="220.95" font-family="Liberation Sans, sans-serif" stroke="#1a1a1a" stroke-width="0.2" stroke-opacity="0.6" font-size="12.7" text-anchor="end" textLength="25.81" lengthAdjust="spacingAndGlyphs" fill="#1a1a1a">10.0</text>
<line x1="58.0" y1="166.20" x2="53.85" y2="166.20" stroke="#000" stroke-width="0.95"/>
<text x="48.30" y="170.65" font-family="Liberation Sans, sans-serif" stroke="#1a1a1a" stroke-width="0.2" stroke-opacity="0.6" font-size="12.7" text-anchor="end" textLength="25.81" lengthAdjust="spacingAndGlyphs" fill="#1a1a1a">12.5</text>
<line x1="58.0" y1="115.50" x2="53.85" y2="115.50" stroke="#000" stroke-width="0.95"/>
<text x="48.30" y="119.95" font-family="Liberation Sans, sans-serif" stroke="#1a1a1a" stroke-width="0.2" stroke-opacity="0.6" font-size="12.7" text-anchor="end" textLength="25.81" lengthAdjust="spacingAndGlyphs" fill="#1a1a1a">15.0</text>
<line x1="58.0" y1="65.70" x2="53.85" y2="65.70" stroke="#000" stroke-width="0.95"/>
<text x="48.30" y="70.15" font-family="Liberation Sans, sans-serif" stroke="#1a1a1a" stroke-width="0.2" stroke-opacity="0.6" font-size="12.7" text-anchor="end" textLength="25.81" lengthAdjust="spacingAndGlyphs" fill="#1a1a1a">17.5</text>
<line x1="70.10" y1="418.2" x2="70.10" y2="422.34999999999997" stroke="#000" stroke-width="0.95"/>
<text x="0" y="0" transform="translate(41.02,451.07) rotate(-30)" font-family="Liberation Sans, sans-serif" stroke="#1a1a1a" stroke-width="0.2" stroke-opacity="0.6" font-size="12.7" textLength="30.41" lengthAdjust="spacingAndGlyphs" fill="#1a1a1a">1992</text>
<line x1="179.49" y1="418.2" x2="179.49" y2="422.34999999999997" stroke="#000" stroke-width="0.95"/>
<text x="0" y="0" transform="translate(150.41,451.07) rotate(-30)" font-family="Liberation Sans, sans-serif" stroke="#1a1a1a" stroke-width="0.2" stroke-opacity="0.6" font-size="12.7" textLength="30.41" lengthAdjust="spacingAndGlyphs" fill="#1a1a1a">1996</text>
<line x1="288.88" y1="418.2" x2="288.88" y2="422.34999999999997" stroke="#000" stroke-width="0.95"/>
<text x="0" y="0" transform="translate(259.80,451.07) rotate(-30)" font-family="Liberation Sans, sans-serif" stroke="#1a1a1a" stroke-width="0.2" stroke-opacity="0.6" font-size="12.7" textLength="30.41" lengthAdjust="spacingAndGlyphs" fill="#1a1a1a">2000</text>
<line x1="398.27" y1="418.2" x2="398.27" y2="422.34999999999997" stroke="#000" stroke-width="0.95"/>
<text x="0" y="0" transform="translate(369.19,451.07) rotate(-30)" font-family="Liberation Sans, sans-serif" stroke="#1a1a1a" stroke-width="0.2" stroke-opacity="0.6" font-size="12.7" textLength="30.41" lengthAdjust="spacingAndGlyphs" fill="#1a1a1a">2004</text>
<line x1="507.66" y1="418.2" x2="507.66" y2="422.34999999999997" stroke="#000" stroke-width="0.95"/>
<text x="0" y="0" transform="translate(478.58,451.07) rotate(-30)" font-family="Liberation Sans, sans-serif" stroke="#1a1a1a" stroke-width="0.2" stroke-opacity="0.6" font-size="12.7" textLength="30.41" lengthAdjust="spacingAndGlyphs" fill="#1a1a1a">2008</text>
<line x1="617.05" y1="418.2" x2="617.05" y2="422.34999999999997" stroke="#000" stroke-width="0.95"/>
<text x="0" y="0" transform="translate(587.97,451.07) rotate(-30)" font-family="Liberation Sans, sans-serif" stroke="#1a1a1a" stroke-width="0.2" stroke-opacity="0.6" font-size="12.7" textLength="30.41" lengthAdjust="spacingAndGlyphs" fill="#1a1a1a">2012</text>
<line x1="726.44" y1="418.2" x2="726.44" y2="422.34999999999997" stroke="#000" stroke-width="0.95"/>
<text x="0" y="0" transform="translate(697.36,451.07) rotate(-30)" font-family="Liberation Sans, sans-serif" stroke="#1a1a1a" stroke-width="0.2" stroke-opacity="0.6" font-size="12.7" textLength="30.41" lengthAdjust="spacingAndGlyphs" fill="#1a1a1a">2016</text>
<line x1="835.83" y1="418.2" x2="835.83" y2="422.34999999999997" stroke="#000" stroke-width="0.95"/>
<text x="0" y="0" transform="translate(806.75,451.07) rotate(-30)" font-family="Liberation Sans, sans-serif" stroke="#1a1a1a" stroke-width="0.2" stroke-opacity="0.6" font-size="12.7" textLength="30.41" lengthAdjust="spacingAndGlyphs" fill="#1a1a1a">2020</text>
<line x1="945.22" y1="418.2" x2="945.22" y2="422.34999999999997" stroke="#000" stroke-width="0.95"/>
<text x="0" y="0" transform="translate(916.14,451.07) rotate(-30)" font-family="Liberation Sans, sans-serif" stroke="#1a1a1a" stroke-width="0.2" stroke-opacity="0.6" font-size="12.7" textLength="30.41" lengthAdjust="spacingAndGlyphs" fill="#1a1a1a">2024</text>
<text x="519.00" y="467.3" font-family="Liberation Sans, sans-serif" stroke="#1a1a1a" stroke-width="0.2" stroke-opacity="0.6" font-size="12.7" text-anchor="middle" textLength="28.56" lengthAdjust="spacingAndGlyphs" fill="#1a1a1a">Date</text>
<rect x="64.0" y="31.0" width="281.5" height="58.3" rx="3.2" ry="3.2" fill="#ffffff" fill-opacity="0.8" stroke="#cccccc" stroke-opacity="0.8" stroke-width="1.1"/>
<line x1="67.8" y1="40.10" x2="92.1" y2="40.10" stroke="#1f77b4" stroke-width="1.75" stroke-linecap="square"/>
<text x="102.4" y="44.60" font-family="Liberation Sans, sans-serif" stroke="#1a1a1a" stroke-width="0.2" stroke-opacity="0.6" font-size="12.7" textLength="79.66" lengthAdjust="spacingAndGlyphs" fill="#1a1a1a">Buy and hold</text>
<line x1="67.8" y1="58.45" x2="92.1" y2="58.45" stroke="#ff7f0e" stroke-width="1.75" stroke-linecap="square"/>
<text x="102.4" y="62.95" font-family="Liberation Sans, sans-serif" stroke="#1a1a1a" stroke-width="0.2" stroke-opacity="0.6" font-size="12.7" textLength="138.90" lengthAdjust="spacingAndGlyphs" fill="#1a1a1a">non-default RSI setting</text>
<line x1="67.8" y1="76.80" x2="92.1" y2="76.80" stroke="#2ca02c" stroke-width="1.75" stroke-linecap="square"/>
<text x="102.4" y="81.30" font-family="Liberation Sans, sans-serif" stroke="#1a1a1a" stroke-width="0.2" stroke-opacity="0.6" font-size="12.7" textLength="238.07" lengthAdjust="spacingAndGlyphs" fill="#1a1a1a">the default settings of the RSI indicator</text>
</svg>
</body></html>
